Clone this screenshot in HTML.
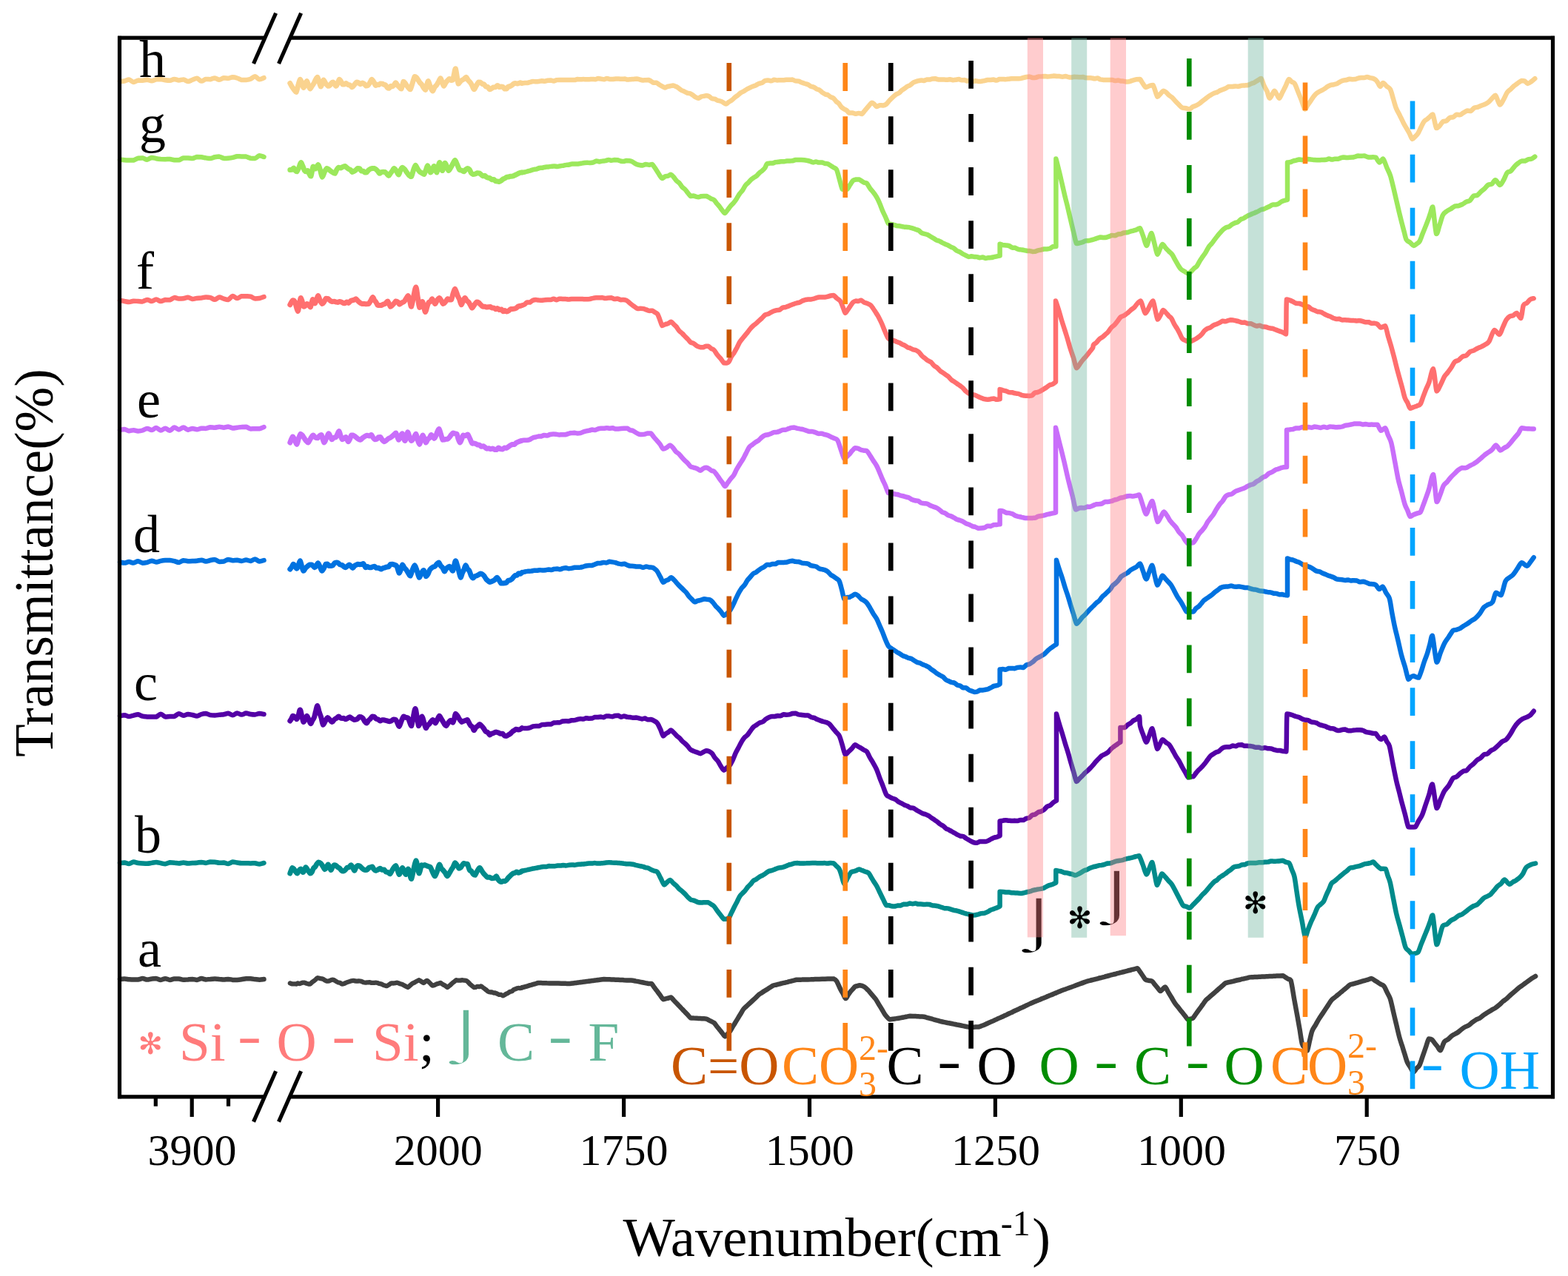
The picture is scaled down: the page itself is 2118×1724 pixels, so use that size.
<!DOCTYPE html>
<html><head><meta charset="utf-8"><title>FTIR spectra</title>
<style>html,body{margin:0;padding:0;background:#fff;overflow:hidden}svg{display:block}</style>
</head><body>
<svg width="2118" height="1724" viewBox="0 0 2118 1724"><rect x="0" y="0" width="2118" height="1724" fill="#fff"/>
<path d="M162.0 110.0C163.0 109.9 166.1 109.9 168.1 109.5C170.2 109.1 172.2 107.6 174.2 107.6C176.3 107.8 178.3 110.9 180.4 111.0C182.4 111.0 184.5 108.9 186.5 108.6C188.5 108.6 190.6 108.7 192.6 108.7C194.7 108.6 196.7 107.8 198.8 107.8C200.8 107.9 202.8 109.3 204.9 109.3C206.9 109.3 209.0 107.8 211.0 107.4C213.0 107.1 215.1 107.1 217.1 107.1C219.2 107.3 221.2 108.1 223.2 108.3C225.3 108.6 227.3 108.8 229.4 108.8C231.4 108.5 233.5 107.0 235.5 106.9C237.5 106.9 239.6 108.4 241.6 108.4C243.7 108.4 245.7 107.4 247.8 107.4C249.8 107.7 251.8 109.9 253.9 110.0C255.9 110.0 258.0 108.5 260.0 107.8C262.0 107.1 264.0 105.8 266.0 105.8C268.0 106.1 270.1 109.4 272.1 109.6C274.1 109.6 276.1 107.3 278.1 106.9C280.1 106.9 282.1 107.2 284.1 107.2C286.1 106.9 288.1 105.4 290.2 105.4C292.2 105.5 294.2 107.8 296.2 107.8C298.2 107.8 300.2 105.6 302.2 105.3C304.2 105.3 306.2 105.8 308.2 105.8C310.3 105.6 312.3 104.3 314.3 104.2C316.3 104.2 318.3 104.8 320.3 105.5C322.3 106.1 324.3 107.7 326.3 108.1C328.4 108.1 330.4 108.1 332.4 108.0C334.4 107.7 336.4 107.5 338.4 106.8C340.4 106.0 342.4 103.3 344.4 103.3C346.4 103.4 348.5 107.0 350.5 107.3C352.5 107.3 355.5 105.5 356.5 105.2" fill="none" stroke="#FAD38F" stroke-width="6.5" stroke-linejoin="round" stroke-linecap="round"/>
<path d="M391.8 112.5C392.3 113.3 393.6 116.0 394.6 117.5C395.5 119.0 396.4 120.1 397.3 121.3C398.3 122.5 399.2 124.6 400.1 124.6C401.0 123.6 401.9 118.0 402.8 115.1C403.6 112.2 404.6 107.7 405.4 107.2C406.2 107.2 406.9 109.9 407.7 111.8C408.5 113.7 409.2 118.2 410.0 118.5C410.8 118.5 411.5 115.3 412.2 113.8C413.0 112.3 413.8 109.5 414.5 109.5C415.2 109.8 416.0 114.0 416.8 115.8C417.5 117.5 418.2 119.9 419.0 120.0C419.8 120.0 420.6 117.5 421.4 116.3C422.3 115.0 423.1 114.2 423.9 112.7C424.7 111.2 425.5 108.9 426.4 107.5C427.2 106.0 428.0 104.2 428.8 104.2C429.6 104.7 430.3 108.5 431.1 110.7C431.8 112.8 432.6 116.6 433.3 117.0C434.0 117.0 434.6 114.5 435.2 113.0C435.8 111.5 436.3 108.0 437.1 108.0C437.9 108.0 439.1 111.6 440.1 113.0C441.2 114.4 442.3 115.9 443.2 116.3C444.1 116.3 444.7 116.0 445.5 115.3C446.2 114.6 447.0 112.8 447.7 112.1C448.5 111.3 449.0 111.0 450.0 111.0C451.0 111.7 452.7 116.0 453.7 116.3C454.7 116.3 455.2 114.2 456.0 112.7C456.8 111.2 457.5 107.7 458.3 107.2C459.1 107.2 459.8 108.7 460.6 109.9C461.3 111.0 462.1 113.3 462.8 114.0C463.6 114.0 464.3 114.0 465.1 114.0C465.8 113.8 466.5 112.5 467.3 112.5C468.1 112.6 469.1 114.0 470.1 114.4C471.0 114.9 471.9 114.7 472.8 115.2C473.8 115.8 474.6 117.8 475.6 117.8C476.6 117.7 477.6 115.8 478.6 114.6C479.7 113.5 480.8 111.5 481.7 111.0C482.6 111.0 483.4 111.3 484.2 111.8C485.1 112.2 485.9 113.6 486.7 113.7C487.6 113.7 488.4 112.2 489.2 112.1C490.1 112.1 490.9 112.5 491.8 113.1C492.6 113.8 493.4 115.6 494.3 116.0C495.1 116.0 495.9 116.0 496.8 115.5C497.7 114.9 498.5 113.6 499.4 112.2C500.3 110.8 501.1 107.5 502.0 107.2C502.9 107.2 503.8 109.1 504.7 110.4C505.6 111.8 506.6 114.9 507.4 115.5C508.2 115.5 508.9 114.4 509.6 114.2C510.4 114.2 511.1 114.5 511.9 114.5C512.6 114.2 513.4 113.1 514.1 112.9C514.9 112.9 515.6 113.0 516.4 113.2C517.2 113.4 517.9 114.0 518.7 114.3C519.4 114.6 520.2 114.4 521.0 115.1C521.7 115.8 522.5 117.6 523.2 118.3C524.0 119.0 524.7 119.3 525.5 119.3C526.3 119.0 527.0 116.7 527.8 116.3C528.5 116.3 529.2 116.8 530.0 116.8C530.8 116.5 531.5 115.5 532.2 114.7C533.0 113.8 533.7 111.7 534.5 111.7C535.3 111.8 536.2 114.2 537.0 115.2C537.9 116.3 538.7 117.1 539.6 117.9C540.4 118.7 541.2 120.0 542.1 120.0C543.0 118.7 544.2 111.4 545.1 110.2C546.0 110.2 546.6 111.5 547.4 112.5C548.1 113.5 548.9 114.9 549.7 116.0C550.4 117.0 551.2 118.0 551.9 118.8C552.7 119.6 553.3 120.8 554.2 120.8C555.1 119.7 556.2 115.0 557.2 112.1C558.2 109.2 559.3 104.6 560.2 103.4C561.1 103.4 561.7 103.8 562.5 104.6C563.3 105.3 564.0 106.8 564.8 108.0C565.6 109.2 566.4 110.7 567.2 111.7C568.1 112.8 568.9 113.2 569.7 114.3C570.5 115.4 571.3 117.2 572.1 118.4C573.0 119.6 573.9 121.5 574.6 121.5C575.3 121.0 575.9 117.3 576.5 115.3C577.1 113.3 577.6 109.5 578.4 109.5C579.2 109.9 580.4 115.2 581.4 117.4C582.4 119.7 583.5 122.9 584.4 123.0C585.3 123.0 586.2 119.2 587.0 117.9C587.9 116.6 588.8 116.3 589.7 115.0C590.6 113.8 591.5 112.1 592.4 110.5C593.2 109.0 594.2 105.7 595.0 105.7C595.8 105.8 596.5 109.4 597.2 111.1C598.0 112.9 598.7 116.2 599.5 116.3C600.3 116.3 601.2 113.2 602.0 111.9C602.8 110.7 603.7 109.7 604.5 108.8C605.3 107.9 606.2 106.5 607.0 106.4C607.8 106.4 608.5 108.1 609.3 108.4C610.1 108.4 610.9 108.4 611.6 108.0C612.3 106.5 612.9 102.2 613.5 99.7C614.1 97.2 614.5 92.8 615.4 92.8C616.3 95.1 618.0 110.3 619.1 113.2C620.2 113.2 620.9 110.9 621.8 110.1C622.6 109.2 623.5 108.7 624.4 108.1C625.3 107.6 626.2 107.2 627.1 106.5C627.9 105.9 628.8 104.2 629.7 104.2C630.6 104.5 631.5 107.2 632.4 108.4C633.2 109.6 634.1 110.0 635.0 111.2C635.9 112.4 636.8 113.8 637.6 115.4C638.5 117.0 639.4 120.7 640.3 120.8C641.2 120.8 642.3 117.5 643.3 115.9C644.3 114.3 645.4 111.8 646.3 111.0C647.2 111.0 648.0 111.0 648.8 111.2C649.7 111.6 650.5 112.8 651.4 113.3C652.2 113.7 653.1 113.4 653.9 114.0C654.7 114.6 655.6 116.5 656.4 117.0C657.2 117.5 658.1 117.0 658.9 117.5C659.7 118.1 660.5 120.5 661.4 120.8C662.3 120.8 663.2 120.0 664.0 119.5C664.9 119.0 665.8 118.2 666.7 117.9C667.6 117.6 668.5 117.9 669.4 117.6C670.2 117.2 671.2 115.5 672.0 115.5C672.8 115.5 673.6 117.3 674.4 117.6C675.2 117.6 676.0 117.1 676.8 117.1C677.6 117.1 678.5 117.1 679.3 117.5C680.1 118.0 680.9 119.7 681.7 120.1C682.5 120.1 683.3 120.1 684.1 120.0C684.9 119.5 685.7 117.8 686.5 117.3C687.3 116.7 688.1 116.9 688.9 116.6C689.7 116.2 690.6 115.8 691.4 115.2C692.2 114.7 693.0 113.6 693.8 113.2C694.6 112.7 695.4 112.5 696.2 112.5C697.0 112.5 697.7 113.0 698.4 113.0C699.1 113.0 699.9 112.7 700.6 112.5C701.3 112.4 702.1 111.9 702.8 111.8C703.5 111.8 704.6 112.4 705.0 112.5" fill="none" stroke="#FAD38F" stroke-width="7.0" stroke-linejoin="round" stroke-linecap="round"/>
<path d="M705.0 112.5C705.6 112.4 707.5 112.0 708.7 111.9C710.0 111.9 711.2 112.0 712.5 112.0C713.7 111.8 715.0 111.2 716.2 110.9C717.5 110.5 718.7 110.1 720.0 110.0C721.2 110.0 722.4 110.3 723.7 110.3C725.0 110.3 726.4 110.2 727.7 110.0C729.1 109.8 730.4 109.3 731.8 109.2C733.1 109.2 734.5 109.8 735.8 109.8C737.1 109.7 738.5 109.0 739.8 108.7C741.2 108.5 742.5 108.4 743.9 108.4C745.2 108.5 746.6 109.5 747.9 109.5C749.2 109.4 750.6 108.5 751.9 108.2C753.3 107.9 754.6 107.9 756.0 107.9C757.3 107.9 758.7 108.0 760.0 108.0C761.3 108.0 762.7 108.0 764.0 108.0C765.3 108.0 766.7 108.1 768.0 108.1C769.3 108.1 770.7 108.0 772.0 108.0C773.3 108.0 774.7 108.1 776.0 108.1C777.3 108.0 778.7 107.2 780.0 107.1C781.3 107.1 782.7 107.3 784.0 107.3C785.3 107.3 786.7 107.1 788.0 107.1C789.3 107.1 790.7 107.2 792.0 107.2C793.3 107.2 794.7 107.2 796.0 107.2C797.3 107.2 798.7 107.0 800.0 107.0C801.3 107.0 802.6 107.2 804.0 107.2C805.3 107.0 806.6 106.2 808.0 106.1C809.3 106.1 810.6 106.4 811.9 106.6C813.2 106.8 814.6 107.2 815.9 107.2C817.2 107.1 818.5 105.9 819.9 105.9C821.2 105.9 822.5 107.0 823.8 107.1C825.2 107.1 826.5 107.1 827.8 107.0C829.1 106.9 830.5 106.7 831.8 106.6C833.1 106.6 834.5 106.6 835.8 106.6C837.2 106.6 838.5 106.8 839.8 106.8C841.2 106.8 842.5 106.6 843.9 106.6C845.2 106.7 846.5 107.4 847.9 107.5C849.2 107.5 850.6 107.3 851.9 107.2C853.2 107.1 854.6 107.0 855.9 106.9C857.2 106.8 858.6 106.6 859.9 106.6C861.3 106.7 862.6 107.0 863.9 107.3C865.3 107.6 866.6 108.4 868.0 108.5C869.3 108.5 870.6 108.3 872.0 108.2C873.3 108.1 874.7 108.0 876.0 108.0C877.3 108.3 878.3 109.1 879.5 109.7C880.7 110.4 881.8 111.5 883.0 111.8C884.2 111.8 885.3 111.7 886.5 111.7C887.7 112.0 888.8 113.2 890.0 114.0C891.2 114.8 892.7 115.7 894.0 116.4C895.3 117.1 896.7 118.3 898.0 118.4C899.3 118.4 900.4 117.2 901.7 116.9C902.9 116.5 904.1 116.5 905.3 116.3C906.6 116.1 907.8 115.5 909.0 115.5C910.2 115.6 911.6 116.2 912.8 116.8C914.1 117.4 915.4 118.2 916.7 119.1C917.9 119.9 919.2 121.2 920.5 122.0C921.8 122.7 923.1 122.9 924.3 123.6C925.6 124.2 926.9 125.2 928.2 125.7C929.4 126.1 930.7 125.7 932.0 126.2C933.3 126.7 934.6 127.7 935.8 128.5C937.1 129.4 938.4 130.6 939.7 131.3C940.9 132.0 942.3 132.7 943.5 132.7C944.7 132.6 945.8 131.2 947.0 130.7C948.2 130.3 949.3 130.1 950.5 129.9C951.7 129.6 952.8 129.3 954.0 129.3C955.2 129.3 956.5 129.5 957.8 130.2C959.0 130.8 960.3 132.5 961.6 133.1C962.8 133.7 964.1 133.2 965.4 133.7C966.6 134.1 967.9 135.1 969.1 135.6C970.4 136.1 971.7 136.1 972.9 136.5C974.2 136.9 975.5 137.6 976.7 138.3C978.0 139.0 979.2 140.6 980.5 140.6C981.8 140.5 983.1 138.6 984.5 137.8C985.8 136.9 987.1 136.4 988.4 135.4C989.8 134.4 991.1 132.9 992.4 131.8C993.7 130.7 995.0 129.9 996.4 128.9C997.7 127.8 999.0 126.4 1000.3 125.5C1001.7 124.6 1002.9 124.3 1004.3 123.5C1005.7 122.7 1007.1 121.5 1008.5 120.7C1009.8 119.9 1011.2 119.4 1012.6 118.7C1014.0 118.1 1015.4 117.3 1016.8 116.8C1018.2 116.2 1019.5 116.0 1020.9 115.3C1022.3 114.7 1023.7 113.5 1025.1 112.9C1026.5 112.3 1027.9 112.6 1029.2 111.9C1030.6 111.3 1032.0 109.6 1033.4 109.0C1034.8 108.5 1036.1 108.5 1037.5 108.5C1038.9 108.5 1040.3 109.3 1041.6 109.3C1043.0 109.2 1044.4 107.9 1045.7 107.8C1047.1 107.8 1048.5 108.3 1049.8 108.4C1051.2 108.4 1052.6 108.3 1054.0 108.3C1055.3 108.3 1056.7 108.3 1058.1 108.3C1059.4 108.3 1060.8 107.8 1062.2 107.7C1063.5 107.7 1064.9 107.8 1066.3 107.8C1067.7 107.8 1069.0 107.6 1070.4 107.6C1071.8 107.9 1073.2 109.1 1074.6 109.4C1076.0 109.6 1077.4 109.4 1078.8 109.6C1080.2 110.0 1081.7 111.0 1083.1 111.6C1084.5 112.2 1085.9 112.6 1087.3 113.0C1088.7 113.5 1090.2 113.6 1091.5 114.2C1092.8 114.8 1094.0 116.2 1095.3 116.8C1096.6 117.3 1097.9 117.1 1099.1 117.7C1100.4 118.3 1101.7 119.6 1103.0 120.2C1104.2 120.9 1105.5 120.8 1106.8 121.6C1108.1 122.3 1109.3 123.8 1110.6 124.8C1111.9 125.7 1113.2 126.6 1114.4 127.2C1115.7 127.8 1117.0 127.7 1118.3 128.3C1119.5 129.0 1120.8 130.5 1122.1 131.2C1123.4 131.9 1124.7 131.7 1125.9 132.7C1127.1 133.7 1128.3 135.8 1129.4 137.0C1130.6 138.1 1131.8 138.5 1133.0 139.8C1134.1 141.0 1135.3 143.4 1136.5 144.6C1137.7 145.8 1138.8 146.4 1140.0 147.2C1141.2 147.9 1142.3 148.2 1143.5 149.0C1144.7 149.9 1145.7 151.9 1147.0 152.5C1148.3 152.5 1149.9 152.5 1151.3 152.5C1152.7 152.7 1154.2 153.7 1155.6 153.7C1157.0 153.7 1158.5 152.9 1159.9 152.9C1161.3 152.9 1162.8 153.9 1164.2 153.9C1165.6 153.3 1166.9 150.9 1168.2 149.4C1169.5 147.8 1170.7 146.4 1172.2 144.6C1173.8 142.8 1176.1 139.5 1177.5 138.8C1178.9 138.8 1179.7 139.7 1180.8 140.6C1181.8 141.5 1182.7 143.7 1184.0 144.0C1185.3 144.0 1187.0 142.4 1188.4 142.2C1189.9 142.2 1191.4 142.5 1192.9 142.5C1194.3 142.3 1195.8 141.8 1197.3 140.6C1198.8 139.4 1200.2 137.0 1201.7 135.5C1203.2 133.9 1204.6 132.6 1206.1 131.2C1207.6 129.9 1209.1 128.3 1210.5 127.4C1211.9 126.5 1213.0 126.6 1214.3 125.7C1215.5 124.9 1216.8 123.2 1218.1 122.1C1219.3 121.1 1220.6 120.4 1221.9 119.5C1223.1 118.6 1224.4 117.6 1225.6 116.8C1226.9 116.1 1228.2 115.9 1229.4 115.1C1230.7 114.3 1232.0 112.7 1233.2 111.9C1234.5 111.0 1235.7 110.7 1237.0 110.2C1238.3 109.7 1239.5 109.4 1240.8 109.1C1242.0 108.9 1243.3 108.6 1244.5 108.6C1245.8 108.6 1247.1 109.0 1248.3 109.0C1249.6 108.8 1250.8 107.6 1252.1 107.4C1253.3 107.4 1254.6 107.6 1255.9 107.6C1257.1 107.4 1258.4 106.6 1259.6 106.4C1260.9 106.3 1262.1 106.3 1263.4 106.3C1264.7 106.5 1266.0 107.2 1267.4 107.4C1268.7 107.5 1270.0 107.5 1271.3 107.5C1272.6 107.6 1274.0 107.6 1275.3 107.6C1276.6 107.6 1277.9 107.7 1279.2 107.7C1280.6 107.7 1281.9 107.3 1283.2 107.3C1284.5 107.4 1285.8 108.1 1287.2 108.2C1288.5 108.2 1289.8 108.0 1291.1 107.8C1292.4 107.6 1293.8 107.1 1295.1 107.1C1296.4 107.2 1297.7 108.2 1299.0 108.3C1300.4 108.3 1301.8 108.1 1303.0 108.1C1304.2 108.3 1305.4 109.3 1306.5 109.4C1307.7 109.4 1308.9 108.6 1310.1 108.6C1311.2 108.8 1312.3 110.1 1313.6 110.2C1314.9 110.2 1316.3 109.4 1317.6 109.3C1319.0 109.3 1320.3 110.0 1321.7 110.1C1323.0 110.1 1324.4 109.9 1325.7 109.8C1327.1 109.6 1328.4 109.4 1329.8 109.1C1331.1 108.8 1332.5 108.2 1333.8 108.0C1335.2 107.9 1336.5 108.0 1337.9 107.9C1339.2 107.9 1340.6 107.6 1341.9 107.6C1343.3 107.7 1344.6 108.6 1346.0 108.6C1347.3 108.5 1348.7 107.2 1350.0 107.0C1351.4 106.9 1352.7 106.9 1354.1 106.9C1355.4 106.9 1356.8 107.2 1358.1 107.2C1359.5 107.2 1360.8 107.0 1362.2 106.8C1363.5 106.7 1364.9 106.4 1366.2 106.3C1367.6 106.2 1368.9 106.2 1370.3 106.2C1371.6 106.2 1373.0 106.3 1374.3 106.3C1375.7 106.2 1377.0 106.3 1378.4 106.1C1379.7 105.8 1381.0 105.3 1382.4 105.0C1383.8 104.7 1385.2 104.3 1386.6 104.0C1388.0 103.8 1389.4 103.6 1390.7 103.6C1392.1 103.8 1393.5 104.8 1394.9 104.9C1396.3 104.9 1397.7 104.9 1399.1 104.7C1400.5 104.4 1401.9 103.6 1403.3 103.4C1404.6 103.2 1406.0 103.2 1407.4 103.2C1408.8 103.1 1410.2 103.1 1411.6 103.1C1413.0 103.2 1414.2 103.5 1415.5 103.5C1416.9 103.5 1418.2 103.3 1419.5 103.1C1420.8 103.0 1422.1 102.7 1423.4 102.6C1424.7 102.6 1426.0 102.9 1427.4 103.0C1428.7 103.0 1430.0 103.0 1431.3 103.1C1432.6 103.3 1433.9 103.7 1435.2 103.7C1436.5 103.7 1437.9 103.0 1439.2 103.0C1440.5 103.1 1441.8 103.9 1443.1 104.1C1444.4 104.4 1445.7 104.6 1447.0 104.6C1448.4 104.6 1449.7 103.8 1451.0 103.7C1452.3 103.7 1453.6 104.0 1454.9 104.1C1456.2 104.2 1457.5 104.3 1458.9 104.3C1460.2 104.3 1461.5 104.1 1462.8 104.1C1464.1 104.2 1465.4 104.9 1466.7 105.1C1468.1 105.2 1469.4 105.1 1470.7 105.2C1472.0 105.3 1473.3 105.3 1474.6 105.4C1475.9 105.6 1477.3 106.2 1478.6 106.2C1479.9 106.2 1481.2 105.4 1482.5 105.4C1483.8 105.6 1485.2 107.1 1486.5 107.5C1487.8 107.9 1489.1 107.8 1490.4 107.9C1491.7 107.9 1493.0 107.9 1494.4 107.9C1495.7 107.9 1497.0 108.0 1498.3 108.0C1499.6 108.0 1500.9 107.9 1502.2 107.9C1503.6 108.1 1504.9 109.0 1506.2 109.1C1507.5 109.1 1508.8 108.5 1510.2 108.5C1511.5 108.5 1512.8 109.3 1514.1 109.5C1515.4 109.7 1516.7 109.5 1518.0 109.7C1519.4 109.8 1520.6 110.6 1522.0 110.6C1523.4 110.6 1525.0 110.2 1526.5 109.8C1527.9 109.4 1529.4 108.8 1530.9 108.4C1532.4 107.9 1533.9 107.4 1535.3 107.2C1536.8 107.0 1538.4 107.0 1539.8 107.0C1541.2 108.0 1542.4 111.2 1543.8 113.0C1545.1 114.8 1546.2 117.4 1547.7 117.9C1549.2 117.9 1551.0 116.5 1552.6 116.0C1554.2 115.5 1555.7 115.0 1557.5 115.0C1559.3 117.4 1561.8 128.7 1563.4 130.7C1565.0 130.7 1566.0 128.2 1567.3 126.9C1568.7 125.5 1570.0 123.1 1571.3 122.8C1572.6 122.8 1573.9 123.9 1575.3 124.9C1576.6 125.9 1577.9 127.7 1579.2 128.8C1580.6 130.0 1581.8 130.4 1583.2 131.7C1584.6 133.0 1586.3 135.2 1587.8 136.8C1589.3 138.4 1590.9 140.0 1592.4 141.4C1593.9 142.9 1595.4 144.7 1597.0 145.5C1598.6 146.2 1600.3 145.9 1601.9 146.2C1603.5 146.5 1605.2 147.5 1606.8 147.5C1608.4 147.2 1609.9 145.0 1611.4 144.2C1612.9 143.4 1614.5 143.2 1616.0 142.4C1617.5 141.7 1619.2 140.6 1620.6 139.6C1622.0 138.6 1623.2 137.3 1624.5 136.3C1625.9 135.3 1627.2 134.3 1628.5 133.3C1629.8 132.3 1631.1 131.1 1632.5 130.2C1633.8 129.3 1635.1 128.5 1636.4 127.8C1637.7 127.1 1639.0 126.3 1640.3 125.8C1641.6 125.2 1643.0 125.1 1644.3 124.5C1645.6 123.9 1646.9 122.8 1648.2 122.2C1649.5 121.6 1650.8 121.3 1652.1 120.8C1653.4 120.3 1654.8 119.8 1656.1 119.1C1657.4 118.5 1658.6 117.2 1660.0 116.9C1661.4 116.9 1662.9 117.1 1664.3 117.1C1665.7 117.1 1667.1 116.4 1668.6 116.4C1670.0 116.4 1671.4 116.8 1672.8 116.8C1674.3 116.7 1675.7 115.9 1677.1 115.6C1678.6 115.4 1680.0 115.5 1681.4 115.4C1682.8 115.3 1684.2 115.4 1685.7 115.0C1687.2 114.6 1688.7 113.6 1690.2 113.0C1691.6 112.4 1693.1 112.1 1694.6 111.3C1696.1 110.6 1697.6 109.5 1699.0 108.6C1700.5 107.7 1702.1 106.0 1703.5 106.0C1704.9 107.2 1706.1 112.8 1707.4 115.7C1708.7 118.5 1710.1 120.3 1711.4 123.2C1712.7 126.0 1713.7 132.7 1715.3 132.7C1716.9 132.6 1719.6 123.6 1721.2 122.8C1722.8 122.8 1723.5 126.0 1724.7 127.6C1725.8 129.3 1726.8 132.7 1728.1 132.7C1729.4 132.2 1731.0 127.3 1732.4 124.5C1733.8 121.7 1735.3 118.9 1736.7 116.0C1738.1 113.1 1739.6 107.9 1741.0 107.0C1742.4 107.0 1743.6 109.6 1744.9 110.6C1746.2 111.6 1747.4 110.8 1748.8 113.0C1750.2 115.2 1751.9 120.3 1753.4 124.1C1754.9 127.9 1756.5 131.8 1758.0 135.7C1759.5 139.6 1761.2 146.4 1762.6 147.5C1764.0 147.5 1765.1 143.9 1766.3 142.2C1767.6 140.4 1768.8 138.8 1770.0 137.0C1771.3 135.1 1772.5 132.9 1773.8 131.2C1775.0 129.5 1776.2 128.0 1777.5 126.8C1778.8 125.6 1780.1 124.9 1781.5 124.1C1782.8 123.3 1784.1 122.8 1785.4 122.1C1786.7 121.4 1788.0 120.7 1789.3 119.8C1790.7 118.9 1791.9 117.7 1793.3 116.9C1794.7 116.1 1796.1 115.4 1797.6 114.9C1799.0 114.5 1800.4 114.5 1801.8 114.2C1803.3 113.8 1804.7 113.5 1806.1 112.9C1807.5 112.3 1808.9 111.1 1810.4 110.3C1811.8 109.6 1813.2 109.0 1814.6 108.6C1816.1 108.2 1817.5 108.3 1818.9 108.0C1820.3 107.7 1821.5 107.0 1822.8 106.8C1824.2 106.8 1825.5 107.2 1826.8 107.2C1828.1 107.2 1829.4 107.2 1830.7 107.1C1832.0 106.8 1833.4 105.9 1834.7 105.6C1836.0 105.2 1837.3 105.0 1838.6 104.9C1839.9 104.9 1841.2 104.9 1842.6 104.9C1843.9 104.8 1845.2 104.1 1846.5 104.1C1847.8 104.1 1849.1 104.8 1850.4 105.1C1851.7 105.4 1853.1 105.4 1854.4 105.9C1855.7 106.4 1857.1 107.0 1858.3 108.0C1859.5 109.0 1860.3 110.5 1861.3 112.0C1862.3 113.5 1863.1 116.9 1864.3 116.9C1865.5 116.9 1866.7 112.0 1868.2 112.0C1869.7 112.0 1871.5 115.1 1873.1 116.6C1874.7 118.1 1876.5 118.1 1878.0 120.9C1879.5 123.7 1880.7 129.4 1882.0 133.6C1883.3 137.9 1884.5 142.8 1886.0 146.5C1887.5 150.2 1889.3 152.8 1890.9 156.1C1892.5 159.4 1894.3 163.3 1895.8 166.2C1897.3 169.1 1898.4 170.9 1899.8 173.2C1901.1 175.5 1902.4 177.6 1903.7 180.0C1905.1 182.5 1906.4 187.2 1907.7 187.9C1909.0 187.9 1910.3 185.7 1911.6 184.4C1912.9 183.1 1914.2 182.1 1915.5 180.0C1916.8 177.9 1918.1 174.5 1919.5 171.9C1920.8 169.3 1922.1 166.1 1923.4 164.3C1924.7 162.5 1926.0 162.4 1927.4 161.3C1928.7 160.3 1930.0 159.0 1931.3 157.8C1932.7 156.7 1933.8 154.4 1935.3 154.4C1936.8 156.9 1938.7 170.5 1940.2 173.1C1941.8 173.1 1943.1 171.4 1944.6 170.0C1946.1 168.5 1947.5 165.4 1949.0 164.3C1950.5 163.3 1952.1 164.1 1953.6 163.3C1955.2 162.4 1956.7 160.0 1958.2 159.2C1959.8 158.3 1961.3 158.9 1962.8 158.2C1964.4 157.5 1965.9 155.3 1967.5 154.8C1969.0 154.8 1970.5 155.2 1972.1 155.2C1973.6 154.8 1975.1 153.3 1976.7 152.4C1978.3 151.5 1980.0 150.0 1981.6 149.6C1983.3 149.6 1984.9 150.0 1986.6 150.0C1988.2 149.3 1989.9 146.5 1991.5 145.6C1993.1 144.7 1994.8 145.1 1996.4 144.6C1998.1 144.0 1999.7 143.2 2001.4 142.5C2003.0 141.9 2004.7 141.4 2006.3 140.6C2007.9 139.8 2009.3 139.0 2010.9 137.7C2012.4 136.5 2013.9 134.5 2015.4 133.0C2017.0 131.6 2018.2 128.8 2020.0 128.8C2021.8 130.2 2024.2 140.7 2026.0 141.6C2027.8 141.6 2029.3 137.2 2031.0 134.4C2032.6 131.6 2034.3 127.2 2035.9 124.8C2037.5 122.4 2039.2 121.8 2040.8 120.3C2042.5 118.7 2044.1 117.0 2045.8 115.6C2047.4 114.2 2049.0 113.0 2050.7 111.9C2052.3 110.8 2054.1 109.4 2055.6 109.0C2057.1 109.0 2058.2 109.0 2059.6 109.5C2060.9 110.2 2062.0 112.9 2063.5 113.0C2065.0 113.0 2066.8 111.4 2068.4 110.2C2070.0 109.1 2072.5 106.8 2073.3 106.1" fill="none" stroke="#FAD38F" stroke-width="6.5" stroke-linejoin="round" stroke-linecap="round"/>
<path d="M162.0 215.7C163.0 215.8 166.1 216.2 168.1 216.3C170.2 216.5 172.2 216.5 174.2 216.5C176.3 216.5 178.3 216.5 180.4 216.5C182.4 216.0 184.5 214.3 186.5 213.8C188.5 213.4 190.6 213.4 192.6 213.4C194.7 213.7 196.7 215.7 198.8 215.7C200.8 215.6 202.8 213.2 204.9 213.0C206.9 213.0 209.0 213.8 211.0 214.2C213.0 214.6 215.1 214.9 217.1 215.1C219.2 215.2 221.2 215.2 223.2 215.2C225.3 215.2 227.3 215.0 229.4 215.0C231.4 215.2 233.5 216.0 235.5 216.2C237.5 216.2 239.6 216.2 241.6 216.2C243.7 215.8 245.7 213.9 247.8 213.5C249.8 213.4 251.8 213.4 253.9 213.4C255.9 213.5 258.0 214.0 260.0 214.0C262.0 213.8 264.0 212.3 266.0 212.0C268.0 212.0 270.1 212.0 272.1 212.2C274.1 212.5 276.1 213.1 278.1 213.4C280.1 213.7 282.1 214.1 284.1 214.1C286.1 213.9 288.1 212.7 290.2 212.3C292.2 211.9 294.2 211.6 296.2 211.6C298.2 211.9 300.2 213.5 302.2 213.9C304.2 213.9 306.2 213.9 308.2 213.7C310.3 213.5 312.3 213.3 314.3 212.9C316.3 212.5 318.3 211.6 320.3 211.3C322.3 211.3 324.3 211.4 326.3 211.4C328.4 211.5 330.4 211.4 332.4 211.6C334.4 212.0 336.4 213.4 338.4 213.8C340.4 214.0 342.4 214.0 344.4 214.0C346.4 213.4 348.5 210.6 350.5 210.3C352.5 210.3 355.5 211.7 356.5 212.0" fill="none" stroke="#9CE85C" stroke-width="6.5" stroke-linejoin="round" stroke-linecap="round"/>
<path d="M391.8 229.4C392.2 229.4 393.4 229.4 394.2 229.3C395.1 228.9 395.9 226.9 396.7 226.9C397.5 227.1 398.1 229.6 398.9 230.4C399.6 231.2 400.2 231.8 401.0 231.8C401.8 231.1 402.8 228.5 403.8 226.5C404.7 224.4 405.6 219.9 406.5 219.6C407.4 219.6 408.1 222.6 408.9 224.4C409.8 226.2 410.6 229.4 411.4 230.6C412.2 231.8 412.8 231.8 413.5 231.8C414.3 231.8 415.0 230.6 415.7 230.6C416.4 231.1 417.1 233.9 417.9 235.1C418.6 236.3 419.1 238.0 420.0 238.0C420.9 236.3 422.0 226.8 423.0 225.1C424.0 225.1 425.0 228.1 426.1 228.1C427.2 227.7 428.7 222.6 429.8 222.6C430.9 222.9 431.6 227.2 432.6 230.0C433.5 232.7 434.3 238.8 435.3 239.2C436.3 239.2 437.4 234.1 438.4 232.1C439.4 230.2 440.5 228.0 441.5 227.5C442.5 227.5 443.5 228.6 444.6 229.3C445.6 230.0 446.7 231.1 447.6 231.8C448.5 232.5 449.2 232.8 450.1 233.3C450.9 233.7 451.7 234.3 452.5 234.3C453.3 233.6 454.1 230.4 454.9 229.1C455.8 227.7 456.5 226.7 457.4 226.3C458.3 226.3 459.3 226.9 460.3 226.9C461.2 226.8 462.2 225.9 463.1 225.5C464.1 225.2 465.1 224.5 466.0 224.5C466.9 224.7 467.6 225.9 468.4 226.5C469.3 227.2 470.1 227.9 470.9 228.4C471.7 228.9 472.5 228.7 473.4 229.4C474.2 230.1 475.0 232.1 475.8 232.4C476.6 232.4 477.4 231.9 478.3 231.4C479.1 231.0 479.9 230.4 480.7 229.8C481.6 229.1 482.4 227.9 483.2 227.5C484.0 227.5 484.8 227.5 485.6 227.6C486.5 228.2 487.3 230.4 488.1 231.0C488.9 231.2 489.7 231.0 490.6 231.2C491.4 231.6 492.2 232.7 493.0 233.0C493.8 233.0 494.6 233.0 495.4 232.8C496.3 232.2 497.1 230.6 497.9 229.8C498.7 229.1 499.5 228.5 500.4 228.1C501.2 227.7 502.0 227.6 502.8 227.5C503.6 227.4 504.5 227.4 505.3 227.4C506.1 227.6 507.0 228.2 507.8 228.8C508.6 229.4 509.4 230.2 510.2 231.1C511.1 232.0 511.9 234.1 512.7 234.3C513.5 234.3 514.3 232.9 515.1 232.6C515.9 232.2 516.8 232.2 517.6 232.2C518.4 232.2 519.2 232.2 520.0 232.4C520.8 232.8 521.7 234.0 522.5 234.8C523.3 235.7 524.2 237.4 525.0 237.4C525.8 237.3 526.6 235.3 527.4 234.2C528.2 233.2 529.1 232.1 529.9 230.9C530.7 229.8 531.4 227.5 532.3 227.5C533.2 227.5 534.3 229.4 535.3 230.8C536.4 232.3 537.5 236.1 538.4 236.1C539.3 236.0 540.1 231.6 540.9 230.0C541.7 228.3 542.5 226.5 543.4 226.3C544.3 226.3 545.4 227.6 546.5 228.7C547.5 229.8 548.5 231.6 549.5 233.0C550.5 234.4 551.5 235.9 552.5 236.8C553.6 237.8 554.6 238.6 555.6 238.6C556.6 237.5 557.5 232.5 558.4 230.0C559.3 227.4 560.3 223.5 561.2 223.2C562.1 223.2 563.0 226.5 564.0 228.0C564.9 229.4 565.7 230.8 566.7 231.8C567.7 232.8 568.7 233.2 569.8 233.8C570.8 234.4 571.9 235.5 572.8 235.5C573.7 234.9 574.4 231.9 575.2 229.9C576.1 228.0 576.7 223.8 577.7 223.8C578.7 224.3 580.4 232.0 581.4 233.0C582.4 233.0 583.0 231.3 583.8 229.9C584.7 228.5 585.3 224.5 586.3 224.5C587.3 225.0 588.8 233.0 590.0 233.0C591.2 232.2 592.5 220.0 593.7 219.6C594.9 219.6 596.2 230.5 597.4 230.6C598.6 230.6 600.0 221.2 601.0 220.2C602.0 220.2 602.7 223.0 603.5 224.8C604.3 226.5 605.1 230.3 606.0 230.6C606.9 230.6 607.9 228.0 608.9 226.4C609.8 224.9 610.8 222.9 611.7 221.2C612.7 219.6 613.6 216.5 614.6 216.5C615.6 216.7 616.6 220.5 617.7 222.6C618.7 224.8 619.7 228.1 620.7 229.4C621.7 230.3 622.7 229.9 623.8 230.3C624.8 230.7 625.9 231.8 626.8 231.8C627.7 231.6 628.4 229.6 629.2 228.9C630.1 228.2 630.9 227.5 631.7 227.5C632.5 227.5 633.3 228.1 634.2 229.1C635.0 230.2 635.8 232.9 636.6 233.9C637.5 235.0 638.2 235.3 639.1 235.5C640.0 235.5 641.1 235.3 642.0 235.0C643.0 234.7 644.1 233.9 645.0 233.7C645.9 233.7 646.7 233.7 647.5 234.0C648.3 234.4 649.2 235.4 650.0 236.0C650.8 236.6 651.6 237.6 652.4 237.8C653.2 237.8 654.0 237.2 654.8 237.2C655.6 237.5 656.4 238.9 657.2 239.4C658.0 239.9 658.8 240.0 659.6 240.2C660.4 240.5 661.2 240.6 662.0 241.0C662.8 241.4 663.7 242.4 664.5 242.7C665.4 242.7 666.2 242.5 667.0 242.5C667.9 242.9 668.7 244.4 669.6 244.8C670.4 245.1 671.2 245.0 672.1 245.1C672.9 245.2 673.8 245.4 674.6 245.4C675.4 245.2 676.3 244.6 677.1 244.0C677.9 243.4 678.7 242.4 679.6 241.9C680.4 241.3 681.2 241.4 682.0 240.9C682.9 240.5 683.7 239.6 684.5 239.3C685.3 239.0 686.2 239.2 687.0 239.0C687.8 238.8 688.7 238.4 689.6 238.2C690.4 238.1 691.3 238.2 692.1 238.1C693.0 237.9 693.9 237.4 694.7 237.1C695.6 236.7 696.4 236.4 697.3 235.9C698.1 235.5 699.0 235.0 699.9 234.5C700.7 234.1 701.6 233.5 702.4 233.3C703.3 233.0 704.6 233.0 705.0 233.0" fill="none" stroke="#9CE85C" stroke-width="7.0" stroke-linejoin="round" stroke-linecap="round"/>
<path d="M705.0 233.0C705.7 232.9 707.6 232.8 708.9 232.5C710.2 232.3 711.6 231.7 712.9 231.3C714.2 230.9 715.5 230.7 716.8 230.3C718.1 229.9 719.4 229.4 720.7 229.1C722.0 228.8 723.4 228.9 724.7 228.5C726.0 228.2 727.3 227.3 728.6 227.0C729.9 226.7 731.3 226.9 732.6 226.7C734.0 226.5 735.3 225.9 736.7 225.7C738.0 225.5 739.3 225.6 740.7 225.4C742.0 225.3 743.4 225.1 744.7 224.9C746.1 224.7 747.4 224.4 748.7 224.4C750.1 224.4 751.4 225.1 752.8 225.1C754.1 225.0 755.5 224.5 756.8 224.3C758.1 224.0 759.5 223.9 760.8 223.7C762.2 223.4 763.5 223.1 764.9 222.9C766.2 222.7 767.5 222.8 768.9 222.5C770.2 222.3 771.6 221.6 772.9 221.4C774.3 221.4 775.6 221.6 776.9 221.6C778.3 221.6 779.6 221.5 781.0 221.4C782.3 221.3 783.6 221.0 785.0 220.8C786.4 220.6 787.7 220.2 789.1 220.0C790.5 219.8 791.9 219.7 793.2 219.7C794.6 219.8 796.0 220.1 797.3 220.1C798.7 220.0 800.1 219.9 801.4 219.4C802.8 219.0 804.2 217.5 805.6 217.4C806.9 217.4 808.3 218.4 809.7 218.4C811.0 218.4 812.4 217.8 813.8 217.6C815.1 217.4 816.5 217.4 817.9 217.1C819.3 216.8 820.6 216.0 822.0 216.0C823.4 216.0 824.7 216.8 826.0 216.8C827.3 216.8 828.7 216.2 830.0 216.1C831.3 216.1 832.7 216.1 834.0 216.2C835.3 216.5 836.7 217.1 838.0 217.5C839.3 217.8 840.7 218.1 842.0 218.1C843.3 218.0 844.7 217.2 846.0 217.1C847.3 217.1 848.7 217.1 850.0 217.2C851.3 217.4 852.5 217.7 854.0 218.4C855.5 219.1 857.2 220.7 858.9 221.5C860.5 222.3 862.2 222.7 863.7 223.0C865.2 223.3 866.6 223.5 868.0 223.5C869.4 223.3 870.9 222.2 872.3 222.1C873.7 222.1 875.2 222.8 876.6 222.8C878.0 222.8 879.6 222.0 880.9 222.0C882.2 222.6 883.3 225.0 884.5 226.6C885.6 228.3 886.9 230.3 888.0 232.0C889.1 233.7 890.2 235.6 891.2 237.1C892.3 238.6 893.3 240.8 894.5 241.0C895.7 241.0 897.1 238.9 898.5 238.4C899.8 237.8 901.1 238.2 902.4 237.7C903.8 237.3 905.1 235.8 906.4 235.8C907.7 236.1 908.9 238.0 910.2 239.5C911.4 240.9 912.7 243.1 914.0 244.4C915.2 245.7 916.5 246.1 917.8 247.5C919.0 248.9 920.3 251.3 921.5 252.8C922.8 254.2 924.1 254.6 925.3 255.9C926.6 257.3 927.9 259.2 929.1 260.7C930.4 262.2 931.7 264.4 932.9 265.0C934.1 265.0 935.3 264.6 936.4 264.6C937.6 264.7 938.8 265.3 940.0 265.6C941.1 265.9 942.3 266.2 943.5 266.2C944.7 266.1 945.8 265.4 947.0 265.2C948.2 265.1 949.3 265.1 950.5 265.1C951.7 265.1 952.8 265.0 954.0 265.0C955.2 265.3 956.4 266.1 957.5 266.7C958.7 267.3 959.9 268.2 961.1 268.8C962.2 269.3 963.4 269.2 964.6 270.2C965.8 271.2 967.0 273.4 968.2 274.9C969.5 276.4 970.7 277.6 971.9 279.1C973.1 280.7 974.3 282.7 975.6 284.2C976.8 285.7 977.9 288.0 979.2 288.0C980.5 287.8 981.8 284.8 983.1 283.2C984.4 281.5 985.8 279.6 987.1 278.0C988.4 276.5 989.7 275.6 991.0 274.0C992.3 272.4 993.7 270.4 995.0 268.4C996.3 266.4 997.7 263.8 999.0 261.9C1000.3 260.1 1001.7 259.0 1003.0 257.1C1004.3 255.2 1005.7 252.1 1007.0 250.4C1008.3 248.7 1009.5 248.1 1010.8 246.8C1012.0 245.5 1013.3 243.9 1014.5 242.7C1015.8 241.6 1017.1 240.8 1018.3 239.9C1019.6 239.1 1020.8 238.7 1022.1 237.6C1023.3 236.5 1024.6 234.5 1025.9 233.4C1027.1 232.2 1028.4 231.7 1029.6 230.6C1030.9 229.5 1032.3 228.1 1033.4 226.6C1034.5 225.1 1034.9 222.3 1036.0 221.3C1037.1 220.6 1038.6 220.7 1039.8 220.6C1041.1 220.5 1042.4 220.6 1043.7 220.5C1045.0 220.3 1046.3 219.4 1047.5 219.1C1048.8 218.8 1050.1 219.0 1051.4 218.8C1052.7 218.7 1053.9 218.3 1055.2 218.2C1056.5 218.2 1057.8 218.2 1059.1 218.2C1060.4 218.1 1061.6 217.7 1062.9 217.6C1064.2 217.5 1065.5 217.6 1066.8 217.5C1068.0 217.5 1069.3 217.5 1070.6 217.2C1071.9 217.0 1073.2 216.2 1074.5 216.0C1075.7 216.0 1077.0 216.0 1078.3 216.0C1079.6 216.0 1080.9 216.1 1082.3 216.1C1083.6 216.1 1084.9 216.1 1086.2 216.2C1087.6 216.3 1088.9 216.6 1090.2 216.9C1091.5 217.2 1092.9 217.5 1094.2 217.9C1095.5 218.3 1096.8 219.2 1098.2 219.4C1099.5 219.4 1100.8 218.6 1102.1 218.6C1103.4 218.6 1104.8 219.4 1106.1 219.5C1107.4 219.5 1108.7 219.4 1110.1 219.4C1111.4 219.6 1112.7 220.6 1114.0 220.9C1115.4 221.3 1116.7 220.9 1118.0 221.3C1119.3 221.8 1120.7 223.0 1122.0 223.8C1123.3 224.6 1124.7 225.4 1126.0 226.3C1127.3 227.2 1128.7 226.5 1130.0 229.2C1131.3 231.9 1132.6 237.8 1133.9 242.3C1135.2 246.7 1136.6 253.5 1137.8 255.7C1139.0 255.7 1140.0 255.3 1141.1 255.3C1142.2 255.3 1143.2 255.7 1144.4 255.7C1145.6 254.7 1147.0 251.6 1148.3 249.6C1149.7 247.6 1151.0 245.0 1152.3 243.8C1153.6 242.6 1155.0 242.8 1156.3 242.5C1157.6 242.4 1159.0 242.4 1160.3 242.4C1161.6 242.7 1162.7 243.8 1163.8 244.5C1165.0 245.3 1166.2 246.2 1167.4 246.7C1168.5 247.2 1169.6 246.7 1170.9 247.7C1172.2 249.0 1173.8 252.6 1175.3 254.6C1176.7 256.6 1178.2 257.9 1179.6 259.8C1181.1 261.7 1182.6 263.8 1184.0 266.2C1185.4 268.6 1186.7 271.2 1188.0 274.3C1189.3 277.3 1190.7 281.5 1192.0 284.6C1193.3 287.7 1194.7 290.1 1196.0 293.0C1197.3 295.9 1198.7 300.3 1200.0 302.0C1201.3 302.9 1202.5 302.6 1203.7 302.9C1204.9 303.2 1206.1 303.5 1207.4 303.9C1208.6 304.2 1209.8 304.7 1211.0 305.0C1212.3 305.2 1213.5 305.1 1214.7 305.2C1215.9 305.4 1217.2 305.8 1218.4 306.0C1219.6 306.2 1220.9 306.5 1222.1 306.7C1223.4 306.8 1224.6 306.8 1225.8 306.9C1227.1 307.1 1228.3 307.3 1229.6 307.6C1230.8 307.9 1232.0 308.2 1233.3 308.6C1234.5 309.0 1235.7 309.5 1237.0 310.0C1238.3 310.5 1239.6 310.6 1241.0 311.3C1242.3 312.1 1243.6 314.0 1244.9 314.7C1246.2 315.5 1247.6 315.6 1248.9 316.0C1250.2 316.4 1251.5 316.4 1252.8 317.0C1254.2 317.6 1255.5 318.8 1256.8 319.5C1258.1 320.3 1259.4 320.9 1260.8 321.7C1262.1 322.5 1263.4 323.7 1264.7 324.4C1266.0 325.0 1267.4 325.0 1268.7 325.6C1270.0 326.2 1271.3 327.1 1272.6 327.8C1274.0 328.5 1275.3 329.1 1276.6 329.7C1277.9 330.3 1279.2 330.8 1280.6 331.4C1281.9 332.1 1283.2 333.0 1284.5 333.7C1285.8 334.3 1287.2 334.5 1288.5 335.4C1289.8 336.2 1291.1 338.0 1292.4 338.8C1293.8 339.6 1295.1 339.7 1296.4 340.4C1297.7 341.1 1299.1 342.3 1300.4 343.0C1301.7 343.8 1303.0 344.2 1304.3 344.9C1305.7 345.5 1307.0 346.7 1308.3 346.9C1309.6 346.9 1310.8 346.4 1312.1 346.3C1313.3 346.3 1314.6 346.7 1315.9 346.9C1317.1 347.0 1318.4 346.9 1319.7 347.1C1320.9 347.3 1322.2 348.1 1323.4 348.2C1324.7 348.2 1326.0 347.6 1327.2 347.6C1328.5 347.7 1329.8 348.7 1331.0 348.9C1332.3 348.9 1333.5 348.3 1334.8 348.2C1336.1 348.1 1337.4 348.2 1338.8 348.1C1340.1 347.9 1341.4 347.5 1342.7 347.2C1344.0 346.9 1345.3 346.6 1346.6 346.3C1348.0 346.0 1349.9 345.7 1350.6 345.6L1350.6 329.7C1351.3 329.9 1353.3 330.8 1354.7 331.1C1356.1 331.4 1357.5 331.3 1358.8 331.5C1360.2 331.6 1361.6 331.6 1363.0 332.1C1364.3 332.6 1365.7 334.0 1367.1 334.5C1368.5 334.8 1369.8 334.5 1371.2 334.8C1372.6 335.2 1374.0 336.3 1375.3 336.7C1376.7 337.2 1378.1 337.1 1379.5 337.4C1380.8 337.6 1382.2 337.8 1383.6 338.1C1385.0 338.4 1386.4 338.8 1387.7 339.0C1389.0 339.1 1390.0 339.0 1391.1 339.1C1392.3 339.3 1393.4 339.8 1394.6 339.9C1395.7 339.9 1396.8 339.9 1398.0 339.8C1399.2 339.5 1400.7 338.7 1402.1 338.4C1403.4 338.0 1404.8 337.9 1406.1 337.6C1407.5 337.3 1408.8 336.7 1410.2 336.5C1411.5 336.4 1412.9 336.5 1414.2 336.4C1415.6 336.3 1416.9 336.2 1418.3 335.7C1419.6 335.1 1421.0 333.6 1422.3 333.2C1423.7 332.9 1425.7 332.9 1426.4 332.9L1426.4 214.6C1427.1 217.2 1429.0 224.7 1430.3 230.1C1431.7 235.5 1433.0 241.4 1434.3 247.0C1435.6 252.7 1436.9 258.5 1438.2 264.0C1439.5 269.4 1440.9 274.4 1442.2 279.9C1443.5 285.3 1444.8 291.2 1446.1 296.8C1447.4 302.4 1448.7 308.1 1450.1 313.5C1451.4 318.9 1452.7 326.5 1454.0 329.0C1455.3 329.0 1456.7 328.6 1458.1 328.3C1459.5 328.0 1460.8 327.8 1462.2 327.3C1463.6 326.8 1464.9 325.7 1466.3 325.4C1467.7 325.2 1469.0 325.3 1470.4 325.2C1471.8 325.0 1473.1 324.6 1474.5 324.2C1475.9 323.9 1477.3 323.4 1478.6 323.0C1479.9 322.6 1481.2 322.1 1482.5 321.7C1483.8 321.3 1485.2 320.7 1486.5 320.6C1487.8 320.6 1489.1 321.0 1490.4 321.0C1491.7 321.0 1493.0 321.0 1494.3 320.8C1495.6 320.6 1497.0 319.9 1498.3 319.4C1499.6 318.9 1500.9 318.0 1502.2 317.9C1503.5 317.9 1504.8 318.3 1506.1 318.3C1507.4 318.1 1508.8 316.9 1510.1 316.5C1511.4 316.2 1512.6 316.4 1514.0 316.1C1515.4 315.8 1516.9 314.8 1518.3 314.5C1519.7 314.2 1521.2 314.3 1522.6 314.0C1524.0 313.7 1525.5 313.1 1526.9 312.7C1528.3 312.3 1529.8 312.0 1531.2 311.6C1532.6 311.2 1534.1 310.8 1535.5 310.2C1536.9 309.6 1538.3 308.2 1539.8 308.2C1541.2 309.7 1542.7 315.2 1544.2 319.2C1545.7 323.1 1547.3 331.3 1548.6 331.9C1549.9 331.9 1550.9 325.8 1552.0 323.0C1553.2 320.2 1554.3 315.1 1555.5 315.1C1556.7 316.2 1558.1 324.8 1559.5 329.5C1560.8 334.3 1562.2 342.6 1563.4 343.7C1564.6 343.7 1565.7 338.7 1566.8 336.4C1568.0 334.1 1569.0 330.2 1570.3 330.0C1571.6 330.0 1573.2 333.6 1574.6 335.2C1576.0 336.8 1577.5 338.1 1578.9 339.6C1580.3 341.0 1581.8 341.8 1583.2 343.7C1584.6 345.6 1585.8 348.4 1587.1 350.8C1588.4 353.1 1589.8 355.6 1591.1 357.7C1592.4 359.8 1593.5 362.0 1595.0 363.5C1596.5 365.0 1598.3 365.8 1600.0 366.8C1601.6 367.8 1603.4 369.4 1604.9 369.4C1606.4 369.4 1607.5 368.0 1608.8 366.9C1610.1 365.8 1611.5 364.0 1612.8 362.7C1614.1 361.5 1615.4 361.2 1616.7 359.5C1618.0 357.8 1619.3 354.6 1620.7 352.4C1622.0 350.3 1623.3 348.6 1624.6 346.7C1625.9 344.8 1627.2 343.2 1628.5 341.1C1629.9 339.0 1631.2 335.9 1632.5 333.9C1633.8 331.9 1635.1 331.0 1636.4 329.4C1637.8 327.7 1639.1 325.8 1640.4 324.1C1641.7 322.4 1643.0 320.6 1644.3 319.0C1645.6 317.3 1646.9 315.7 1648.3 314.3C1649.6 312.8 1650.9 311.4 1652.2 310.2C1653.5 309.0 1654.8 308.0 1656.1 307.3C1657.5 306.6 1658.8 306.8 1660.1 306.2C1661.4 305.5 1662.7 304.1 1664.0 303.3C1665.3 302.4 1666.6 301.8 1668.0 301.2C1669.3 300.7 1670.6 300.8 1671.9 300.0C1673.2 299.2 1674.5 297.5 1675.8 296.6C1677.1 295.8 1678.5 295.7 1679.8 295.0C1681.1 294.3 1682.4 293.2 1683.7 292.5C1685.0 291.8 1686.3 291.1 1687.7 290.5C1689.0 289.9 1690.3 289.4 1691.6 288.8C1692.9 288.3 1694.2 287.8 1695.5 287.2C1696.9 286.6 1698.2 286.2 1699.5 285.5C1700.8 284.8 1702.1 283.7 1703.5 283.2C1704.8 282.7 1706.1 282.8 1707.4 282.4C1708.7 282.0 1710.0 281.1 1711.3 280.5C1712.7 279.9 1714.0 279.4 1715.3 278.7C1716.6 278.0 1717.9 276.9 1719.2 276.5C1720.6 276.5 1721.9 276.6 1723.2 276.6C1724.5 276.4 1725.8 275.8 1727.2 275.1C1728.5 274.4 1729.8 273.0 1731.1 272.4C1732.4 271.7 1733.7 271.4 1735.0 271.0C1736.4 270.6 1738.3 270.0 1739.0 269.8L1739.0 219.5C1739.7 219.4 1741.6 219.3 1742.9 219.0C1744.2 218.7 1745.5 217.9 1746.8 217.5C1748.2 217.1 1749.5 217.0 1750.8 216.6C1752.1 216.3 1753.4 215.6 1754.7 215.5C1756.0 215.5 1757.4 215.9 1758.7 216.0C1760.1 216.0 1761.4 216.0 1762.8 216.0C1764.1 215.8 1765.5 215.2 1766.8 215.1C1768.2 215.1 1769.5 215.3 1770.9 215.5C1772.2 215.6 1773.6 215.9 1774.9 216.1C1776.3 216.2 1777.6 216.2 1779.0 216.2C1780.3 216.2 1781.7 216.2 1783.0 216.2C1784.4 216.1 1785.7 216.1 1787.1 216.0C1788.4 216.0 1789.8 216.0 1791.1 215.8C1792.5 215.6 1793.8 214.7 1795.2 214.6C1796.5 214.6 1797.9 215.5 1799.2 215.5C1800.5 215.5 1801.8 214.8 1803.1 214.7C1804.5 214.7 1805.8 214.8 1807.1 214.8C1808.4 214.6 1809.7 213.8 1811.0 213.4C1812.3 213.0 1813.7 212.6 1815.0 212.5C1816.3 212.5 1817.6 212.9 1818.9 212.9C1820.2 212.9 1821.6 212.8 1822.9 212.7C1824.2 212.7 1825.5 212.7 1826.8 212.6C1828.1 212.4 1829.4 211.9 1830.8 211.6C1832.1 211.2 1833.4 210.7 1834.7 210.6C1836.0 210.6 1837.3 210.8 1838.6 210.8C1839.9 210.8 1841.3 210.4 1842.6 210.4C1843.9 210.6 1845.2 211.6 1846.5 211.9C1847.8 212.3 1849.1 212.6 1850.4 212.6C1851.7 212.6 1853.1 212.3 1854.4 212.3C1855.7 212.3 1856.8 212.3 1858.3 212.6C1859.8 213.8 1861.6 219.2 1863.3 219.5C1865.0 219.5 1866.6 214.6 1868.2 214.6C1869.8 215.7 1871.5 222.2 1873.1 226.0C1874.7 229.8 1876.5 232.7 1878.0 237.2C1879.5 241.7 1880.6 247.4 1882.0 252.7C1883.3 258.1 1884.6 263.9 1885.9 269.4C1887.2 275.0 1888.5 280.7 1889.8 286.2C1891.2 291.7 1892.6 297.7 1893.8 302.3C1895.0 306.9 1895.8 310.1 1896.8 313.7C1897.8 317.3 1898.5 321.7 1899.8 324.0C1901.1 326.3 1903.1 326.3 1904.7 327.6C1906.3 329.0 1908.1 331.6 1909.6 331.9C1911.1 331.9 1912.2 330.5 1913.5 329.5C1914.9 328.6 1916.2 328.2 1917.5 326.0C1918.8 323.8 1920.1 319.6 1921.4 316.3C1922.7 313.0 1924.1 309.7 1925.4 306.4C1926.7 303.1 1928.1 299.6 1929.3 296.4C1930.5 293.2 1931.3 290.3 1932.3 287.5C1933.3 284.7 1934.0 279.6 1935.3 279.6C1936.6 284.4 1938.7 312.0 1940.2 316.1C1941.8 316.1 1943.1 308.3 1944.6 304.0C1946.1 299.7 1947.4 293.6 1949.0 290.5C1950.6 287.4 1952.5 286.6 1954.3 285.3C1956.1 283.9 1957.8 283.4 1959.6 282.3C1961.4 281.3 1963.1 279.4 1964.9 278.7C1966.7 278.1 1968.4 278.5 1970.1 278.1C1971.9 277.6 1973.6 276.9 1975.4 276.0C1977.1 275.1 1978.9 273.6 1980.6 272.7C1982.3 271.8 1983.9 272.2 1985.5 270.9C1987.2 269.5 1988.8 265.9 1990.5 264.7C1992.2 263.8 1993.8 264.7 1995.5 263.8C1997.1 262.8 1998.8 260.4 2000.4 258.9C2002.0 257.4 2003.7 256.4 2005.3 254.9C2006.9 253.4 2008.6 250.9 2010.2 249.8C2011.8 248.8 2013.5 249.7 2015.1 248.6C2016.7 247.4 2018.2 243.2 2020.0 243.2C2021.8 243.4 2024.2 250.0 2026.0 250.0C2027.8 250.0 2029.3 246.1 2031.0 243.3C2032.6 240.5 2034.3 235.3 2035.9 233.3C2037.5 231.3 2039.2 232.5 2040.8 231.1C2042.5 229.7 2044.1 226.7 2045.8 224.9C2047.4 223.1 2049.0 221.7 2050.7 220.5C2052.3 219.2 2054.0 218.0 2055.6 217.5C2057.2 217.5 2058.6 217.6 2060.0 217.6C2061.5 217.2 2063.0 215.8 2064.4 215.3C2065.9 214.8 2067.4 215.2 2068.9 214.6C2070.3 214.0 2072.6 212.1 2073.3 211.6" fill="none" stroke="#9CE85C" stroke-width="6.5" stroke-linejoin="round" stroke-linecap="round"/>
<path d="M162.0 406.0C163.0 406.2 166.1 406.6 168.1 407.0C170.2 407.3 172.2 408.1 174.2 408.1C176.3 408.0 178.3 406.9 180.4 406.7C182.4 406.7 184.5 406.9 186.5 407.0C188.5 407.1 190.6 407.4 192.6 407.4C194.7 407.1 196.7 405.0 198.8 404.9C200.8 404.9 202.8 407.1 204.9 407.1C206.9 407.1 209.0 404.6 211.0 404.6C213.0 404.6 215.1 407.0 217.1 407.1C219.2 407.1 221.2 405.3 223.2 405.0C225.3 405.0 227.3 405.3 229.4 405.3C231.4 404.8 233.5 402.4 235.5 402.1C237.5 402.1 239.6 403.4 241.6 403.6C243.7 403.6 245.7 403.5 247.8 403.2C249.8 402.9 251.8 401.8 253.9 401.8C255.9 401.9 258.0 403.8 260.0 404.0C262.0 404.0 264.0 403.2 266.0 402.9C268.0 402.7 270.1 402.7 272.1 402.5C274.1 402.2 276.1 401.6 278.1 401.6C280.1 401.6 282.1 401.6 284.1 402.1C286.1 402.6 288.1 404.8 290.2 404.8C292.2 404.7 294.2 401.7 296.2 401.5C298.2 401.5 300.2 403.1 302.2 403.6C304.2 404.2 306.2 404.9 308.2 404.9C310.3 404.2 312.3 400.2 314.3 400.0C316.3 400.0 318.3 403.1 320.3 403.1C322.3 403.1 324.3 400.7 326.3 400.2C328.4 400.2 330.4 400.2 332.4 400.2C334.4 400.3 336.4 400.2 338.4 400.6C340.4 401.2 342.4 403.0 344.4 403.4C346.4 403.4 348.5 403.4 350.5 403.0C352.5 402.6 355.5 401.3 356.5 401.0" fill="none" stroke="#FF6F6F" stroke-width="6.5" stroke-linejoin="round" stroke-linecap="round"/>
<path d="M391.8 411.8C392.4 410.8 394.3 406.3 395.4 405.7C396.5 405.7 397.4 405.7 398.5 408.1C399.6 410.6 401.2 420.0 402.2 420.4C403.2 420.4 403.6 413.4 404.4 410.4C405.1 407.5 405.5 402.6 406.5 402.6C407.5 403.2 409.2 412.5 410.2 414.3C411.2 414.3 411.6 413.8 412.4 413.2C413.1 412.6 413.7 410.9 414.5 410.6C415.3 410.6 416.1 411.0 416.9 411.7C417.8 412.4 418.5 414.9 419.4 414.9C420.3 413.7 421.4 405.3 422.4 404.5C423.4 404.5 424.6 410.0 425.5 410.0C426.4 410.0 426.9 406.2 427.6 404.4C428.4 402.7 429.0 399.6 429.8 399.6C430.6 399.9 431.6 404.6 432.6 406.4C433.5 408.2 434.4 410.4 435.3 410.6C436.2 410.6 436.9 409.1 437.8 407.9C438.6 406.7 439.3 403.9 440.2 403.2C441.1 403.2 442.1 403.2 443.1 403.6C444.0 404.1 445.0 405.6 445.9 406.2C446.9 406.9 447.9 407.3 448.8 407.5C449.7 407.5 450.4 407.3 451.3 407.3C452.1 407.4 452.9 407.8 453.8 408.0C454.6 408.1 455.4 408.4 456.2 408.4C457.1 408.4 457.9 407.6 458.7 407.5C459.5 407.5 460.3 407.7 461.1 408.0C462.0 408.3 462.8 409.1 463.6 409.4C464.4 409.7 465.2 409.7 466.0 409.7C466.8 409.5 467.6 408.2 468.5 408.1C469.3 408.1 470.1 409.4 470.9 409.4C471.7 409.2 472.6 407.4 473.4 406.8C474.2 406.3 475.0 406.1 475.9 405.8C476.7 405.5 477.5 405.6 478.3 405.2C479.1 404.9 479.9 403.8 480.8 403.8C481.7 404.1 482.8 406.2 483.9 407.1C484.9 408.0 485.9 408.8 486.9 409.4C487.9 410.0 488.7 410.4 489.6 410.6C490.6 410.6 491.5 410.6 492.4 410.6C493.3 410.6 494.2 410.7 495.1 410.7C496.1 410.7 497.0 410.7 497.9 410.6C498.8 409.9 499.8 407.8 500.7 406.3C501.6 404.7 502.7 401.5 503.5 401.4C504.3 401.4 505.0 404.3 505.7 405.5C506.5 406.6 507.2 407.3 508.0 408.5C508.7 409.6 509.4 411.7 510.2 412.4C511.0 412.4 511.8 412.4 512.7 412.4C513.5 412.4 514.3 412.5 515.1 412.5C516.0 412.3 516.7 411.6 517.6 411.2C518.5 410.8 519.6 410.7 520.7 410.0C521.7 409.3 522.6 406.9 523.7 406.9C524.8 407.6 526.4 413.4 527.4 414.3C528.4 414.3 529.0 413.1 529.9 412.4C530.7 411.7 531.5 410.7 532.3 409.8C533.2 408.9 534.0 407.2 534.8 406.9C535.6 406.9 536.4 407.2 537.2 407.9C538.1 408.7 538.8 411.0 539.7 411.2C540.6 411.2 541.7 409.5 542.8 408.9C543.8 408.3 544.8 408.4 545.8 407.5C546.8 406.6 547.6 404.8 548.5 403.4C549.5 402.1 550.5 399.6 551.3 399.6C552.1 400.1 552.7 404.0 553.5 406.4C554.2 408.9 554.7 414.3 555.6 414.3C556.5 413.3 557.7 404.7 558.7 400.3C559.7 395.9 560.9 387.9 561.8 387.9C562.7 388.1 563.4 396.8 564.2 401.4C565.1 406.0 565.7 414.5 566.7 415.5C567.7 415.5 569.4 407.5 570.4 407.5C571.4 407.5 571.8 413.1 572.5 415.4C573.3 417.8 574.0 421.6 574.7 421.6C575.4 421.5 576.1 416.7 576.9 414.6C577.6 412.5 578.2 410.0 579.0 408.8C579.8 407.6 580.6 408.3 581.5 407.4C582.3 406.6 582.9 403.8 583.9 403.8C584.9 404.3 586.5 410.3 587.6 410.6C588.7 410.6 589.6 406.6 590.7 405.3C591.7 404.0 592.8 402.6 593.7 402.6C594.6 402.8 595.3 405.1 596.2 406.4C597.0 407.7 597.7 410.4 598.6 410.6C599.5 410.6 600.6 408.9 601.7 407.8C602.7 406.6 603.8 404.2 604.7 403.8C605.6 403.8 606.3 404.9 607.2 405.1C608.0 405.1 608.8 405.1 609.6 405.1C610.4 403.7 611.3 398.9 612.1 396.4C612.9 394.0 613.6 390.3 614.6 390.3C615.6 390.8 617.2 397.2 618.2 399.6C619.2 402.0 619.9 402.7 620.7 404.7C621.5 406.7 622.4 411.6 623.2 411.8C624.0 411.8 624.8 407.6 625.7 406.1C626.5 404.6 627.3 402.6 628.1 402.6C628.9 402.6 629.7 405.2 630.5 406.1C631.4 407.1 632.2 407.2 633.0 408.3C633.8 409.3 634.6 411.2 635.5 412.5C636.3 413.8 637.0 416.1 637.9 416.1C638.8 415.9 639.9 412.9 641.0 411.5C642.0 410.2 643.0 408.5 644.0 408.1C645.0 408.1 645.8 408.4 646.7 409.0C647.6 409.6 648.4 410.9 649.3 411.7C650.2 412.5 651.1 413.6 652.0 414.0C652.9 414.2 653.7 414.1 654.6 414.2C655.4 414.4 656.3 414.9 657.1 415.0C658.0 415.0 658.8 414.9 659.7 414.8C660.5 414.7 661.4 414.5 662.2 414.5C663.1 414.7 664.0 415.7 664.8 416.0C665.6 416.2 666.4 416.0 667.3 416.2C668.1 416.5 668.9 417.7 669.7 417.8C670.5 417.8 671.4 416.6 672.2 416.6C673.0 416.7 673.8 418.3 674.6 418.6C675.5 418.6 676.3 417.9 677.1 417.9C677.9 418.2 678.8 420.4 679.6 420.7C680.4 420.7 681.2 419.6 682.0 419.6C682.9 419.6 683.7 420.9 684.5 421.0C685.3 421.0 686.2 420.5 687.1 419.9C687.9 419.4 688.8 418.0 689.7 417.6C690.5 417.6 691.4 417.6 692.2 417.6C693.1 417.5 694.0 417.3 694.8 417.1C695.7 416.9 696.6 416.8 697.4 416.2C698.3 415.7 698.9 414.5 700.0 414.0C701.1 413.5 703.3 413.2 704.0 413.0" fill="none" stroke="#FF6F6F" stroke-width="7.0" stroke-linejoin="round" stroke-linecap="round"/>
<path d="M704.0 413.0C704.6 412.8 706.6 412.4 707.9 411.7C709.2 411.0 710.5 409.1 711.9 408.6C713.2 408.6 714.5 408.6 715.8 408.6C717.1 408.1 718.4 406.3 719.8 405.7C721.1 405.1 722.4 405.0 723.7 405.0C725.0 405.0 726.4 405.5 727.7 405.6C729.1 405.7 730.4 405.8 731.7 405.8C733.1 405.7 734.4 405.3 735.8 405.2C737.1 405.0 738.4 404.9 739.8 404.9C741.1 404.9 742.5 405.1 743.8 405.1C745.1 404.9 746.5 403.8 747.8 403.8C749.2 403.8 750.5 405.2 751.9 405.2C753.2 405.1 754.5 403.9 755.9 403.7C757.2 403.7 758.6 403.9 759.9 403.9C761.2 403.9 762.6 403.9 763.9 403.9C765.3 404.0 766.6 404.5 767.9 404.6C769.3 404.6 770.6 404.1 772.0 404.0C773.3 403.9 774.6 403.9 776.0 403.9C777.3 403.9 778.6 404.0 780.0 404.0C781.4 404.0 782.8 403.9 784.2 403.9C785.6 403.9 787.0 404.1 788.4 404.2C789.8 404.2 791.2 404.2 792.6 404.2C794.0 404.1 795.4 404.2 796.8 404.0C798.2 403.8 799.6 403.1 801.0 402.9C802.4 402.6 803.8 402.4 805.2 402.3C806.6 402.2 808.0 402.3 809.4 402.2C810.8 402.2 812.2 402.1 813.6 402.1C815.0 402.3 816.4 403.0 817.8 403.1C819.2 403.1 820.6 402.6 822.0 402.5C823.4 402.4 824.7 402.3 826.1 402.3C827.4 402.6 828.8 404.0 830.2 404.1C831.5 404.1 832.9 403.4 834.2 403.4C835.6 403.5 837.0 404.9 838.3 405.2C839.7 405.2 841.1 405.0 842.4 405.0C843.8 405.1 845.2 405.3 846.5 406.0C847.8 406.7 848.9 408.0 850.1 409.0C851.3 410.0 852.5 411.0 853.8 412.0C855.0 412.9 856.2 413.7 857.4 414.5C858.6 415.4 859.7 416.6 861.0 417.0C862.3 417.0 863.7 416.8 865.0 416.8C866.3 416.8 867.7 416.9 869.0 417.2C870.3 417.5 871.7 418.0 873.0 418.4C874.3 418.9 875.7 419.7 877.0 419.9C878.3 419.9 879.8 419.7 881.0 419.7C882.2 420.0 883.3 421.1 884.5 421.9C885.7 422.6 886.9 422.6 888.0 424.2C889.1 425.8 890.2 429.0 891.2 431.7C892.3 434.3 893.3 438.9 894.5 440.0C895.7 440.0 897.1 438.7 898.5 438.2C899.8 437.7 901.1 437.7 902.4 437.1C903.8 436.5 905.1 434.8 906.4 434.8C907.7 435.0 908.9 437.0 910.2 438.2C911.4 439.4 912.7 440.5 914.0 442.0C915.2 443.6 916.5 446.0 917.8 447.4C919.0 448.8 920.3 449.3 921.5 450.5C922.8 451.7 924.1 453.2 925.3 454.5C926.6 455.8 927.9 456.9 929.1 458.2C930.4 459.5 931.5 461.5 932.9 462.5C934.3 463.5 935.8 463.4 937.3 464.3C938.8 465.1 940.2 466.8 941.7 467.6C943.2 468.4 944.8 468.9 946.1 469.2C947.4 469.3 948.5 469.3 949.6 469.3C950.8 469.0 952.0 468.1 953.2 467.8C954.3 467.8 955.5 467.8 956.7 467.8C957.9 468.3 959.3 470.0 960.7 470.9C962.0 471.7 963.2 471.6 964.6 473.1C966.0 474.6 967.5 477.7 969.0 479.6C970.5 481.5 971.9 482.6 973.4 484.4C974.9 486.2 976.5 489.3 977.8 490.3C979.1 490.5 980.0 490.5 981.1 490.5C982.2 490.3 983.2 490.5 984.4 489.0C985.6 487.5 986.8 483.7 988.0 481.6C989.3 479.5 990.5 478.3 991.7 476.4C992.9 474.4 994.1 472.1 995.4 469.8C996.6 467.4 997.8 464.5 999.0 462.5C1000.2 460.5 1001.5 459.1 1002.7 457.6C1003.9 456.0 1005.2 454.6 1006.4 453.1C1007.6 451.6 1008.9 450.1 1010.1 448.6C1011.3 447.0 1012.6 445.3 1013.8 443.8C1015.0 442.4 1016.2 441.2 1017.5 440.0C1018.8 438.8 1020.1 438.1 1021.5 436.9C1022.8 435.8 1024.1 434.3 1025.5 433.1C1026.8 431.9 1028.1 430.9 1029.4 429.6C1030.8 428.4 1032.1 426.4 1033.4 425.5C1034.7 424.6 1036.0 424.8 1037.4 424.3C1038.7 423.7 1040.0 422.8 1041.3 422.1C1042.6 421.4 1043.9 420.8 1045.2 420.3C1046.6 419.8 1047.9 419.4 1049.2 419.1C1050.5 418.8 1051.8 419.1 1053.2 418.6C1054.5 418.0 1055.8 416.3 1057.1 415.7C1058.4 415.1 1059.7 415.5 1061.0 415.1C1062.4 414.8 1063.7 414.1 1065.0 413.6C1066.3 413.1 1067.5 412.5 1068.8 412.0C1070.0 411.5 1071.3 411.0 1072.6 410.6C1073.8 410.2 1075.1 409.7 1076.4 409.4C1077.6 409.0 1078.9 409.0 1080.1 408.5C1081.4 408.0 1082.7 407.0 1083.9 406.4C1085.2 405.9 1086.5 405.4 1087.7 405.1C1089.0 404.8 1090.2 404.5 1091.5 404.4C1092.8 404.4 1094.0 404.4 1095.3 404.4C1096.6 404.3 1097.9 404.0 1099.1 403.7C1100.4 403.3 1101.7 402.7 1103.0 402.3C1104.2 402.0 1105.5 401.7 1106.8 401.5C1108.1 401.5 1109.3 401.5 1110.6 401.6C1111.9 401.6 1113.2 401.6 1114.4 401.6C1115.7 401.4 1117.0 401.1 1118.3 400.7C1119.5 400.4 1120.8 399.8 1122.1 399.5C1123.4 399.2 1124.5 399.0 1125.9 399.0C1127.3 399.6 1129.0 401.9 1130.6 403.2C1132.1 404.6 1133.9 405.1 1135.2 407.0C1136.5 408.9 1137.4 412.0 1138.5 414.7C1139.6 417.3 1140.7 422.3 1141.8 422.9C1142.9 422.9 1144.1 420.0 1145.3 418.4C1146.5 416.8 1147.6 414.9 1148.8 413.2C1150.0 411.5 1151.1 409.4 1152.3 408.3C1153.5 407.2 1154.7 406.8 1155.9 406.6C1157.1 406.6 1158.2 406.9 1159.4 406.9C1160.6 406.7 1161.7 405.7 1163.0 405.7C1164.3 406.0 1165.9 407.8 1167.4 408.6C1168.8 409.3 1170.3 409.5 1171.7 410.1C1173.2 410.7 1174.8 411.1 1176.1 412.3C1177.4 413.5 1178.5 415.3 1179.6 417.0C1180.8 418.7 1182.0 420.7 1183.2 422.5C1184.3 424.4 1185.4 425.7 1186.7 428.2C1188.0 430.7 1189.7 434.0 1191.1 437.3C1192.6 440.7 1194.1 444.9 1195.6 448.2C1197.0 451.5 1198.6 455.5 1200.0 457.3C1201.4 459.1 1202.5 458.8 1203.7 459.3C1204.9 459.8 1206.1 459.7 1207.4 460.1C1208.6 460.5 1209.8 461.2 1211.0 461.7C1212.3 462.2 1213.5 462.4 1214.7 462.9C1215.9 463.5 1217.2 464.6 1218.4 465.2C1219.6 465.8 1220.9 466.0 1222.1 466.7C1223.4 467.3 1224.6 468.6 1225.8 469.2C1227.1 469.8 1228.3 469.9 1229.6 470.4C1230.8 470.9 1232.0 471.9 1233.3 472.3C1234.5 472.8 1235.7 472.5 1237.0 473.1C1238.3 473.7 1239.8 474.5 1241.1 475.7C1242.5 477.0 1243.9 479.3 1245.3 480.7C1246.7 482.1 1248.0 482.9 1249.4 484.0C1250.8 485.1 1252.2 486.4 1253.6 487.3C1255.0 488.2 1256.3 488.3 1257.7 489.4C1259.1 490.6 1260.5 492.9 1261.9 494.2C1263.2 495.4 1264.7 495.8 1266.0 496.9C1267.3 498.0 1268.6 499.8 1269.8 500.9C1271.1 502.0 1272.4 502.7 1273.7 503.6C1275.0 504.5 1276.3 505.4 1277.5 506.3C1278.8 507.2 1280.1 508.0 1281.4 509.1C1282.7 510.3 1283.9 512.1 1285.2 513.2C1286.5 514.3 1287.8 515.0 1289.1 515.8C1290.4 516.7 1291.6 517.6 1292.9 518.5C1294.2 519.4 1295.5 520.2 1296.8 521.2C1298.0 522.1 1299.3 522.9 1300.6 524.2C1301.9 525.4 1303.2 527.3 1304.5 528.5C1305.7 529.7 1307.0 530.6 1308.3 531.3C1309.6 532.0 1311.1 532.1 1312.5 532.5C1314.0 532.9 1315.4 533.3 1316.8 533.8C1318.2 534.3 1319.6 535.1 1321.0 535.7C1322.4 536.3 1323.8 537.0 1325.3 537.6C1326.7 538.1 1328.1 538.8 1329.5 539.2C1330.9 539.6 1332.3 539.8 1333.7 539.8C1335.1 539.8 1336.5 539.4 1337.9 539.2C1339.3 538.9 1340.8 538.5 1342.2 538.5C1343.6 538.6 1345.0 539.7 1346.4 539.8C1347.8 539.8 1349.9 539.3 1350.6 539.2L1350.6 526.0C1351.3 526.2 1353.4 527.1 1354.8 527.4C1356.2 527.8 1357.6 527.9 1359.0 528.3C1360.4 528.8 1361.8 529.8 1363.2 530.1C1364.6 530.3 1366.0 530.1 1367.4 530.3C1368.8 530.6 1370.2 531.2 1371.6 531.4C1373.0 531.7 1374.4 531.6 1375.8 532.0C1377.2 532.4 1378.7 533.5 1380.0 533.9C1381.3 534.3 1382.3 534.4 1383.5 534.6C1384.6 534.7 1385.8 534.7 1386.9 534.8C1388.1 534.8 1389.2 534.9 1390.4 534.9C1391.6 534.8 1392.8 534.8 1394.1 534.2C1395.3 533.5 1396.5 531.6 1397.7 530.9C1398.9 530.2 1400.1 530.5 1401.3 530.1C1402.6 529.7 1403.7 529.4 1405.0 528.7C1406.3 528.0 1407.8 526.9 1409.2 526.1C1410.6 525.2 1412.0 524.5 1413.4 523.5C1414.8 522.5 1416.2 521.0 1417.6 520.3C1419.0 519.6 1420.4 519.9 1421.8 519.2C1423.2 518.5 1425.3 516.6 1426.0 516.1L1426.0 406.5C1426.7 408.5 1428.7 414.3 1430.0 418.6C1431.4 423.0 1432.7 428.3 1434.0 432.7C1435.4 437.1 1436.7 440.8 1438.0 445.1C1439.4 449.3 1440.7 453.8 1442.1 458.3C1443.4 462.7 1444.7 467.7 1446.1 472.0C1447.4 476.2 1448.7 479.6 1450.1 483.8C1451.4 488.0 1452.7 495.9 1454.1 497.3C1455.5 497.3 1457.0 493.8 1458.5 491.9C1459.9 490.0 1461.4 487.8 1462.9 486.0C1464.3 484.3 1465.8 483.0 1467.2 481.2C1468.7 479.5 1470.2 477.5 1471.6 475.7C1473.1 473.9 1475.1 471.8 1476.0 470.2C1476.9 468.6 1476.2 467.2 1477.0 466.0C1477.8 464.8 1479.7 464.1 1481.0 462.8C1482.3 461.5 1483.6 459.4 1485.0 458.2C1486.3 457.0 1487.6 456.6 1488.9 455.6C1490.3 454.6 1491.6 453.4 1492.9 452.1C1494.2 450.9 1495.5 449.9 1496.9 448.3C1498.3 446.7 1499.7 444.1 1501.1 442.6C1502.5 441.1 1503.9 440.7 1505.2 439.2C1506.6 437.8 1508.0 435.9 1509.4 434.1C1510.8 432.3 1512.3 429.7 1513.6 428.5C1514.9 427.3 1515.9 427.5 1517.1 426.9C1518.2 426.3 1519.4 425.6 1520.5 424.8C1521.7 424.0 1522.7 423.3 1524.0 422.2C1525.3 421.1 1526.8 419.5 1528.2 418.3C1529.6 417.1 1531.0 416.5 1532.4 415.1C1533.8 413.7 1535.2 411.2 1536.6 409.8C1538.0 408.4 1539.6 406.5 1540.8 406.5C1542.0 407.4 1542.9 412.5 1543.9 415.3C1544.9 418.1 1545.9 422.7 1547.0 423.2C1548.1 423.2 1549.3 420.5 1550.5 418.5C1551.7 416.5 1552.8 413.3 1554.0 411.3C1555.2 409.3 1556.4 406.5 1557.5 406.5C1558.6 407.8 1559.6 415.1 1560.6 419.3C1561.6 423.5 1562.6 430.5 1563.7 431.6C1564.8 431.6 1566.1 428.3 1567.3 426.2C1568.6 424.1 1569.8 419.8 1571.0 419.1C1572.2 419.1 1573.6 421.0 1574.8 422.3C1576.1 423.5 1577.4 425.4 1578.7 426.8C1579.9 428.2 1581.3 428.6 1582.5 430.5C1583.7 432.4 1584.9 435.8 1586.2 438.0C1587.4 440.2 1588.6 441.6 1589.8 443.7C1591.0 445.7 1592.2 448.0 1593.4 450.4C1594.7 452.7 1595.7 456.1 1597.1 457.7C1598.5 459.3 1600.2 459.5 1601.8 460.2C1603.4 460.9 1605.0 461.9 1606.5 461.9C1608.0 461.9 1609.5 460.7 1611.0 460.0C1612.5 459.3 1614.0 458.7 1615.5 457.8C1617.0 456.9 1618.7 455.7 1620.0 454.6C1621.3 453.5 1622.3 452.7 1623.5 451.4C1624.7 450.1 1625.8 448.0 1627.0 446.8C1628.2 445.6 1629.2 444.8 1630.5 444.1C1631.8 443.4 1633.3 443.4 1634.7 442.6C1636.1 441.8 1637.5 440.3 1638.9 439.6C1640.3 438.8 1641.6 438.5 1643.0 438.0C1644.4 437.4 1645.8 436.9 1647.2 436.2C1648.6 435.5 1650.1 434.0 1651.4 433.7C1652.7 433.7 1653.8 434.3 1655.1 434.3C1656.3 434.2 1657.5 433.6 1658.7 433.2C1659.9 432.9 1661.1 432.3 1662.3 432.2C1663.6 432.2 1664.7 432.4 1666.0 432.6C1667.3 432.8 1668.6 433.2 1669.9 433.5C1671.2 433.8 1672.5 434.1 1673.8 434.5C1675.1 434.9 1676.4 435.6 1677.7 435.8C1679.0 435.8 1680.2 435.6 1681.5 435.6C1682.8 435.9 1684.1 436.9 1685.4 437.2C1686.7 437.2 1688.0 437.2 1689.3 437.2C1690.6 437.5 1691.9 438.3 1693.2 438.9C1694.5 439.5 1696.0 440.5 1697.4 440.6C1698.7 440.6 1700.1 439.7 1701.5 439.7C1702.9 439.9 1704.3 441.2 1705.7 441.5C1707.1 441.7 1708.5 441.5 1709.8 441.7C1711.2 441.9 1712.6 442.8 1714.0 443.1C1715.4 443.4 1716.8 443.4 1718.2 443.7C1719.6 444.1 1721.1 444.7 1722.4 445.2C1723.7 445.7 1724.8 446.1 1726.1 446.6C1727.3 447.0 1728.5 447.4 1729.7 447.9C1730.9 448.3 1732.1 448.8 1733.3 449.4C1734.6 450.0 1736.2 451.4 1737.0 451.4C1737.8 443.9 1737.1 412.0 1738.0 404.4C1738.9 404.4 1740.8 405.1 1742.2 405.6C1743.6 406.1 1745.0 406.8 1746.4 407.5C1747.8 408.2 1749.2 409.4 1750.6 409.8C1752.0 410.0 1753.4 409.8 1754.8 410.0C1756.2 410.3 1757.6 410.9 1759.0 411.5C1760.4 412.1 1761.8 413.1 1763.2 413.6C1764.6 414.1 1766.0 413.8 1767.4 414.5C1768.8 415.2 1770.2 417.0 1771.6 417.8C1773.0 418.6 1774.3 418.8 1775.7 419.3C1777.1 419.9 1778.5 420.8 1779.9 421.2C1781.3 421.5 1782.7 421.2 1784.1 421.7C1785.5 422.1 1786.9 423.2 1788.3 423.9C1789.7 424.7 1791.1 425.5 1792.5 426.1C1793.9 426.7 1795.2 427.0 1796.6 427.6C1798.0 428.2 1799.4 429.1 1800.8 429.7C1802.2 430.2 1803.6 430.8 1805.0 431.0C1806.4 431.0 1807.6 430.8 1809.0 430.8C1810.3 431.0 1811.6 432.2 1812.9 432.4C1814.3 432.4 1815.6 432.2 1816.9 432.2C1818.2 432.2 1819.6 432.5 1820.9 432.6C1822.2 432.7 1823.5 432.8 1824.9 432.9C1826.2 432.9 1827.5 432.9 1828.8 433.0C1830.2 433.0 1831.5 433.4 1832.8 433.4C1834.1 433.4 1835.4 433.2 1836.8 433.2C1838.1 433.3 1839.4 433.7 1840.7 434.1C1842.1 434.5 1843.4 435.1 1844.7 435.3C1846.0 435.3 1847.4 435.3 1848.7 435.3C1850.0 435.5 1851.3 436.6 1852.7 436.9C1854.0 436.9 1855.3 436.8 1856.6 436.8C1858.0 437.0 1859.2 437.0 1860.6 438.0C1862.0 439.0 1863.6 442.2 1865.3 442.6C1867.0 442.6 1869.4 440.3 1871.0 440.3C1872.6 442.3 1873.7 449.9 1875.1 454.5C1876.5 459.2 1877.9 463.4 1879.2 468.1C1880.5 472.8 1881.8 477.7 1883.1 482.6C1884.4 487.6 1885.6 492.9 1886.9 497.8C1888.2 502.7 1889.6 507.7 1890.8 512.2C1892.0 516.7 1893.1 520.3 1894.2 524.5C1895.4 528.8 1896.5 534.4 1897.7 537.7C1898.9 541.0 1900.0 541.7 1901.2 544.0C1902.4 546.4 1903.3 550.7 1904.7 551.7C1906.1 551.7 1907.8 550.6 1909.3 550.1C1910.9 549.5 1912.4 549.1 1914.0 548.4C1915.5 547.7 1917.2 548.0 1918.6 545.9C1920.0 543.8 1921.2 539.1 1922.5 535.7C1923.8 532.4 1925.0 528.9 1926.3 525.7C1927.6 522.6 1928.6 521.5 1930.2 516.9C1931.8 512.3 1934.3 498.3 1936.0 498.3C1937.7 500.2 1939.0 524.9 1940.6 528.5C1942.2 528.5 1944.1 523.2 1945.8 519.9C1947.6 516.6 1949.5 511.5 1951.1 508.7C1952.7 505.9 1954.2 505.1 1955.7 503.0C1957.3 501.0 1958.8 498.9 1960.4 496.5C1961.9 494.2 1963.4 490.7 1965.0 489.0C1966.6 487.3 1968.5 487.8 1970.2 486.6C1972.0 485.4 1973.7 482.8 1975.5 481.8C1977.2 480.7 1978.9 481.3 1980.7 480.2C1982.4 479.1 1984.2 476.2 1985.9 475.1C1987.6 474.0 1989.3 474.2 1991.0 473.4C1992.7 472.7 1994.4 471.3 1996.1 470.5C1997.8 469.6 1999.5 469.2 2001.2 468.3C2002.9 467.5 2004.6 466.6 2006.3 465.4C2008.0 464.3 2009.4 464.4 2011.4 461.2C2013.4 458.0 2016.1 447.7 2018.4 446.1C2020.7 446.1 2023.4 451.9 2025.3 451.9C2027.2 451.3 2028.4 445.6 2029.9 442.3C2031.5 439.0 2033.1 434.7 2034.6 432.2C2036.1 429.7 2037.7 428.5 2039.2 427.5C2040.8 426.5 2042.3 427.1 2043.9 426.3C2045.4 425.6 2046.8 422.9 2048.5 422.9C2050.2 423.5 2052.8 429.9 2054.3 429.9C2055.9 428.2 2056.4 415.9 2057.8 412.5C2059.2 409.4 2060.9 410.7 2062.4 409.4C2064.0 408.1 2065.5 405.6 2067.1 404.6C2068.6 403.5 2070.9 403.4 2071.7 403.2" fill="none" stroke="#FF6F6F" stroke-width="6.5" stroke-linejoin="round" stroke-linecap="round"/>
<path d="M162.0 581.0C163.0 580.8 166.1 580.1 168.1 580.1C170.2 580.3 172.2 582.0 174.2 582.2C176.3 582.2 178.3 581.2 180.4 581.2C182.4 581.2 184.5 582.3 186.5 582.4C188.5 582.4 190.6 582.1 192.6 581.5C194.7 580.9 196.7 578.9 198.8 578.9C200.8 578.9 202.8 581.1 204.9 581.1C206.9 580.9 209.0 578.0 211.0 578.0C213.0 578.1 215.1 581.4 217.1 581.5C219.2 581.5 221.2 578.8 223.2 578.8C225.3 578.9 227.3 581.7 229.4 581.7C231.4 581.5 233.5 577.7 235.5 577.5C237.5 577.5 239.6 580.4 241.6 580.4C243.7 580.4 245.7 577.5 247.8 577.5C249.8 577.5 251.8 580.5 253.9 580.7C255.9 580.7 258.0 579.1 260.0 579.0C262.0 579.0 264.0 580.3 266.0 580.3C268.0 580.2 270.1 579.0 272.1 578.8C274.1 578.8 276.1 578.9 278.1 578.9C280.1 578.6 282.1 577.5 284.1 577.3C286.1 577.3 288.1 577.8 290.2 577.8C292.2 577.7 294.2 576.7 296.2 576.7C298.2 576.7 300.2 577.7 302.2 577.7C304.2 577.6 306.2 576.4 308.2 576.4C310.3 576.5 312.3 578.2 314.3 578.5C316.3 578.5 318.3 578.0 320.3 577.7C322.3 577.5 324.3 577.1 326.3 577.0C328.4 576.8 330.4 576.8 332.4 576.8C334.4 577.2 336.4 579.0 338.4 579.4C340.4 579.4 342.4 579.2 344.4 579.2C346.4 579.2 348.5 579.2 350.5 579.2C352.5 578.9 355.5 577.4 356.5 577.0" fill="none" stroke="#C96EFA" stroke-width="6.5" stroke-linejoin="round" stroke-linecap="round"/>
<path d="M391.8 598.0C392.4 596.7 394.3 590.5 395.4 590.0C396.5 590.0 397.3 593.1 398.2 594.8C399.1 596.6 400.1 600.4 401.0 600.4C401.9 600.0 402.6 594.6 403.4 592.3C404.3 589.9 405.1 587.0 405.9 586.3C406.7 586.3 407.5 587.3 408.4 588.2C409.2 589.1 409.9 590.5 410.8 591.8C411.7 593.1 412.6 594.8 413.6 595.8C414.5 596.9 415.5 598.0 416.3 598.0C417.1 597.7 417.8 595.6 418.5 594.3C419.3 593.1 420.0 591.5 420.8 590.5C421.5 589.4 422.1 588.1 423.0 588.1C423.9 588.2 425.1 590.5 426.1 591.1C427.1 591.8 428.3 591.8 429.2 591.8C430.1 591.4 430.8 589.6 431.6 588.9C432.5 588.2 433.1 587.5 434.1 587.5C435.1 589.0 436.7 597.2 437.8 598.0C438.9 598.0 439.8 594.1 440.9 592.0C441.9 590.0 443.0 586.1 443.9 585.7C444.8 585.7 445.3 588.1 446.0 589.5C446.8 590.8 447.4 593.4 448.2 593.7C449.0 593.7 450.0 591.7 450.9 591.2C451.9 590.7 452.9 591.2 453.7 590.6C454.5 589.8 455.1 587.6 455.9 586.3C456.6 584.9 457.3 582.6 458.0 582.6C458.7 583.0 459.4 587.0 460.1 588.9C460.9 590.7 461.5 593.1 462.3 593.7C463.1 593.7 463.9 592.8 464.8 592.3C465.6 591.7 466.3 590.6 467.2 590.6C468.1 591.3 469.4 596.2 470.3 596.7C471.2 596.7 471.7 594.8 472.5 593.3C473.2 591.9 473.8 589.0 474.6 588.1C475.4 588.1 476.2 588.1 477.1 588.1C477.9 588.3 478.7 589.0 479.5 589.6C480.3 590.2 481.2 591.0 482.0 591.6C482.8 592.3 483.6 593.0 484.4 593.4C485.3 593.9 486.0 594.3 486.9 594.3C487.8 594.0 488.9 592.4 489.9 591.6C491.0 590.8 492.0 590.0 493.0 589.4C494.0 588.8 494.9 588.3 495.9 588.2C496.8 588.2 497.8 589.0 498.7 589.0C499.7 588.8 500.7 587.5 501.6 587.5C502.5 587.9 503.2 590.5 504.1 591.5C504.9 592.6 505.7 593.4 506.5 593.7C507.3 593.7 508.1 593.6 509.0 593.1C509.8 592.6 510.6 591.1 511.4 590.7C512.3 590.6 513.1 590.6 513.9 590.6C514.7 591.2 515.5 593.3 516.3 594.3C517.2 595.3 517.9 596.6 518.8 596.7C519.7 596.7 520.9 595.5 521.9 594.8C522.9 594.1 524.1 593.0 525.0 592.4C525.9 591.8 526.6 591.7 527.5 591.2C528.3 590.7 529.1 590.0 529.9 589.4C530.7 588.7 531.5 587.8 532.3 587.1C533.2 586.4 533.8 585.1 534.8 585.1C535.8 586.3 537.4 593.5 538.4 594.3C539.4 594.3 540.1 591.1 540.9 589.7C541.7 588.3 542.4 585.7 543.4 585.7C544.4 586.7 545.8 595.5 547.0 595.5C548.2 595.2 549.7 584.6 550.7 583.8C551.7 583.8 552.3 588.6 553.2 590.5C554.0 592.5 554.7 595.3 555.6 595.5C556.5 595.5 557.7 593.5 558.7 592.0C559.7 590.5 560.9 586.3 561.8 586.3C562.7 586.7 563.4 592.2 564.2 594.5C565.1 596.9 565.9 600.4 566.7 600.4C567.5 600.3 568.1 595.8 568.9 593.7C569.6 591.7 570.3 588.3 571.0 588.1C571.7 588.1 572.4 590.6 573.1 592.3C573.9 593.9 574.5 597.8 575.3 598.0C576.1 598.0 576.9 594.8 577.7 593.7C578.5 592.6 579.4 592.5 580.2 591.5C581.0 590.4 581.6 587.5 582.6 587.5C583.6 587.7 585.3 592.1 586.3 592.4C587.3 592.4 587.8 590.9 588.6 589.3C589.3 587.8 590.1 584.8 590.8 583.2C591.6 581.6 592.3 579.6 593.1 579.6C593.9 580.2 594.7 584.4 595.5 586.8C596.4 589.3 597.2 593.1 598.0 594.3C598.8 594.3 599.5 594.2 600.2 594.0C601.0 593.8 601.7 593.4 602.5 593.3C603.2 593.1 603.9 593.3 604.7 593.1C605.5 592.6 606.3 591.5 607.2 590.6C608.0 589.6 608.8 588.3 609.6 587.4C610.5 586.5 611.3 585.4 612.1 585.1C612.9 585.1 613.7 585.7 614.5 585.9C615.4 586.1 616.2 585.9 617.0 586.3C617.8 587.5 618.4 591.4 619.1 593.4C619.9 595.3 620.6 597.9 621.3 598.0C622.0 598.0 622.7 595.4 623.5 593.7C624.2 592.1 624.7 588.9 625.6 588.1C626.5 588.1 627.6 588.7 628.7 588.7C629.7 588.5 630.7 586.9 631.7 586.9C632.7 587.6 633.8 590.8 634.8 592.8C635.8 594.9 637.0 598.2 637.9 599.2C638.8 599.2 639.5 598.9 640.3 598.9C641.1 599.0 641.8 599.3 642.6 599.6C643.4 600.0 644.2 600.8 645.0 601.0C645.8 601.1 646.7 601.0 647.5 601.1C648.4 601.5 649.2 603.1 650.1 603.3C650.9 603.3 651.8 602.7 652.6 602.7C653.5 602.9 654.3 603.8 655.2 604.4C656.0 605.0 656.9 606.0 657.7 606.2C658.6 606.2 659.4 605.7 660.3 605.7C661.1 605.8 661.9 606.7 662.8 606.7C663.7 606.7 664.6 605.9 665.4 605.9C666.3 606.0 667.2 607.1 668.1 607.4C669.0 607.5 669.9 607.5 670.8 607.5C671.6 607.0 672.5 605.0 673.4 604.9C674.3 604.9 675.2 606.4 676.0 606.7C676.9 607.0 677.8 607.0 678.7 607.0C679.6 606.7 680.5 605.3 681.4 605.0C682.2 605.0 683.1 605.4 684.0 605.4C684.9 605.2 685.8 604.2 686.7 603.6C687.6 603.0 688.4 602.3 689.3 601.8C690.2 601.3 691.1 600.7 692.0 600.5C692.9 600.5 693.8 600.5 694.7 600.5C695.6 600.1 696.4 598.8 697.3 598.2C698.2 597.7 698.9 597.4 700.0 597.0C701.1 596.6 703.2 595.9 703.9 595.7" fill="none" stroke="#C96EFA" stroke-width="7.0" stroke-linejoin="round" stroke-linecap="round"/>
<path d="M703.9 595.7C704.5 595.5 706.5 594.9 707.8 594.8C709.1 594.7 710.4 594.8 711.7 594.7C713.0 594.6 714.3 594.4 715.6 593.9C716.9 593.4 718.1 592.2 719.4 591.7C720.7 591.1 722.0 590.9 723.3 590.6C724.6 590.2 725.9 589.8 727.2 589.6C728.5 589.5 729.8 589.6 731.1 589.5C732.4 589.2 733.7 588.2 735.0 588.0C736.3 588.0 737.7 588.5 739.1 588.5C740.5 588.3 741.8 587.3 743.2 587.0C744.5 586.7 745.9 586.6 747.3 586.6C748.6 586.6 750.0 586.6 751.4 586.8C752.7 586.9 754.1 587.3 755.5 587.4C756.8 587.4 758.2 587.2 759.5 587.2C760.9 587.2 762.3 587.2 763.6 587.2C765.0 586.9 766.4 586.3 767.7 586.0C769.1 585.6 770.5 585.2 771.8 585.1C773.2 584.9 774.5 584.8 775.9 584.8C777.3 584.9 778.7 585.4 780.0 585.4C781.3 585.4 782.7 585.4 784.0 585.1C785.3 584.8 786.7 584.0 788.0 583.5C789.3 583.0 790.7 582.6 792.0 582.3C793.3 582.0 794.7 582.0 796.0 581.7C797.3 581.4 798.7 580.6 800.0 580.5C801.3 580.5 802.7 581.1 804.0 581.1C805.3 580.9 806.7 579.8 808.0 579.4C809.3 579.0 810.7 578.8 812.0 578.7C813.3 578.7 814.6 578.7 815.9 578.7C817.2 578.6 818.5 578.2 819.8 578.2C821.1 578.2 822.4 578.7 823.7 578.7C825.0 578.7 826.3 578.3 827.6 578.3C828.9 578.4 830.1 579.3 831.4 579.5C832.7 579.5 834.0 579.4 835.3 579.4C836.6 579.3 837.9 579.2 839.2 579.1C840.5 579.0 841.8 578.9 843.1 578.8C844.4 578.8 845.7 578.7 847.0 578.7C848.3 579.1 849.7 580.6 851.0 581.1C852.3 581.7 853.7 581.4 855.0 582.0C856.3 582.5 857.7 583.7 859.0 584.5C860.3 585.2 861.7 586.3 863.0 586.7C864.3 587.1 865.7 587.1 867.0 587.1C868.3 587.0 869.7 586.9 871.0 586.6C872.3 586.3 873.7 585.6 875.0 585.4C876.3 585.4 877.6 585.4 879.0 585.4C880.4 586.2 881.8 588.8 883.2 590.5C884.6 592.2 886.0 593.7 887.5 595.4C888.9 597.0 890.3 598.5 891.7 600.4C893.1 602.3 894.4 605.9 895.9 606.6C897.4 606.6 899.0 605.7 900.5 604.8C902.0 603.9 903.7 601.4 905.1 601.4C906.5 601.4 907.7 603.5 909.1 605.0C910.4 606.4 911.7 608.8 913.0 610.2C914.4 611.6 915.7 612.0 917.0 613.2C918.3 614.5 919.7 616.4 921.0 617.9C922.3 619.4 923.6 620.9 925.0 622.2C926.3 623.5 927.6 624.3 928.9 625.7C930.3 627.1 931.5 629.4 932.9 630.4C934.3 631.4 935.8 631.3 937.3 631.8C938.8 632.3 940.2 632.6 941.7 633.3C943.2 633.9 944.7 635.7 946.1 635.7C947.5 635.6 948.7 633.5 950.0 632.9C951.4 632.2 952.8 631.8 954.0 631.8C955.2 631.9 956.4 632.6 957.5 633.3C958.7 634.0 959.9 635.3 961.1 635.9C962.2 636.5 963.4 636.1 964.6 637.0C965.8 637.9 967.0 639.8 968.2 641.5C969.5 643.1 970.7 645.1 971.9 646.8C973.1 648.5 974.3 650.1 975.6 651.7C976.8 653.4 977.9 656.8 979.2 656.9C980.5 656.9 981.8 653.8 983.1 652.1C984.4 650.4 985.8 648.3 987.1 646.7C988.4 645.0 989.6 644.4 991.0 642.3C992.4 640.2 993.8 636.4 995.2 633.8C996.7 631.2 998.1 628.9 999.5 626.7C1000.9 624.4 1002.3 622.7 1003.7 620.2C1005.1 617.7 1006.5 614.5 1008.0 611.8C1009.4 609.1 1010.8 605.8 1012.2 604.0C1013.6 602.2 1015.0 601.9 1016.4 600.7C1017.9 599.6 1019.3 598.3 1020.7 597.3C1022.1 596.3 1023.5 596.0 1024.9 594.9C1026.3 593.7 1027.7 591.8 1029.2 590.6C1030.6 589.5 1032.0 588.7 1033.4 588.1C1034.8 587.5 1036.0 587.6 1037.4 587.3C1038.7 586.9 1040.0 586.5 1041.3 586.0C1042.6 585.5 1044.0 584.5 1045.3 584.2C1046.6 583.9 1047.9 584.2 1049.2 583.9C1050.6 583.6 1051.9 583.1 1053.2 582.6C1054.5 582.1 1055.8 581.2 1057.2 580.9C1058.5 580.7 1059.8 580.9 1061.1 580.7C1062.4 580.4 1063.8 579.6 1065.1 579.2C1066.4 578.7 1067.7 578.2 1069.0 577.9C1070.4 577.7 1071.7 577.6 1073.0 577.6C1074.3 577.8 1075.7 578.6 1077.1 578.9C1078.5 579.2 1079.8 579.4 1081.2 579.6C1082.5 579.8 1083.9 579.9 1085.3 580.3C1086.6 580.6 1088.0 581.3 1089.4 581.8C1090.7 582.3 1092.1 582.8 1093.5 583.1C1094.8 583.1 1096.2 583.1 1097.5 583.1C1098.9 583.3 1100.3 583.9 1101.6 584.3C1103.0 584.8 1104.4 585.7 1105.7 585.9C1107.1 585.9 1108.5 585.8 1109.8 585.8C1111.2 586.0 1112.5 586.7 1113.9 587.1C1115.3 587.4 1116.6 587.6 1118.0 588.1C1119.4 588.6 1120.9 589.6 1122.4 590.3C1123.9 591.0 1125.3 591.5 1126.8 592.2C1128.3 593.0 1129.7 592.2 1131.2 594.7C1132.7 597.2 1134.3 603.2 1135.8 607.4C1137.3 611.6 1139.0 618.3 1140.4 619.9C1141.8 619.9 1142.8 617.9 1144.1 616.8C1145.3 615.7 1146.5 614.6 1147.7 613.3C1148.9 611.9 1150.1 610.1 1151.3 608.8C1152.6 607.5 1153.7 605.8 1155.0 605.3C1156.3 605.3 1157.6 605.5 1159.0 605.9C1160.3 606.3 1161.6 607.3 1163.0 607.8C1164.3 608.2 1165.6 608.4 1166.9 608.7C1168.3 608.9 1169.5 608.7 1170.9 609.3C1172.3 610.4 1173.8 613.3 1175.3 615.5C1176.7 617.7 1178.2 620.1 1179.6 622.4C1181.1 624.7 1182.6 626.5 1184.0 629.1C1185.4 631.7 1186.7 634.8 1188.0 637.9C1189.3 641.0 1190.7 644.6 1192.0 647.6C1193.3 650.7 1194.7 653.2 1196.0 656.3C1197.3 659.4 1198.7 664.5 1200.0 666.1C1201.3 666.2 1202.6 666.1 1204.0 666.2C1205.3 666.4 1206.6 667.1 1207.9 667.4C1209.2 667.7 1210.5 667.7 1211.8 668.0C1213.2 668.3 1214.5 668.9 1215.8 669.3C1217.1 669.6 1218.4 669.9 1219.8 670.2C1221.1 670.6 1222.4 671.0 1223.7 671.4C1225.0 671.8 1226.4 671.9 1227.8 672.5C1229.2 673.1 1230.6 674.5 1231.9 675.1C1233.3 675.7 1234.7 676.0 1236.1 676.3C1237.4 676.6 1238.8 676.3 1240.2 676.8C1241.6 677.4 1242.9 678.9 1244.3 679.5C1245.7 680.0 1247.1 679.9 1248.4 680.2C1249.8 680.4 1251.2 680.3 1252.6 680.8C1253.9 681.3 1255.3 682.4 1256.7 683.1C1258.1 683.7 1259.5 684.1 1260.8 684.6C1262.1 685.1 1263.4 685.4 1264.8 686.0C1266.1 686.7 1267.4 687.5 1268.7 688.5C1270.0 689.5 1271.4 691.1 1272.7 691.9C1274.0 692.7 1275.3 692.5 1276.7 693.3C1278.0 694.0 1279.3 695.5 1280.6 696.2C1281.9 696.9 1283.3 696.9 1284.6 697.4C1285.9 697.9 1287.2 698.6 1288.5 699.4C1289.9 700.1 1291.1 701.2 1292.5 701.8C1293.9 702.4 1295.3 702.5 1296.7 703.0C1298.0 703.5 1299.4 704.0 1300.8 704.7C1302.2 705.5 1303.6 706.7 1305.0 707.4C1306.4 708.1 1307.7 708.2 1309.1 708.8C1310.5 709.4 1311.9 710.4 1313.3 710.9C1314.7 711.5 1316.1 711.5 1317.4 712.0C1318.8 712.4 1320.2 713.4 1321.6 713.7C1323.0 713.7 1324.4 713.7 1325.7 713.6C1327.1 713.5 1328.5 713.4 1329.9 712.9C1331.3 712.4 1332.6 711.0 1334.0 710.7C1335.4 710.7 1336.8 711.0 1338.2 711.0C1339.6 710.7 1340.9 709.5 1342.3 709.1C1343.7 708.9 1345.1 709.0 1346.5 708.9C1347.8 708.8 1349.9 708.5 1350.6 708.4L1350.6 690.0C1351.3 690.1 1353.4 690.1 1354.8 690.6C1356.2 691.0 1357.6 692.3 1359.0 692.8C1360.4 693.1 1361.8 692.8 1363.2 693.1C1364.6 693.4 1366.0 693.7 1367.4 694.3C1368.8 694.9 1370.2 696.1 1371.6 696.7C1373.0 697.3 1374.4 697.5 1375.8 697.9C1377.2 698.2 1378.7 698.5 1380.0 698.8C1381.3 699.1 1382.4 699.5 1383.7 699.7C1384.9 699.9 1386.1 700.0 1387.3 700.1C1388.5 700.1 1389.7 700.0 1390.9 700.0C1392.2 700.0 1393.3 700.0 1394.6 699.9C1395.9 699.8 1397.2 699.9 1398.5 699.6C1399.8 699.2 1401.1 698.1 1402.4 697.7C1403.8 697.2 1405.1 697.3 1406.4 697.0C1407.7 696.8 1409.0 696.6 1410.3 696.3C1411.6 696.0 1412.9 695.4 1414.2 695.1C1415.5 694.8 1416.8 694.6 1418.2 694.3C1419.5 694.0 1420.8 693.7 1422.1 693.4C1423.4 693.1 1425.3 692.6 1426.0 692.5L1426.0 577.7C1426.6 580.3 1428.6 588.4 1429.9 593.5C1431.1 598.7 1432.4 603.3 1433.7 608.5C1435.0 613.7 1436.3 619.0 1437.6 624.5C1438.9 630.0 1440.1 636.0 1441.4 641.4C1442.7 646.9 1444.0 652.3 1445.3 657.4C1446.6 662.5 1447.9 666.9 1449.1 672.1C1450.4 677.2 1451.7 685.9 1453.0 688.4C1454.3 688.4 1455.6 687.2 1456.9 686.8C1458.2 686.4 1459.5 686.2 1460.8 686.1C1462.2 686.1 1463.5 686.3 1464.8 686.3C1466.1 686.1 1467.4 684.9 1468.7 684.6C1470.0 684.6 1471.3 684.7 1472.6 684.7C1473.9 684.4 1475.2 683.5 1476.6 682.9C1477.9 682.4 1479.2 681.6 1480.5 681.3C1481.8 681.1 1483.1 681.3 1484.4 681.1C1485.7 680.9 1487.2 680.9 1488.6 680.4C1490.0 679.9 1491.4 678.4 1492.7 678.0C1494.1 677.9 1495.5 678.0 1496.9 677.9C1498.3 677.7 1499.7 677.6 1501.1 677.2C1502.5 676.8 1503.9 676.0 1505.3 675.5C1506.6 675.1 1508.0 674.9 1509.4 674.5C1510.8 674.0 1512.2 673.1 1513.6 672.7C1515.0 672.3 1516.4 672.2 1517.8 671.9C1519.2 671.5 1520.6 670.8 1522.0 670.5C1523.4 670.2 1524.8 670.1 1526.2 670.1C1527.5 670.1 1528.9 670.5 1530.3 670.5C1531.7 670.5 1533.1 670.1 1534.5 669.7C1535.9 669.4 1537.2 668.5 1538.7 668.5C1540.2 670.5 1541.8 677.3 1543.3 681.7C1544.9 686.0 1546.5 694.0 1548.0 694.6C1549.5 694.6 1550.8 688.2 1552.2 685.2C1553.6 682.3 1555.1 676.9 1556.4 676.9C1557.7 677.9 1558.8 686.3 1560.1 691.0C1561.3 695.7 1562.4 703.8 1563.7 705.1C1565.0 705.1 1566.5 701.1 1567.8 698.9C1569.2 696.6 1570.6 691.9 1572.0 691.5C1573.4 691.5 1574.8 694.4 1576.2 696.4C1577.6 698.3 1579.0 701.4 1580.4 703.4C1581.8 705.3 1583.2 706.6 1584.6 708.2C1586.0 709.8 1587.3 710.9 1588.7 712.8C1590.0 714.6 1591.4 717.5 1592.8 719.2C1594.1 721.0 1595.5 721.5 1596.8 723.3C1598.2 725.1 1599.6 728.2 1600.9 730.1C1602.3 732.0 1603.7 734.2 1605.0 734.8C1606.3 734.8 1607.3 733.9 1608.5 733.6C1609.7 733.3 1610.8 733.6 1612.0 733.0C1613.2 732.0 1614.6 729.6 1615.9 727.6C1617.2 725.6 1618.4 723.0 1619.7 721.2C1621.0 719.4 1622.3 718.3 1623.6 716.8C1624.9 715.3 1626.2 713.8 1627.5 711.9C1628.8 710.0 1630.0 707.1 1631.3 705.1C1632.6 703.2 1633.9 701.7 1635.2 700.0C1636.5 698.3 1637.9 696.8 1639.3 694.7C1640.6 692.7 1642.0 689.8 1643.4 687.6C1644.7 685.4 1646.1 683.3 1647.4 681.5C1648.8 679.7 1650.2 678.6 1651.5 676.8C1652.9 675.0 1654.2 672.0 1655.6 670.6C1657.0 669.2 1658.4 668.9 1659.8 668.3C1661.2 667.8 1662.6 668.0 1664.0 667.3C1665.3 666.6 1666.7 665.0 1668.1 664.3C1669.5 663.5 1670.9 663.1 1672.3 662.5C1673.7 662.0 1675.1 661.5 1676.5 661.0C1677.9 660.5 1679.3 660.1 1680.7 659.5C1682.1 658.9 1683.5 657.9 1684.8 657.1C1686.2 656.4 1687.6 655.6 1689.0 655.1C1690.4 654.5 1691.8 654.7 1693.2 653.9C1694.6 653.1 1696.0 651.5 1697.4 650.5C1698.8 649.6 1700.2 649.2 1701.5 648.3C1702.9 647.4 1704.3 645.9 1705.7 645.1C1707.1 644.2 1708.5 644.1 1709.9 643.2C1711.3 642.3 1712.7 640.5 1714.1 639.6C1715.4 638.7 1716.8 638.6 1718.2 637.8C1719.6 637.1 1721.1 635.8 1722.4 635.1C1723.7 634.4 1725.0 634.2 1726.3 633.7C1727.6 633.3 1728.9 632.7 1730.2 632.2C1731.5 631.8 1732.8 631.4 1734.1 631.2C1735.4 631.0 1737.3 631.0 1738.0 631.0L1738.0 580.9C1738.7 580.8 1740.8 580.6 1742.2 580.4C1743.6 580.3 1745.0 580.4 1746.4 580.0C1747.8 579.7 1749.2 578.7 1750.6 578.5C1752.0 578.5 1753.4 578.6 1754.8 578.6C1756.2 578.3 1757.6 577.3 1759.0 577.1C1760.4 577.1 1761.8 577.2 1763.2 577.2C1764.6 577.2 1766.0 577.1 1767.4 577.1C1768.8 577.2 1770.2 577.8 1771.6 577.8C1773.0 577.7 1774.3 576.7 1775.7 576.6C1777.1 576.6 1778.5 576.9 1779.9 577.1C1781.3 577.4 1782.7 577.9 1784.1 577.9C1785.5 577.9 1786.9 576.8 1788.3 576.8C1789.7 576.8 1791.1 577.7 1792.5 577.7C1793.9 577.7 1795.2 576.6 1796.6 576.4C1798.0 576.4 1799.4 576.7 1800.8 576.8C1802.2 576.9 1803.6 577.2 1805.0 577.2C1806.4 577.2 1807.6 577.1 1809.0 577.0C1810.3 576.9 1811.6 576.9 1812.9 576.5C1814.3 576.1 1815.6 575.2 1816.9 574.8C1818.2 574.4 1819.6 574.6 1820.9 574.4C1822.2 574.1 1823.5 573.8 1824.9 573.5C1826.2 573.3 1827.5 572.8 1828.8 572.6C1830.2 572.5 1831.5 572.5 1832.8 572.5C1834.1 572.5 1835.4 572.4 1836.8 572.4C1838.1 572.5 1839.4 573.3 1840.7 573.5C1842.1 573.5 1843.4 573.1 1844.7 573.1C1846.0 573.2 1847.4 573.7 1848.7 573.8C1850.0 573.8 1851.3 573.5 1852.7 573.5C1854.0 573.5 1855.3 573.8 1856.6 573.8C1858.0 573.8 1859.2 573.7 1860.6 573.7C1862.0 575.0 1863.6 581.0 1865.3 581.8C1867.0 581.8 1869.4 578.3 1871.0 578.3C1872.6 579.4 1873.7 585.0 1875.1 588.2C1876.5 591.5 1877.7 592.4 1879.2 598.0C1880.7 603.6 1882.3 613.7 1883.8 621.9C1885.4 630.0 1887.0 639.7 1888.5 646.8C1890.0 653.9 1891.6 658.4 1893.1 664.2C1894.6 670.0 1896.3 677.4 1897.7 681.6C1899.1 685.8 1900.0 686.7 1901.2 689.4C1902.4 692.1 1903.3 696.8 1904.7 697.8C1906.1 697.8 1907.8 696.1 1909.3 695.4C1910.9 694.7 1912.4 694.2 1914.0 693.6C1915.5 693.0 1917.2 693.6 1918.6 692.0C1920.0 690.1 1921.2 685.7 1922.5 682.3C1923.8 679.0 1925.0 675.6 1926.3 672.0C1927.6 668.4 1928.6 665.9 1930.2 660.7C1931.8 655.5 1934.3 641.0 1936.0 641.0C1937.7 643.9 1939.1 673.5 1940.6 678.1C1942.1 678.1 1943.7 672.4 1945.2 668.7C1946.8 665.1 1948.3 659.0 1949.9 656.0C1951.5 653.0 1953.2 652.8 1954.8 651.0C1956.5 649.1 1958.1 646.6 1959.8 644.8C1961.4 643.0 1963.0 641.5 1964.7 639.9C1966.3 638.3 1967.9 636.5 1969.6 635.2C1971.3 633.9 1973.0 632.6 1974.7 632.1C1976.4 632.1 1978.1 632.2 1979.8 632.2C1981.5 631.8 1983.3 630.4 1985.0 629.5C1986.7 628.7 1988.4 627.9 1990.1 627.0C1991.8 626.0 1993.5 624.9 1995.2 623.6C1996.9 622.3 1998.6 620.7 2000.3 619.3C2002.0 617.8 2003.7 616.1 2005.4 614.7C2007.1 613.4 2008.8 612.4 2010.5 611.2C2012.2 610.0 2013.9 608.9 2015.6 607.3C2017.3 605.7 2018.9 601.5 2020.7 601.5C2022.5 601.7 2024.7 607.8 2026.5 608.5C2028.3 608.5 2029.9 606.4 2031.5 605.4C2033.2 604.4 2034.9 603.8 2036.6 602.4C2038.2 601.0 2040.0 598.8 2041.6 596.9C2043.2 595.0 2044.7 592.9 2046.2 591.1C2047.8 589.2 2049.3 587.8 2050.9 585.7C2052.4 583.6 2053.8 579.4 2055.5 578.3C2057.2 578.3 2059.1 578.9 2060.9 579.1C2062.7 579.2 2064.5 579.2 2066.3 579.3C2068.1 579.3 2070.8 579.5 2071.7 579.5" fill="none" stroke="#C96EFA" stroke-width="6.5" stroke-linejoin="round" stroke-linecap="round"/>
<path d="M162.0 759.5C163.0 759.7 166.1 760.6 168.1 760.6C170.2 760.5 172.2 759.1 174.2 759.1C176.3 759.1 178.3 760.5 180.4 760.5C182.4 760.3 184.5 758.3 186.5 758.3C188.5 758.3 190.6 760.5 192.6 760.7C194.7 760.7 196.7 760.3 198.8 759.8C200.8 759.3 202.8 757.8 204.9 757.7C206.9 757.7 209.0 759.4 211.0 759.4C213.0 759.4 215.1 758.3 217.1 757.9C219.2 757.5 221.2 757.2 223.2 757.1C225.3 757.1 227.3 757.1 229.4 757.1C231.4 757.3 233.5 757.7 235.5 758.1C237.5 758.6 239.6 759.9 241.6 759.9C243.7 759.7 245.7 757.5 247.8 757.2C249.8 757.2 251.8 758.1 253.9 758.2C255.9 758.2 258.0 758.1 260.0 758.0C262.0 757.9 264.0 757.9 266.0 757.7C268.0 757.5 270.1 756.7 272.1 756.7C274.1 756.8 276.1 758.5 278.1 758.5C280.1 758.5 282.1 757.5 284.1 757.0C286.1 756.6 288.1 756.1 290.2 756.1C292.2 756.4 294.2 758.5 296.2 758.9C298.2 758.9 300.2 758.9 302.2 758.5C304.2 758.0 306.2 756.1 308.2 755.9C310.3 755.9 312.3 757.1 314.3 757.3C316.3 757.3 318.3 756.7 320.3 756.7C322.3 756.8 324.3 757.9 326.3 757.9C328.4 757.9 330.4 756.6 332.4 756.6C334.4 756.6 336.4 757.9 338.4 757.9C340.4 757.7 342.4 755.5 344.4 755.5C346.4 755.6 348.5 758.3 350.5 758.5C352.5 758.5 355.5 757.3 356.5 757.0" fill="none" stroke="#0072E0" stroke-width="6.5" stroke-linejoin="round" stroke-linecap="round"/>
<path d="M391.8 769.0C392.2 768.5 393.3 767.1 394.1 766.0C394.8 764.8 395.5 762.4 396.3 762.2C397.1 762.2 397.8 763.9 398.6 764.9C399.4 765.9 400.1 768.2 400.9 768.2C401.7 768.0 402.4 765.5 403.1 763.8C403.9 762.0 404.6 757.7 405.4 757.7C406.1 757.9 406.9 762.9 407.6 765.1C408.4 767.4 409.1 770.9 409.9 771.3C410.7 771.3 411.7 768.8 412.5 767.8C413.4 766.7 414.2 766.0 415.2 765.2C416.1 764.4 417.2 763.4 418.2 763.0C419.3 763.0 420.2 763.0 421.3 763.0C422.4 763.6 424.0 766.5 425.0 766.7C426.0 766.7 426.5 765.1 427.3 764.1C428.1 763.1 428.8 760.7 429.6 760.7C430.4 761.0 431.4 764.0 432.2 765.8C433.1 767.6 434.0 771.0 434.9 771.3C435.8 771.3 436.6 769.2 437.5 767.7C438.4 766.2 439.3 763.1 440.1 762.2C440.9 762.1 441.6 762.1 442.4 762.1C443.2 762.5 443.9 764.2 444.7 764.6C445.5 764.6 446.2 764.6 447.0 764.5C447.8 764.4 448.7 764.5 449.5 763.9C450.3 763.2 451.2 761.3 452.0 760.7C452.8 760.0 453.7 759.9 454.5 759.9C455.3 759.9 456.1 760.1 456.9 760.6C457.7 761.1 458.5 762.5 459.3 762.9C460.1 763.4 461.0 763.0 461.8 763.4C462.6 763.8 463.4 764.8 464.2 765.3C465.0 765.9 465.8 766.7 466.6 766.7C467.4 766.6 468.4 765.6 469.2 764.9C470.1 764.3 471.1 763.0 471.9 763.0C472.7 763.0 473.4 764.2 474.1 765.0C474.9 765.7 475.6 767.5 476.4 767.5C477.2 767.5 477.9 765.4 478.7 764.8C479.4 764.1 480.2 763.8 480.9 763.4C481.7 763.0 482.4 762.3 483.2 762.2C484.0 762.2 484.9 762.7 485.7 762.7C486.6 762.7 487.4 762.7 488.3 762.4C489.1 762.2 489.9 761.4 490.8 761.4C491.7 762.1 492.9 766.0 493.8 766.7C494.7 766.7 495.4 765.4 496.2 765.4C497.0 765.4 497.8 766.4 498.6 766.6C499.4 766.8 500.3 766.8 501.1 766.8C501.9 766.7 502.7 766.1 503.5 765.8C504.3 765.5 505.1 765.2 505.9 765.2C506.7 765.5 507.4 767.0 508.1 767.3C508.9 767.3 509.6 767.3 510.4 767.3C511.1 767.4 511.9 767.7 512.6 768.0C513.4 768.2 514.1 769.0 514.9 769.0C515.7 768.9 516.6 768.0 517.4 767.6C518.3 767.3 519.1 767.2 519.9 767.0C520.8 766.7 521.6 766.2 522.5 766.0C523.3 765.8 524.1 766.0 525.0 765.7C525.8 765.1 526.6 763.0 527.5 762.4C528.3 762.2 529.1 762.2 530.0 762.2C530.9 762.3 532.0 762.7 533.0 763.2C534.1 763.7 535.1 763.4 536.1 765.2C537.1 767.0 538.2 773.6 539.1 774.3C540.0 774.3 540.6 771.6 541.4 769.7C542.1 767.8 542.8 763.4 543.6 763.0C544.4 763.0 545.4 766.1 546.2 767.3C547.1 768.4 548.0 768.8 548.9 770.1C549.8 771.3 550.7 773.1 551.6 774.5C552.4 775.8 553.3 778.1 554.2 778.1C555.1 777.3 556.2 772.2 557.2 769.8C558.2 767.4 559.2 763.7 560.2 763.7C561.2 763.9 562.2 768.3 563.2 771.1C564.3 773.9 565.3 779.8 566.3 780.3C567.3 780.3 568.3 775.8 569.3 774.2C570.3 772.6 571.3 770.5 572.3 770.5C573.3 771.3 574.5 777.9 575.4 778.8C576.3 778.8 577.1 777.3 577.9 775.9C578.7 774.5 579.6 771.7 580.4 770.3C581.2 768.9 582.1 768.2 582.9 767.5C583.7 766.8 584.4 766.4 585.1 766.0C585.9 765.6 586.6 765.9 587.4 765.2C588.2 764.5 589.2 763.0 590.0 762.1C590.9 761.2 591.8 759.9 592.7 759.9C593.6 760.3 594.4 763.3 595.2 764.4C596.1 765.6 596.9 765.6 597.8 766.9C598.6 768.1 599.5 771.7 600.3 772.0C601.1 772.0 601.8 769.4 602.6 768.5C603.3 767.6 604.1 767.2 604.8 766.6C605.6 766.1 606.3 765.2 607.1 765.2C607.9 765.5 608.6 767.4 609.4 768.4C610.1 769.4 610.9 771.3 611.6 771.3C612.3 770.6 612.9 766.4 613.5 764.1C614.1 761.9 614.7 757.7 615.4 757.7C616.1 757.7 616.9 761.7 617.7 764.1C618.4 766.5 619.2 769.5 619.9 772.2C620.7 774.9 621.4 780.0 622.2 780.3C623.0 780.3 623.7 775.9 624.5 774.2C625.2 772.4 626.0 771.6 626.7 769.8C627.5 768.1 628.2 763.9 629.0 763.7C629.8 763.7 630.6 767.4 631.5 768.6C632.3 769.8 633.1 769.6 633.9 771.2C634.7 772.7 635.5 776.0 636.3 777.6C637.2 779.3 637.9 780.9 638.8 781.1C639.6 781.1 640.6 779.1 641.4 778.6C642.3 778.0 643.2 778.2 644.1 777.8C645.0 777.4 645.9 776.8 646.8 776.3C647.6 775.9 648.6 775.0 649.4 775.0C650.2 775.0 651.0 775.5 651.8 776.1C652.6 776.6 653.4 777.5 654.2 778.5C655.0 779.6 655.9 781.5 656.7 782.5C657.5 783.5 658.3 784.0 659.1 784.6C659.9 785.3 660.7 786.2 661.5 786.4C662.3 786.4 663.1 785.9 664.0 785.6C664.8 785.3 665.6 785.0 666.4 784.6C667.2 784.1 668.0 783.5 668.8 782.8C669.7 782.1 670.4 780.3 671.3 780.3C672.1 780.4 673.1 782.3 674.0 783.6C674.8 784.8 675.7 787.2 676.6 787.9C677.5 788.0 678.3 788.0 679.1 788.0C679.9 788.0 680.8 787.9 681.6 787.8C682.4 787.6 683.3 787.7 684.1 787.1C684.9 786.5 685.7 785.0 686.5 784.4C687.3 783.9 688.1 784.2 688.9 783.9C689.7 783.5 690.6 783.0 691.4 782.3C692.2 781.6 693.0 780.3 693.8 779.5C694.6 778.7 695.4 777.7 696.2 777.3C697.0 777.1 697.7 777.3 698.4 777.1C699.1 776.7 699.9 775.1 700.6 774.8C701.3 774.8 702.1 775.3 702.8 775.3C703.5 775.1 704.6 773.8 705.0 773.5" fill="none" stroke="#0072E0" stroke-width="7.0" stroke-linejoin="round" stroke-linecap="round"/>
<path d="M705.0 773.5C705.7 773.3 707.8 772.8 709.1 772.5C710.5 772.2 711.9 772.0 713.2 771.8C714.6 771.6 716.0 771.8 717.4 771.6C718.8 771.4 720.2 770.9 721.5 770.8C722.8 770.7 724.1 770.8 725.4 770.7C726.7 770.6 728.0 770.2 729.3 770.2C730.6 770.2 731.9 770.6 733.2 770.6C734.5 770.6 735.8 770.4 737.1 770.2C738.4 770.0 739.7 769.6 741.0 769.5C742.3 769.5 743.6 769.9 744.9 769.9C746.2 769.8 747.5 769.0 748.8 768.8C750.1 768.5 751.4 768.5 752.7 768.5C754.0 768.6 755.3 769.3 756.6 769.3C757.9 769.2 759.2 768.1 760.5 767.8C761.8 767.5 763.1 767.2 764.4 767.2C765.7 767.3 767.0 768.2 768.3 768.2C769.6 768.2 770.9 767.9 772.2 767.7C773.5 767.4 774.8 766.9 776.1 766.7C777.4 766.7 778.7 766.8 780.0 766.8C781.3 766.8 782.6 766.8 783.9 766.6C785.2 766.4 786.5 766.0 787.8 765.7C789.1 765.3 790.4 764.8 791.7 764.5C793.0 764.2 794.3 764.0 795.6 763.9C796.9 763.9 798.2 764.0 799.5 764.0C800.8 763.7 802.2 763.0 803.5 762.5C804.8 762.0 806.1 761.3 807.4 761.0C808.7 760.9 810.0 761.0 811.3 760.9C812.6 760.7 813.9 760.0 815.2 759.9C816.5 759.9 817.8 760.4 819.1 760.4C820.4 760.2 821.7 759.0 823.0 758.8C824.3 758.8 825.7 759.2 827.1 759.4C828.5 759.6 829.9 759.8 831.2 760.1C832.6 760.5 834.0 761.2 835.3 761.5C836.7 761.9 838.1 762.2 839.4 762.3C840.8 762.3 842.2 761.8 843.6 761.8C844.9 762.0 846.3 763.1 847.7 763.6C849.0 764.1 850.4 764.6 851.8 764.8C853.1 764.9 854.5 764.8 855.9 764.9C857.3 765.0 858.6 765.4 860.0 765.5C861.4 765.5 862.9 765.4 864.3 765.4C865.8 765.6 867.2 766.8 868.6 766.8C870.1 766.8 871.5 765.5 873.0 765.5C874.4 765.5 875.8 766.3 877.3 766.5C878.7 766.7 880.3 766.5 881.6 766.8C882.9 767.2 883.7 768.1 884.8 769.0C885.9 769.9 886.8 770.5 888.0 772.3C889.2 774.1 890.6 777.2 892.0 779.6C893.3 782.1 894.7 786.0 895.9 786.8C897.1 786.8 898.2 785.0 899.4 784.4C900.6 783.8 901.7 783.8 902.9 783.1C904.1 782.4 905.1 780.2 906.4 780.2C907.7 780.3 909.4 782.4 910.8 783.9C912.3 785.3 913.8 787.4 915.3 789.0C916.7 790.6 918.3 792.2 919.7 793.5C921.1 794.8 922.2 795.9 923.4 797.1C924.6 798.3 925.9 799.2 927.1 800.7C928.3 802.2 929.6 804.5 930.8 806.0C932.0 807.5 933.3 808.4 934.5 809.6C935.7 810.8 936.9 813.0 938.2 813.3C939.6 813.3 941.1 812.1 942.6 811.7C944.1 811.3 945.5 811.1 947.0 810.7C948.5 810.3 950.0 809.4 951.4 809.3C952.8 809.3 954.0 809.6 955.3 809.9C956.7 810.1 958.0 809.9 959.3 810.6C960.6 811.3 961.8 812.7 963.0 814.0C964.2 815.4 965.5 817.4 966.7 818.8C967.9 820.2 969.2 821.1 970.4 822.5C971.6 823.8 972.9 825.3 974.1 826.8C975.3 828.4 976.5 831.4 977.8 831.8C979.1 831.8 980.5 830.2 981.8 829.1C983.1 828.0 984.5 827.0 985.8 825.2C987.1 823.4 988.4 820.7 989.8 818.1C991.1 815.5 992.4 812.4 993.7 809.6C995.0 806.9 996.3 804.0 997.6 801.5C999.0 799.1 1000.3 796.6 1001.6 794.8C1002.9 793.0 1004.2 792.3 1005.6 790.5C1006.9 788.8 1008.2 786.0 1009.5 784.1C1010.9 782.3 1012.2 781.0 1013.5 779.5C1014.9 778.0 1016.2 776.0 1017.5 775.0C1018.8 774.0 1020.0 774.0 1021.2 773.2C1022.4 772.4 1023.7 771.3 1024.9 770.3C1026.1 769.4 1027.4 768.4 1028.6 767.7C1029.8 767.0 1031.1 766.7 1032.3 765.9C1033.5 765.1 1034.7 763.5 1036.0 763.0C1037.3 763.0 1038.5 763.2 1039.8 763.2C1041.1 763.0 1042.4 762.2 1043.6 762.0C1044.9 762.0 1046.2 762.0 1047.5 762.0C1048.7 761.7 1050.0 760.2 1051.3 759.9C1052.6 759.9 1053.8 760.1 1055.1 760.1C1056.4 760.1 1057.7 760.0 1058.9 759.9C1060.2 759.8 1061.5 759.8 1062.8 759.6C1064.0 759.3 1065.3 758.6 1066.6 758.3C1067.9 758.0 1069.1 757.8 1070.4 757.8C1071.7 757.9 1073.2 758.6 1074.6 758.8C1076.0 759.0 1077.4 758.8 1078.8 759.0C1080.2 759.3 1081.7 760.2 1083.1 760.6C1084.5 760.9 1085.9 760.9 1087.3 761.1C1088.7 761.3 1090.2 761.2 1091.5 761.7C1092.8 762.2 1094.0 763.6 1095.3 764.1C1096.5 764.6 1097.8 764.5 1099.1 764.8C1100.3 765.0 1101.6 765.1 1102.9 765.7C1104.1 766.3 1105.4 767.7 1106.6 768.3C1107.9 768.9 1109.2 768.9 1110.4 769.2C1111.7 769.5 1113.0 769.6 1114.2 770.1C1115.5 770.6 1116.7 771.2 1118.0 772.3C1119.3 773.4 1120.6 775.3 1122.0 776.4C1123.3 777.5 1124.6 778.0 1125.9 778.9C1127.2 779.8 1128.5 780.5 1129.8 781.6C1131.2 782.7 1132.6 783.0 1133.8 785.5C1135.0 788.0 1136.0 792.9 1137.1 796.9C1138.2 800.8 1139.2 807.6 1140.4 809.3C1141.6 809.3 1142.8 807.6 1144.1 807.2C1145.3 806.8 1146.5 807.2 1147.7 806.8C1148.9 806.4 1150.1 805.6 1151.3 804.9C1152.6 804.2 1153.7 802.7 1155.0 802.7C1156.3 802.7 1157.6 803.8 1159.0 804.8C1160.3 805.9 1161.6 807.9 1163.0 809.0C1164.3 810.1 1165.6 810.4 1166.9 811.3C1168.3 812.2 1169.5 812.9 1170.9 814.6C1172.3 816.3 1173.8 819.1 1175.3 821.6C1176.7 824.0 1178.2 826.8 1179.6 829.2C1181.1 831.5 1182.6 833.2 1184.0 835.8C1185.4 838.4 1186.7 841.7 1188.0 844.7C1189.3 847.7 1190.7 850.7 1192.0 853.9C1193.3 857.2 1194.7 861.2 1196.0 864.3C1197.3 867.5 1198.7 870.9 1200.0 872.8C1201.3 874.7 1202.6 875.0 1204.0 876.0C1205.3 877.0 1206.6 877.8 1207.9 878.7C1209.2 879.6 1210.5 880.4 1211.8 881.2C1213.2 882.0 1214.5 882.6 1215.8 883.4C1217.1 884.2 1218.3 885.3 1219.6 886.0C1220.9 886.6 1222.2 886.8 1223.4 887.4C1224.7 887.9 1226.0 888.7 1227.3 889.1C1228.5 889.6 1229.8 889.5 1231.1 890.0C1232.4 890.6 1233.6 891.8 1234.9 892.5C1236.2 893.3 1237.5 894.2 1238.7 894.7C1240.0 895.3 1241.3 895.3 1242.6 895.8C1243.8 896.3 1245.1 897.3 1246.4 897.8C1247.7 898.4 1248.9 898.6 1250.2 899.2C1251.5 899.8 1252.8 900.4 1254.2 901.3C1255.5 902.1 1256.8 903.4 1258.1 904.4C1259.4 905.4 1260.8 906.2 1262.1 907.2C1263.4 908.2 1264.7 909.3 1266.1 910.2C1267.4 911.1 1268.7 911.7 1270.0 912.5C1271.3 913.2 1272.7 913.6 1274.0 914.6C1275.3 915.6 1276.6 917.7 1277.9 918.6C1279.3 919.6 1280.6 919.8 1281.9 920.4C1283.2 921.0 1284.4 921.6 1285.7 922.0C1287.0 922.4 1288.3 922.3 1289.5 922.9C1290.8 923.6 1292.1 925.2 1293.4 925.8C1294.6 926.5 1295.9 926.0 1297.2 926.6C1298.5 927.2 1299.7 928.8 1301.0 929.3C1302.3 929.3 1303.6 929.2 1304.8 929.2C1306.1 929.7 1307.4 931.4 1308.7 932.1C1309.9 932.9 1311.2 933.2 1312.5 933.6C1313.8 934.1 1315.0 934.8 1316.3 934.9C1317.6 934.9 1318.8 934.9 1320.0 934.5C1321.2 934.1 1322.5 932.8 1323.7 932.5C1324.9 932.5 1326.2 932.6 1327.4 932.6C1328.6 932.4 1329.9 932.0 1331.1 931.8C1332.3 931.5 1333.5 931.5 1334.8 931.0C1336.1 930.5 1337.4 929.6 1338.8 929.0C1340.1 928.3 1341.4 927.4 1342.7 926.9C1344.0 926.4 1345.3 926.6 1346.6 926.2C1348.0 925.7 1349.9 924.6 1350.6 924.3L1350.6 904.5C1351.3 904.4 1353.2 903.9 1354.6 903.9C1355.9 904.0 1357.2 904.7 1358.5 904.7C1359.9 904.6 1361.2 903.3 1362.5 903.0C1363.9 903.0 1365.2 903.0 1366.5 903.0C1367.8 903.0 1369.1 903.2 1370.5 903.2C1371.8 903.0 1373.1 902.2 1374.5 901.9C1375.8 901.6 1377.1 901.6 1378.4 901.6C1379.8 901.6 1381.0 901.9 1382.4 901.9C1383.8 901.4 1385.2 899.2 1386.6 898.4C1388.0 897.6 1389.5 897.8 1390.9 897.1C1392.3 896.4 1393.7 895.4 1395.1 894.3C1396.5 893.1 1397.9 891.4 1399.3 890.3C1400.7 889.3 1402.2 888.7 1403.6 887.9C1405.0 887.1 1406.5 886.4 1407.8 885.6C1409.1 884.8 1410.4 884.0 1411.6 882.9C1412.9 881.7 1414.2 880.0 1415.5 878.8C1416.8 877.6 1418.0 876.7 1419.3 875.7C1420.6 874.8 1421.9 873.8 1423.2 873.0C1424.4 872.1 1426.4 870.9 1427.0 870.5L1427.0 756.8C1427.6 758.9 1429.6 765.6 1430.9 769.6C1432.2 773.6 1433.5 776.8 1434.8 780.9C1436.1 785.0 1437.4 790.0 1438.7 794.1C1440.0 798.1 1441.2 801.2 1442.5 805.3C1443.8 809.3 1445.1 814.2 1446.4 818.4C1447.7 822.6 1449.0 826.7 1450.3 830.7C1451.6 834.8 1452.9 841.3 1454.2 842.7C1455.5 842.7 1456.8 840.3 1458.1 838.9C1459.4 837.4 1460.6 835.4 1461.9 834.0C1463.2 832.6 1464.5 831.8 1465.8 830.4C1467.1 829.1 1468.4 827.4 1469.7 826.0C1471.0 824.6 1472.2 823.3 1473.5 822.0C1474.8 820.8 1476.1 819.6 1477.4 818.3C1478.7 817.0 1479.9 815.4 1481.1 814.3C1482.4 813.2 1483.6 812.9 1484.8 811.6C1486.1 810.4 1487.3 808.0 1488.6 806.6C1489.8 805.2 1491.0 804.5 1492.3 803.3C1493.5 802.2 1494.8 801.0 1496.0 799.8C1497.2 798.6 1498.5 797.6 1499.7 796.1C1501.0 794.6 1502.2 792.1 1503.4 790.7C1504.7 789.3 1505.9 788.9 1507.2 787.8C1508.4 786.6 1509.6 785.3 1510.9 783.8C1512.1 782.3 1513.3 780.2 1514.6 778.9C1515.9 777.6 1517.4 777.1 1518.8 776.2C1520.2 775.4 1521.7 774.9 1523.1 773.9C1524.5 772.8 1525.9 771.1 1527.3 770.1C1528.7 769.1 1530.1 768.6 1531.5 767.8C1532.9 767.0 1534.4 766.3 1535.8 765.3C1537.2 764.2 1538.6 761.5 1540.0 761.5C1541.4 762.6 1542.7 768.5 1544.1 771.9C1545.5 775.4 1546.8 782.2 1548.2 782.4C1549.6 782.4 1550.9 776.1 1552.2 773.0C1553.6 769.9 1555.0 763.8 1556.3 763.8C1557.6 764.6 1558.6 773.5 1559.8 778.0C1561.0 782.4 1562.1 789.4 1563.3 790.5C1564.5 790.5 1565.6 786.6 1566.8 784.5C1568.0 782.3 1569.1 778.1 1570.3 777.7C1571.5 777.7 1572.9 780.6 1574.2 782.0C1575.5 783.4 1576.7 784.6 1578.0 786.0C1579.3 787.5 1580.6 788.5 1581.9 790.5C1583.2 792.5 1584.7 795.5 1586.1 798.1C1587.4 800.6 1588.8 803.4 1590.2 805.8C1591.6 808.1 1593.0 809.9 1594.4 812.1C1595.8 814.4 1597.2 816.8 1598.5 819.2C1599.9 821.6 1601.2 825.3 1602.7 826.5C1604.2 826.5 1605.8 826.5 1607.3 826.5C1608.9 826.5 1610.6 826.5 1612.0 826.5C1613.4 825.7 1614.3 823.1 1615.5 821.9C1616.7 820.7 1617.8 820.6 1619.0 819.5C1620.2 818.5 1621.3 816.9 1622.5 815.6C1623.7 814.2 1624.8 812.5 1626.0 811.4C1627.2 810.3 1628.6 809.6 1629.8 808.7C1631.1 807.8 1632.4 806.9 1633.7 806.0C1635.0 805.0 1636.3 804.3 1637.5 803.3C1638.8 802.2 1640.1 800.7 1641.4 799.7C1642.7 798.6 1644.0 798.0 1645.2 797.0C1646.5 796.1 1647.7 794.7 1649.1 794.0C1650.5 793.3 1652.2 793.0 1653.7 792.7C1655.3 792.5 1656.8 792.7 1658.4 792.5C1659.9 792.3 1661.6 791.6 1663.0 791.6C1664.4 791.6 1665.5 792.2 1666.7 792.4C1668.0 792.5 1669.2 792.6 1670.4 792.7C1671.7 792.7 1672.9 792.5 1674.2 792.5C1675.4 792.6 1676.6 792.9 1677.9 793.1C1679.1 793.4 1680.3 793.9 1681.6 794.0C1682.9 794.0 1684.2 793.9 1685.5 793.9C1686.8 794.2 1688.0 795.0 1689.3 795.4C1690.6 795.8 1691.9 796.2 1693.2 796.4C1694.5 796.7 1695.8 796.5 1697.1 796.8C1698.4 797.1 1699.6 797.8 1700.9 798.1C1702.2 798.4 1703.5 798.4 1704.8 798.6C1706.1 798.8 1707.4 798.9 1708.7 799.2C1710.0 799.4 1711.2 799.9 1712.5 800.1C1713.8 800.3 1715.1 800.1 1716.4 800.4C1717.7 800.6 1719.0 801.5 1720.3 801.7C1721.6 801.9 1722.8 801.7 1724.1 801.9C1725.4 802.2 1726.7 803.0 1728.0 803.2C1729.3 803.2 1730.4 803.1 1731.7 803.1C1732.9 803.2 1734.1 803.7 1735.3 803.9C1736.6 804.1 1738.4 804.3 1739.0 804.4L1739.0 754.4C1739.7 754.6 1741.7 755.4 1743.0 755.8C1744.3 756.2 1745.7 756.2 1747.0 756.7C1748.3 757.2 1749.6 758.0 1751.0 758.5C1752.3 759.1 1753.6 759.2 1754.9 759.8C1756.3 760.5 1757.6 761.5 1758.9 762.3C1760.2 763.0 1761.6 763.8 1762.9 764.3C1764.2 764.8 1765.5 764.8 1766.9 765.3C1768.2 765.7 1769.5 766.2 1770.8 766.9C1772.2 767.6 1773.5 768.6 1774.8 769.4C1776.1 770.2 1777.3 771.2 1778.6 771.7C1779.8 772.1 1781.1 771.9 1782.3 772.3C1783.6 772.8 1784.9 773.7 1786.1 774.3C1787.4 774.9 1788.6 775.3 1789.9 775.8C1791.2 776.3 1792.4 776.9 1793.7 777.4C1794.9 777.9 1796.2 778.2 1797.5 778.7C1798.7 779.1 1800.0 779.4 1801.2 780.0C1802.5 780.6 1803.7 781.7 1805.0 782.2C1806.3 782.7 1807.6 782.7 1809.0 782.9C1810.3 783.0 1811.6 783.0 1812.9 783.2C1814.3 783.4 1815.6 783.9 1816.9 784.0C1818.2 784.0 1819.6 783.5 1820.9 783.5C1822.2 783.6 1823.5 784.4 1824.9 784.5C1826.2 784.5 1827.5 784.2 1828.8 784.2C1830.2 784.2 1831.4 784.2 1832.8 784.5C1834.2 784.9 1835.6 786.1 1837.0 786.3C1838.5 786.3 1839.9 785.8 1841.3 785.8C1842.7 785.9 1844.1 786.5 1845.5 787.0C1847.0 787.5 1848.4 788.5 1849.8 788.9C1851.2 789.2 1852.6 789.0 1854.0 789.2C1855.5 789.4 1856.8 789.2 1858.3 790.3C1859.8 791.5 1861.5 795.7 1863.0 796.1C1864.5 796.1 1866.1 792.6 1867.6 792.6C1869.1 793.4 1870.7 798.1 1872.2 800.9C1873.8 803.6 1875.6 804.4 1876.9 808.9C1878.2 813.4 1879.2 822.0 1880.3 828.1C1881.5 834.3 1882.5 839.8 1883.8 846.0C1885.1 852.2 1886.9 858.6 1888.4 865.2C1890.0 871.8 1891.5 879.5 1893.1 885.4C1894.6 891.3 1896.2 895.5 1897.8 900.9C1899.3 906.3 1901.1 915.6 1902.4 917.9C1903.8 917.9 1904.7 915.5 1905.8 914.7C1907.0 914.0 1908.1 913.3 1909.3 913.3C1910.5 913.3 1911.6 914.3 1912.8 914.7C1914.0 915.0 1915.1 915.6 1916.3 915.6C1917.5 914.1 1918.9 909.3 1920.2 905.6C1921.5 901.9 1922.7 897.2 1924.0 893.5C1925.3 889.7 1926.7 886.9 1927.9 883.1C1929.1 879.3 1930.2 875.0 1931.3 870.9C1932.5 866.8 1933.3 858.7 1934.8 858.7C1936.3 862.7 1938.8 890.9 1940.6 894.7C1942.4 894.7 1944.1 886.0 1945.8 881.7C1947.6 877.5 1949.3 872.7 1951.1 869.2C1952.9 865.7 1955.0 863.4 1956.9 860.5C1958.8 857.6 1961.0 853.4 1962.7 851.8C1964.4 850.9 1965.8 851.3 1967.3 850.9C1968.9 850.5 1970.4 850.0 1972.0 849.2C1973.5 848.4 1974.9 847.1 1976.6 846.0C1978.3 844.9 1980.2 844.0 1982.0 842.8C1983.8 841.6 1985.6 840.1 1987.4 838.9C1989.2 837.7 1990.9 837.1 1992.8 835.5C1994.7 833.9 1996.7 831.8 1998.6 829.3C2000.5 826.8 2002.5 822.6 2004.4 820.5C2006.3 818.4 2008.3 818.0 2010.2 816.8C2012.1 815.7 2014.2 816.2 2016.0 813.5C2017.8 810.8 2018.8 802.2 2020.7 800.7C2022.6 800.7 2025.5 804.2 2027.6 804.2C2029.7 801.7 2031.6 789.7 2033.4 785.7C2035.2 781.7 2036.9 782.0 2038.7 780.4C2040.4 778.9 2042.1 778.4 2043.9 776.4C2045.7 774.4 2047.8 770.9 2049.7 768.2C2051.6 765.5 2053.4 760.8 2055.5 760.2C2057.6 760.2 2060.5 764.8 2062.4 764.8C2064.3 764.7 2065.5 761.4 2067.1 759.5C2068.6 757.6 2070.9 754.3 2071.7 753.2" fill="none" stroke="#0072E0" stroke-width="6.5" stroke-linejoin="round" stroke-linecap="round"/>
<path d="M162.0 967.3C163.0 967.1 166.1 966.2 168.1 966.2C170.2 966.3 172.2 968.1 174.2 968.1C176.3 968.1 178.3 967.0 180.4 966.6C182.4 966.1 184.5 965.2 186.5 965.2C188.5 965.4 190.6 967.2 192.6 967.7C194.7 968.2 196.7 968.2 198.8 968.4C200.8 968.4 202.8 968.4 204.9 968.4C206.9 968.4 209.0 968.6 211.0 968.6C213.0 968.0 215.1 964.8 217.1 964.8C219.2 964.8 221.2 967.8 223.2 968.4C225.3 968.4 227.3 968.1 229.4 968.0C231.4 967.9 233.5 968.0 235.5 967.9C237.5 967.3 239.6 964.4 241.6 964.3C243.7 964.3 245.7 966.7 247.8 966.8C249.8 966.8 251.8 965.0 253.9 964.9C255.9 964.9 258.0 965.6 260.0 966.0C262.0 966.4 264.0 967.5 266.0 967.5C268.0 967.4 270.1 965.6 272.1 965.0C274.1 964.4 276.1 964.0 278.1 964.0C280.1 964.2 282.1 965.7 284.1 966.1C286.1 966.5 288.1 966.5 290.2 966.5C292.2 966.4 294.2 966.0 296.2 965.8C298.2 965.5 300.2 965.5 302.2 965.2C304.2 964.9 306.2 963.8 308.2 963.8C310.3 964.0 312.3 966.3 314.3 966.3C316.3 966.3 318.3 963.5 320.3 963.4C322.3 963.4 324.3 965.6 326.3 965.6C328.4 965.6 330.4 963.7 332.4 963.6C334.4 963.6 336.4 964.7 338.4 965.0C340.4 965.3 342.4 965.5 344.4 965.5C346.4 965.3 348.5 964.1 350.5 964.0C352.5 964.0 355.5 964.8 356.5 965.0" fill="none" stroke="#5400A6" stroke-width="6.5" stroke-linejoin="round" stroke-linecap="round"/>
<path d="M391.8 974.0C392.1 973.5 393.1 972.4 393.7 971.3C394.3 970.1 394.8 967.6 395.6 967.2C396.4 967.2 397.4 968.1 398.2 968.8C399.1 969.6 400.1 971.7 400.9 971.7C401.7 971.3 402.4 968.4 403.1 966.3C403.9 964.1 404.6 958.9 405.4 958.9C406.1 959.0 406.9 964.2 407.6 966.9C408.4 969.7 409.1 974.7 409.9 975.5C410.7 975.5 411.4 973.2 412.2 971.8C413.0 970.5 413.7 967.2 414.5 967.2C415.3 967.3 416.2 970.6 417.1 972.4C418.0 974.1 418.9 977.7 419.7 977.8C420.5 977.8 421.2 974.6 422.0 973.2C422.8 971.8 423.5 971.6 424.3 969.5C425.1 967.4 425.8 963.1 426.6 960.5C427.3 957.8 428.0 953.6 428.8 953.6C429.6 953.9 430.5 959.8 431.3 962.5C432.2 965.1 433.0 966.8 433.9 969.6C434.7 972.4 435.5 978.5 436.4 979.3C437.3 979.3 438.4 976.0 439.4 974.3C440.4 972.7 441.4 969.8 442.4 969.5C443.4 969.5 444.4 971.3 445.4 972.3C446.5 973.3 447.6 975.4 448.5 975.5C449.4 975.5 450.0 973.8 450.8 973.1C451.5 972.4 452.2 971.6 453.0 971.1C453.8 970.6 454.5 970.4 455.2 969.8C456.0 969.3 456.7 968.0 457.5 968.0C458.3 968.0 459.0 969.5 459.8 969.9C460.5 970.4 461.3 970.6 462.1 970.6C462.8 970.6 463.6 970.3 464.3 970.3C465.1 970.5 465.7 971.7 466.6 971.7C467.5 971.7 468.6 970.9 469.6 970.4C470.6 969.9 471.6 968.7 472.6 968.7C473.6 968.8 474.6 970.3 475.6 970.9C476.7 971.6 477.8 972.3 478.7 972.5C479.6 972.5 480.2 972.4 480.9 972.1C481.7 971.9 482.4 971.5 483.2 970.9C483.9 970.3 484.7 968.9 485.4 968.5C486.2 968.5 486.9 968.5 487.7 968.7C488.5 969.0 489.4 969.5 490.2 970.5C491.1 971.6 491.9 973.9 492.8 975.0C493.6 976.1 494.5 977.0 495.3 977.0C496.1 976.7 497.0 974.4 497.8 973.4C498.6 972.4 499.5 972.1 500.3 971.2C501.1 970.3 501.9 968.5 502.8 968.0C503.7 968.0 504.6 968.0 505.4 968.3C506.3 968.9 507.2 970.6 508.1 971.2C509.0 971.8 509.9 971.5 510.8 971.9C511.6 972.4 512.5 973.9 513.4 974.0C514.3 974.0 515.1 973.0 515.9 972.8C516.8 972.7 517.6 972.7 518.4 972.7C519.3 972.8 520.1 973.1 521.0 973.3C521.8 973.5 522.6 973.8 523.5 974.0C524.3 974.3 525.1 974.7 526.0 974.7C526.8 974.6 527.6 974.4 528.5 974.0C529.4 973.6 530.5 972.3 531.5 972.0C532.6 972.0 533.7 972.0 534.6 972.5C535.5 973.3 536.1 975.5 536.9 977.0C537.6 978.5 538.2 981.5 539.1 981.5C540.0 981.1 541.1 976.6 542.1 974.3C543.1 972.1 544.1 968.8 545.1 968.0C546.1 968.0 547.1 969.0 548.2 969.4C549.2 969.7 550.3 969.4 551.2 970.2C552.1 971.3 552.7 974.3 553.5 976.0C554.2 977.8 554.9 980.8 555.7 980.8C556.5 979.5 557.5 971.9 558.4 968.0C559.2 964.1 560.2 957.4 561.0 957.4C561.8 957.5 562.5 964.5 563.2 968.4C564.0 972.3 564.7 979.6 565.5 980.8C566.3 980.8 567.0 977.5 567.8 975.4C568.6 973.2 569.3 968.0 570.1 968.0C570.9 968.2 571.9 973.7 572.8 976.3C573.6 979.0 574.6 983.2 575.4 983.8C576.2 983.8 576.9 981.0 577.6 980.1C578.4 979.2 579.1 979.1 579.9 978.2C580.6 977.4 581.4 975.9 582.1 975.0C582.9 974.0 583.7 972.7 584.4 972.5C585.1 972.5 585.7 973.1 586.3 973.9C586.9 974.6 587.4 977.0 588.2 977.0C589.0 976.7 590.0 973.5 590.9 971.9C591.7 970.2 592.7 967.4 593.5 967.2C594.3 967.2 595.0 969.5 595.8 970.7C596.5 971.9 597.3 973.1 598.0 974.4C598.8 975.7 599.6 977.3 600.3 978.4C601.1 979.5 601.7 980.8 602.6 980.8C603.5 980.5 604.6 977.7 605.6 976.4C606.6 975.1 607.6 973.2 608.6 973.2C609.6 973.2 610.8 976.3 611.6 976.3C612.4 976.0 612.9 973.5 613.5 971.5C614.1 969.5 614.6 964.8 615.4 964.2C616.2 964.2 617.2 966.3 618.2 967.6C619.1 968.9 620.0 970.8 620.9 972.1C621.9 973.4 622.8 975.1 623.7 975.5C624.6 975.5 625.4 974.6 626.2 974.2C627.1 973.9 627.9 973.7 628.8 973.4C629.6 973.1 630.5 972.5 631.3 972.5C632.1 973.0 632.8 975.3 633.5 976.6C634.3 977.9 635.0 979.4 635.8 980.3C636.5 981.2 637.3 981.0 638.0 982.1C638.8 983.2 639.5 986.7 640.3 986.8C641.1 986.8 642.0 983.8 642.8 982.8C643.7 981.8 644.5 981.6 645.4 980.9C646.2 980.2 647.0 978.5 647.9 978.5C648.8 978.5 649.7 980.0 650.6 980.9C651.5 981.8 652.4 982.9 653.3 984.1C654.2 985.4 655.2 987.4 656.1 988.3C657.0 989.2 657.9 988.7 658.8 989.5C659.7 990.3 660.7 992.6 661.5 992.9C662.3 992.9 663.0 991.6 663.8 991.2C664.5 990.9 665.2 991.1 666.0 990.8C666.8 990.5 667.5 989.9 668.2 989.6C669.0 989.3 669.7 989.1 670.5 989.1C671.3 989.2 672.3 989.6 673.2 989.9C674.1 990.3 675.0 991.1 675.9 991.3C676.8 991.3 677.8 991.3 678.7 991.3C679.6 991.7 680.5 993.5 681.4 994.0C682.3 994.4 683.2 994.4 684.1 994.4C685.0 994.2 685.9 993.4 686.8 992.8C687.6 992.3 688.5 992.0 689.4 991.3C690.3 990.5 691.2 989.3 692.1 988.5C692.9 987.8 693.8 987.4 694.7 986.8C695.6 986.2 696.4 985.4 697.3 985.2C698.1 985.2 699.0 985.9 699.9 985.9C700.7 985.9 701.6 985.9 702.4 985.5C703.3 985.2 704.6 984.1 705.0 983.8" fill="none" stroke="#5400A6" stroke-width="7.0" stroke-linejoin="round" stroke-linecap="round"/>
<path d="M705.0 983.8C705.5 983.8 706.8 984.0 708.0 984.0C709.2 984.0 710.7 984.0 712.0 984.0C713.3 983.9 714.7 983.5 716.0 983.1C717.3 982.6 718.7 981.7 720.0 981.3C721.3 981.0 722.7 981.0 724.0 981.0C725.3 981.0 726.7 981.0 728.0 981.0C729.3 980.7 730.7 979.5 732.0 979.2C733.3 978.9 734.7 979.1 736.0 978.9C737.3 978.8 738.7 978.5 740.0 978.5C741.3 978.5 742.7 978.5 744.0 978.5C745.3 978.2 746.7 976.9 748.0 976.5C749.3 976.3 750.7 976.3 752.0 976.3C753.3 976.2 754.7 976.3 756.0 976.2C757.3 975.9 758.7 974.8 760.0 974.4C761.3 974.3 762.7 974.3 764.0 974.3C765.3 974.3 766.7 974.4 768.0 974.4C769.3 974.2 770.7 973.5 772.0 973.3C773.3 973.1 774.7 973.3 776.0 973.1C777.3 972.9 778.7 972.3 780.0 972.0C781.3 971.7 782.6 971.2 783.9 971.2C785.2 971.2 786.5 971.6 787.8 971.6C789.2 971.5 790.5 970.4 791.8 970.2C793.1 970.2 794.4 970.6 795.7 970.7C797.0 970.7 798.3 970.7 799.6 970.6C800.9 970.3 802.2 969.2 803.5 968.9C804.8 968.9 806.2 968.9 807.5 968.9C808.8 968.9 810.1 968.6 811.4 968.6C812.7 968.7 814.0 969.2 815.3 969.2C816.6 969.0 817.9 967.6 819.2 967.4C820.5 967.4 821.8 967.5 823.2 967.6C824.5 967.8 825.8 968.3 827.1 968.3C828.4 968.2 829.7 967.3 831.0 967.0C832.3 966.7 833.7 966.7 835.0 966.7C836.3 967.0 837.7 968.5 839.0 968.7C840.3 968.7 841.7 967.5 843.0 967.5C844.3 967.5 845.7 968.5 847.0 968.7C848.3 969.0 849.7 968.8 851.0 969.0C852.3 969.2 853.7 969.7 855.0 969.8C856.3 969.8 857.7 969.5 859.0 969.5C860.3 969.6 861.7 970.0 863.0 970.3C864.3 970.6 865.7 971.4 867.0 971.4C868.3 971.4 869.7 970.6 871.0 970.6C872.3 970.7 873.7 972.1 875.0 972.3C876.3 972.3 877.6 972.0 879.0 972.0C880.4 972.3 882.0 973.0 883.5 973.9C885.0 974.7 886.6 975.3 888.0 977.2C889.4 979.1 890.6 982.3 892.0 985.2C893.3 988.1 894.7 993.4 895.9 994.4C897.1 994.4 898.2 992.1 899.4 991.3C900.6 990.4 901.7 990.0 902.9 989.2C904.1 988.4 905.2 986.5 906.4 986.5C907.6 986.6 908.9 988.7 910.2 989.9C911.4 991.2 912.7 992.8 914.0 994.0C915.2 995.2 916.5 995.8 917.8 997.0C919.0 998.2 920.3 1000.0 921.5 1001.2C922.8 1002.5 924.1 1003.3 925.3 1004.5C926.6 1005.7 927.9 1007.0 929.1 1008.4C930.4 1009.9 931.5 1011.8 932.9 1012.9C934.3 1014.0 935.8 1014.3 937.3 1015.0C938.8 1015.6 940.2 1016.0 941.7 1016.5C943.2 1017.1 944.7 1018.2 946.1 1018.2C947.5 1018.1 948.7 1016.8 950.0 1016.1C951.4 1015.5 952.7 1014.3 954.0 1014.2C955.3 1014.2 956.7 1014.7 958.0 1015.3C959.3 1016.0 960.7 1016.7 962.0 1018.2C963.3 1019.7 964.6 1022.5 966.0 1024.3C967.3 1026.0 968.6 1026.9 969.9 1028.7C971.2 1030.6 972.5 1033.4 973.8 1035.4C975.2 1037.4 976.5 1040.4 977.8 1040.7C979.1 1040.7 980.5 1038.3 981.8 1037.2C983.1 1036.1 984.5 1035.7 985.8 1034.0C987.1 1032.3 988.4 1029.5 989.8 1026.7C991.1 1024.0 992.4 1020.2 993.7 1017.4C995.0 1014.6 996.3 1012.5 997.6 1010.0C999.0 1007.4 1000.3 1004.5 1001.6 1002.3C1002.9 1000.1 1004.2 998.0 1005.6 996.5C1006.9 995.0 1008.2 994.7 1009.5 993.2C1010.9 991.7 1012.2 989.4 1013.5 987.7C1014.9 985.9 1016.1 983.8 1017.5 982.5C1018.9 981.2 1020.3 980.6 1021.7 979.6C1023.1 978.6 1024.5 977.3 1025.9 976.6C1027.3 975.9 1028.8 976.1 1030.2 975.3C1031.6 974.5 1033.0 972.7 1034.4 971.7C1035.8 970.7 1037.2 969.9 1038.6 969.3C1040.0 968.7 1041.2 968.2 1042.6 968.0C1043.9 967.9 1045.2 968.0 1046.5 967.9C1047.9 967.8 1049.2 967.2 1050.5 967.1C1051.9 967.1 1053.2 967.2 1054.5 967.2C1055.8 966.9 1057.1 965.4 1058.5 965.2C1059.8 965.2 1061.1 965.8 1062.5 965.8C1063.8 965.8 1065.1 965.7 1066.4 965.4C1067.8 965.1 1069.0 964.3 1070.4 964.0C1071.8 963.7 1073.2 963.7 1074.6 963.7C1076.0 964.0 1077.4 965.0 1078.8 965.4C1080.2 965.7 1081.7 965.8 1083.1 966.0C1084.5 966.2 1085.9 966.4 1087.3 966.5C1088.7 966.6 1090.1 966.5 1091.5 966.6C1092.9 967.0 1094.3 968.4 1095.7 969.0C1097.0 969.5 1098.4 969.4 1099.8 969.9C1101.2 970.4 1102.6 971.4 1104.0 972.0C1105.4 972.6 1106.7 973.1 1108.1 973.6C1109.5 974.1 1110.9 974.6 1112.3 975.0C1113.7 975.4 1115.1 975.6 1116.4 976.1C1117.8 976.7 1119.2 977.2 1120.6 978.5C1122.0 979.8 1123.5 982.1 1125.0 983.9C1126.5 985.7 1127.9 987.4 1129.4 989.1C1130.9 990.9 1132.4 991.5 1133.8 994.4C1135.2 997.3 1136.5 1002.5 1137.8 1006.7C1139.1 1010.9 1140.4 1018.0 1141.8 1019.5C1143.2 1019.5 1144.7 1016.9 1146.2 1015.5C1147.7 1014.2 1149.1 1012.9 1150.6 1011.4C1152.1 1009.9 1153.6 1006.8 1155.0 1006.3C1156.4 1006.3 1157.6 1007.9 1159.0 1008.6C1160.3 1009.4 1161.6 1010.0 1163.0 1010.7C1164.3 1011.5 1165.6 1012.5 1166.9 1013.3C1168.3 1014.1 1169.5 1013.8 1170.9 1015.6C1172.3 1017.4 1173.8 1021.4 1175.3 1024.0C1176.7 1026.5 1178.2 1028.5 1179.6 1031.1C1181.1 1033.7 1182.5 1036.0 1184.0 1039.4C1185.5 1042.8 1187.0 1047.6 1188.4 1051.4C1189.9 1055.3 1191.4 1058.8 1192.9 1062.6C1194.3 1066.3 1195.9 1071.4 1197.3 1073.7C1198.7 1076.0 1200.0 1075.6 1201.3 1076.4C1202.6 1077.2 1203.9 1077.9 1205.2 1078.5C1206.6 1079.1 1207.9 1079.1 1209.2 1079.9C1210.5 1080.6 1211.9 1082.1 1213.2 1083.0C1214.5 1083.9 1215.9 1084.4 1217.3 1085.2C1218.7 1085.9 1220.1 1086.8 1221.4 1087.5C1222.8 1088.1 1224.2 1088.4 1225.5 1089.0C1226.9 1089.7 1228.3 1090.8 1229.6 1091.3C1231.0 1091.7 1232.4 1091.4 1233.8 1091.9C1235.1 1092.4 1236.5 1093.6 1237.9 1094.4C1239.2 1095.2 1240.6 1096.0 1242.0 1096.8C1243.3 1097.6 1244.7 1098.5 1246.1 1099.1C1247.5 1099.7 1248.9 1099.7 1250.2 1100.2C1251.5 1100.7 1252.8 1101.3 1254.2 1102.1C1255.5 1102.9 1256.8 1104.0 1258.1 1104.9C1259.4 1105.9 1260.8 1106.7 1262.1 1107.6C1263.4 1108.5 1264.7 1109.3 1266.1 1110.3C1267.4 1111.3 1268.7 1112.7 1270.0 1113.7C1271.3 1114.6 1272.7 1114.9 1274.0 1115.9C1275.3 1116.8 1276.6 1118.5 1277.9 1119.4C1279.3 1120.3 1280.6 1120.6 1281.9 1121.3C1283.2 1122.0 1284.4 1122.8 1285.7 1123.5C1287.0 1124.2 1288.3 1124.8 1289.5 1125.5C1290.8 1126.2 1292.1 1127.1 1293.4 1127.8C1294.6 1128.5 1295.9 1129.2 1297.2 1129.6C1298.5 1130.0 1299.7 1129.6 1301.0 1130.0C1302.3 1130.5 1303.6 1131.8 1304.8 1132.6C1306.1 1133.5 1307.4 1134.2 1308.7 1134.9C1309.9 1135.7 1311.2 1136.4 1312.5 1137.0C1313.8 1137.6 1315.0 1138.2 1316.3 1138.5C1317.6 1138.7 1318.8 1138.7 1320.0 1138.7C1321.2 1138.4 1322.5 1137.2 1323.7 1136.9C1324.9 1136.9 1326.2 1136.9 1327.4 1136.9C1328.6 1137.0 1329.9 1137.1 1331.1 1137.1C1332.3 1137.0 1333.5 1136.5 1334.8 1135.9C1336.1 1135.3 1337.4 1134.4 1338.8 1133.7C1340.1 1133.0 1341.4 1132.3 1342.7 1131.8C1344.0 1131.3 1345.3 1131.2 1346.6 1130.8C1348.0 1130.4 1349.9 1129.6 1350.6 1129.3L1350.6 1109.4C1351.3 1109.3 1353.2 1108.8 1354.6 1108.7C1355.9 1108.5 1357.2 1108.2 1358.5 1108.2C1359.9 1108.2 1361.2 1108.6 1362.5 1108.7C1363.9 1108.8 1365.2 1109.0 1366.5 1109.0C1367.8 1109.0 1369.1 1108.8 1370.5 1108.8C1371.8 1108.9 1373.1 1109.1 1374.5 1109.1C1375.8 1108.9 1377.1 1108.0 1378.4 1107.9C1379.8 1107.9 1381.1 1108.1 1382.4 1108.1C1383.7 1107.7 1385.0 1106.3 1386.4 1105.7C1387.7 1105.2 1389.0 1105.6 1390.3 1104.9C1391.7 1104.1 1393.0 1102.1 1394.3 1101.3C1395.6 1100.6 1396.9 1101.0 1398.3 1100.3C1399.6 1099.7 1400.9 1098.2 1402.2 1097.5C1403.6 1096.8 1404.8 1096.8 1406.2 1096.2C1407.6 1095.6 1409.0 1094.8 1410.4 1093.8C1411.7 1092.7 1413.1 1090.7 1414.5 1089.7C1415.9 1088.8 1417.3 1089.0 1418.7 1088.1C1420.1 1087.2 1421.5 1085.3 1422.8 1084.2C1424.2 1083.2 1426.3 1082.1 1427.0 1081.7L1427.0 964.5C1427.6 966.8 1429.6 974.0 1430.9 978.4C1432.2 982.8 1433.5 986.6 1434.8 990.9C1436.1 995.2 1437.4 1000.0 1438.7 1004.2C1440.0 1008.5 1441.2 1012.0 1442.5 1016.3C1443.8 1020.6 1445.1 1025.7 1446.4 1030.2C1447.7 1034.7 1449.0 1039.0 1450.3 1043.3C1451.6 1047.6 1452.9 1054.6 1454.2 1056.1C1455.5 1056.1 1456.7 1053.3 1458.0 1052.0C1459.2 1050.7 1460.5 1049.6 1461.8 1048.4C1463.0 1047.1 1464.3 1045.6 1465.5 1044.4C1466.8 1043.2 1468.0 1042.2 1469.3 1041.1C1470.6 1039.9 1471.8 1038.7 1473.1 1037.4C1474.3 1036.1 1475.6 1034.7 1476.9 1033.2C1478.1 1031.7 1479.4 1030.1 1480.6 1028.7C1481.9 1027.3 1483.1 1026.1 1484.4 1024.8C1485.7 1023.5 1487.2 1021.9 1488.5 1020.9C1489.9 1019.9 1491.3 1019.5 1492.7 1018.8C1494.1 1018.0 1495.4 1017.4 1496.8 1016.2C1498.2 1015.0 1499.6 1013.0 1501.0 1011.7C1502.4 1010.4 1503.7 1009.5 1505.1 1008.4C1506.5 1007.4 1507.9 1006.3 1509.3 1005.4C1510.6 1004.4 1512.7 1003.2 1513.4 1002.8L1513.4 983.0C1514.4 983.0 1517.6 983.0 1519.2 983.0C1520.8 982.4 1521.8 980.3 1523.2 979.3C1524.5 978.3 1525.8 978.0 1527.1 977.0C1528.4 976.1 1529.8 974.4 1531.1 973.5C1532.4 972.6 1533.7 972.6 1535.0 971.7C1536.4 970.8 1538.2 968.0 1539.0 968.0C1539.8 969.5 1539.2 976.6 1540.0 980.7C1540.8 984.8 1542.7 988.8 1544.1 992.5C1545.5 996.1 1546.8 1002.5 1548.2 1002.8C1549.6 1002.8 1550.9 997.3 1552.2 994.2C1553.6 991.1 1555.0 984.2 1556.3 984.2C1557.6 984.9 1558.6 993.5 1559.8 998.2C1561.0 1002.8 1562.1 1010.8 1563.3 1012.0C1564.5 1012.0 1565.6 1007.7 1566.8 1005.6C1568.0 1003.4 1568.9 999.7 1570.3 999.3C1571.7 999.3 1573.4 1001.9 1574.9 1003.1C1576.4 1004.3 1578.0 1004.6 1579.5 1006.3C1581.0 1008.0 1582.3 1011.0 1583.8 1013.5C1585.2 1015.9 1586.6 1018.7 1588.0 1021.1C1589.4 1023.4 1590.8 1025.1 1592.2 1027.5C1593.7 1030.0 1595.1 1033.1 1596.5 1035.7C1597.9 1038.3 1599.3 1040.6 1600.8 1043.1C1602.2 1045.5 1603.7 1049.3 1605.0 1050.3C1606.3 1050.3 1607.3 1049.4 1608.5 1049.2C1609.7 1049.2 1610.8 1049.2 1612.0 1049.2C1613.2 1048.3 1614.6 1045.5 1615.9 1044.0C1617.2 1042.4 1618.4 1041.1 1619.7 1039.8C1621.0 1038.5 1622.3 1037.4 1623.6 1036.0C1624.9 1034.6 1626.2 1033.1 1627.5 1031.5C1628.8 1029.9 1630.0 1028.0 1631.3 1026.3C1632.6 1024.6 1633.9 1022.6 1635.2 1021.3C1636.5 1020.0 1637.7 1019.5 1638.9 1018.7C1640.2 1017.8 1641.4 1016.9 1642.6 1016.4C1643.9 1015.8 1645.1 1015.9 1646.4 1015.1C1647.6 1014.3 1648.8 1012.5 1650.1 1011.6C1651.3 1010.7 1652.5 1010.1 1653.8 1009.7C1655.1 1009.3 1656.4 1009.4 1657.7 1009.3C1659.0 1009.2 1660.2 1009.2 1661.5 1009.0C1662.8 1008.7 1664.1 1007.7 1665.4 1007.6C1666.7 1007.6 1668.0 1008.2 1669.3 1008.2C1670.6 1008.0 1671.8 1006.7 1673.1 1006.4C1674.4 1006.3 1675.7 1006.3 1677.0 1006.3C1678.3 1006.5 1679.6 1007.5 1680.9 1007.8C1682.2 1007.8 1683.4 1007.8 1684.7 1007.8C1686.0 1007.9 1687.3 1007.9 1688.6 1008.0C1689.9 1008.2 1691.2 1008.4 1692.5 1008.7C1693.8 1009.0 1695.0 1009.7 1696.3 1009.8C1697.6 1009.8 1698.9 1009.7 1700.2 1009.7C1701.5 1009.9 1702.9 1010.9 1704.3 1011.0C1705.7 1011.0 1707.1 1010.2 1708.4 1010.2C1709.8 1010.2 1711.2 1011.1 1712.6 1011.3C1713.9 1011.4 1715.3 1011.3 1716.7 1011.4C1718.1 1011.6 1719.4 1012.4 1720.8 1012.8C1722.2 1013.2 1723.6 1013.7 1724.9 1013.9C1726.3 1014.0 1727.7 1013.9 1729.1 1014.0C1730.4 1014.2 1731.8 1014.7 1733.2 1015.0C1734.6 1015.2 1736.4 1015.5 1737.3 1015.5C1738.2 1007.1 1737.6 972.9 1738.5 964.5C1739.4 964.5 1741.2 964.8 1742.5 965.2C1743.9 965.5 1745.2 966.0 1746.6 966.5C1747.9 967.0 1749.3 967.6 1750.6 968.0C1751.9 968.4 1753.3 968.6 1754.6 969.1C1756.0 969.7 1757.3 970.6 1758.7 971.2C1760.0 971.8 1761.4 972.3 1762.7 972.6C1764.0 972.9 1765.4 972.6 1766.7 973.0C1768.1 973.5 1769.4 974.8 1770.8 975.2C1772.1 975.7 1773.5 975.6 1774.8 975.9C1776.1 976.2 1777.3 976.4 1778.6 976.9C1779.8 977.5 1781.1 978.6 1782.3 979.1C1783.6 979.6 1784.9 979.8 1786.1 980.2C1787.4 980.5 1788.6 980.6 1789.9 981.1C1791.2 981.6 1792.4 982.4 1793.7 982.9C1794.9 983.4 1796.2 984.0 1797.5 984.2C1798.7 984.5 1800.0 984.2 1801.2 984.5C1802.5 984.8 1803.7 985.9 1805.0 986.3C1806.3 986.7 1807.6 987.0 1809.0 987.0C1810.3 987.0 1811.6 986.3 1812.9 986.0C1814.3 985.8 1815.6 985.5 1816.9 985.5C1818.2 985.7 1819.6 986.9 1820.9 987.2C1822.2 987.2 1823.5 987.2 1824.9 987.2C1826.2 987.1 1827.5 986.7 1828.8 986.6C1830.2 986.4 1831.4 986.4 1832.8 986.3C1834.2 986.3 1835.6 986.3 1837.0 986.3C1838.5 986.4 1839.9 986.5 1841.3 987.0C1842.7 987.5 1844.1 988.7 1845.5 989.2C1847.0 989.6 1848.4 989.5 1849.8 989.8C1851.2 990.1 1852.6 990.6 1854.0 990.8C1855.5 991.0 1857.0 990.8 1858.3 991.0C1859.6 991.8 1860.6 994.5 1861.8 995.9C1863.0 997.2 1863.9 999.1 1865.3 999.1C1866.7 999.1 1868.6 995.6 1869.9 995.6C1871.2 996.1 1872.2 1000.1 1873.4 1002.2C1874.6 1004.4 1875.6 1003.4 1876.9 1008.4C1878.2 1013.4 1880.0 1024.4 1881.5 1032.2C1883.0 1039.9 1884.8 1048.8 1886.1 1054.8C1887.4 1060.8 1888.4 1063.8 1889.6 1068.5C1890.8 1073.1 1891.7 1077.4 1893.1 1082.6C1894.5 1087.8 1896.2 1094.0 1897.8 1099.8C1899.3 1105.6 1900.9 1114.4 1902.4 1117.4C1904.0 1117.6 1905.5 1117.6 1907.1 1117.6C1908.6 1117.6 1910.2 1117.6 1911.7 1117.4C1913.2 1115.9 1914.8 1111.6 1916.3 1108.9C1917.9 1106.2 1919.5 1104.7 1921.0 1101.1C1922.5 1097.5 1924.1 1092.0 1925.6 1087.5C1927.1 1083.0 1928.7 1078.7 1930.2 1074.0C1931.7 1069.3 1933.1 1059.4 1934.8 1059.4C1936.5 1062.4 1938.8 1088.4 1940.6 1091.9C1942.4 1091.9 1944.1 1084.0 1945.8 1080.1C1947.6 1076.2 1949.3 1071.8 1951.1 1068.7C1952.9 1065.6 1955.0 1064.3 1956.9 1061.4C1958.8 1058.5 1961.0 1053.3 1962.7 1051.3C1964.4 1049.6 1965.8 1050.6 1967.3 1049.6C1968.9 1048.6 1970.4 1046.5 1972.0 1045.2C1973.5 1043.9 1975.0 1042.6 1976.6 1041.9C1978.1 1041.1 1979.7 1041.9 1981.2 1040.8C1982.7 1039.7 1984.3 1037.0 1985.9 1035.5C1987.4 1034.0 1989.0 1033.3 1990.5 1031.9C1992.1 1030.4 1993.6 1028.2 1995.2 1026.9C1996.8 1025.6 1998.3 1025.4 1999.8 1024.2C2001.4 1023.0 2002.9 1020.6 2004.5 1019.6C2006.0 1018.7 2007.6 1019.4 2009.1 1018.5C2010.7 1017.6 2012.2 1015.3 2013.8 1014.2C2015.3 1013.0 2016.7 1013.0 2018.4 1011.8C2020.1 1010.6 2022.0 1008.8 2023.8 1007.1C2025.6 1005.5 2027.4 1003.3 2029.2 1001.9C2031.0 1000.6 2032.8 1000.7 2034.6 999.1C2036.4 997.5 2038.2 994.9 2040.0 992.1C2041.8 989.4 2043.6 985.4 2045.4 982.7C2047.2 980.0 2048.9 977.8 2050.8 975.9C2052.7 974.0 2054.7 972.5 2056.6 971.3C2058.5 970.2 2060.7 969.7 2062.4 968.9C2064.1 968.1 2065.5 967.6 2067.1 966.3C2068.6 964.9 2070.9 961.7 2071.7 960.8" fill="none" stroke="#5400A6" stroke-width="6.5" stroke-linejoin="round" stroke-linecap="round"/>
<path d="M162.0 1166.0C163.0 1165.9 166.1 1165.5 168.1 1165.5C170.2 1165.6 172.2 1167.0 174.2 1167.0C176.3 1166.8 178.3 1164.7 180.4 1164.6C182.4 1164.6 184.5 1165.7 186.5 1166.0C188.5 1166.3 190.6 1166.4 192.6 1166.5C194.7 1166.6 196.7 1166.7 198.8 1166.7C200.8 1166.6 202.8 1166.2 204.9 1165.9C206.9 1165.6 209.0 1165.0 211.0 1165.0C213.0 1165.0 215.1 1165.8 217.1 1166.1C219.2 1166.5 221.2 1167.2 223.2 1167.2C225.3 1167.1 227.3 1165.6 229.4 1165.3C231.4 1165.3 233.5 1165.5 235.5 1165.7C237.5 1165.9 239.6 1166.5 241.6 1166.5C243.7 1166.5 245.7 1165.5 247.8 1165.5C249.8 1165.5 251.8 1166.4 253.9 1166.5C255.9 1166.5 258.0 1166.1 260.0 1166.0C262.0 1165.9 264.0 1165.9 266.0 1165.7C268.0 1165.6 270.1 1164.9 272.1 1164.9C274.1 1165.0 276.1 1165.9 278.1 1165.9C280.1 1165.9 282.1 1164.8 284.1 1164.6C286.1 1164.6 288.1 1164.6 290.2 1164.7C292.2 1164.9 294.2 1165.6 296.2 1165.8C298.2 1165.8 300.2 1165.5 302.2 1165.5C304.2 1165.7 306.2 1167.0 308.2 1167.0C310.3 1166.8 312.3 1164.8 314.3 1164.6C316.3 1164.6 318.3 1165.2 320.3 1165.5C322.3 1165.8 324.3 1166.2 326.3 1166.3C328.4 1166.3 330.4 1166.2 332.4 1166.2C334.4 1166.2 336.4 1166.4 338.4 1166.4C340.4 1166.4 342.4 1166.2 344.4 1166.2C346.4 1166.4 348.5 1167.5 350.5 1167.5C352.5 1167.4 355.5 1166.2 356.5 1166.0" fill="none" stroke="#008B8B" stroke-width="6.5" stroke-linejoin="round" stroke-linecap="round"/>
<path d="M391.8 1180.0C392.3 1178.8 393.9 1173.5 394.8 1172.5C395.7 1172.5 396.3 1173.4 397.1 1174.3C397.8 1175.1 398.6 1176.6 399.3 1177.5C400.1 1178.5 400.8 1180.0 401.6 1180.0C402.4 1179.7 403.1 1176.9 403.9 1175.9C404.7 1174.9 405.3 1174.0 406.2 1174.0C407.1 1174.4 408.4 1178.2 409.2 1178.5C410.0 1178.5 410.5 1176.9 411.1 1175.8C411.7 1174.7 412.2 1171.7 413.0 1171.7C413.8 1171.7 415.0 1174.6 416.0 1176.0C417.0 1177.4 418.1 1179.6 419.0 1180.0C419.9 1180.0 420.5 1179.4 421.3 1178.2C422.0 1177.0 422.8 1174.2 423.5 1173.0C424.3 1171.8 425.0 1172.0 425.8 1171.0C426.5 1170.1 427.3 1168.3 428.0 1167.3C428.8 1166.3 429.4 1165.1 430.3 1164.9C431.2 1164.9 432.4 1165.5 433.3 1166.4C434.2 1167.3 435.1 1169.0 436.0 1170.3C436.8 1171.7 437.8 1174.3 438.6 1174.7C439.4 1174.7 440.1 1173.6 440.9 1172.5C441.7 1171.3 442.2 1168.0 443.2 1168.0C444.2 1168.5 445.9 1174.9 446.9 1175.5C447.9 1175.5 448.4 1172.5 449.2 1171.4C450.0 1170.3 450.7 1169.0 451.5 1168.7C452.3 1168.7 453.1 1168.9 453.9 1169.4C454.7 1169.9 455.5 1171.2 456.3 1171.8C457.1 1172.4 458.0 1172.4 458.8 1173.1C459.6 1173.8 460.4 1175.4 461.2 1176.0C462.0 1176.7 462.8 1177.0 463.6 1177.0C464.4 1176.9 465.4 1176.3 466.2 1175.5C467.1 1174.7 468.0 1172.9 468.9 1172.2C469.7 1171.7 470.6 1172.2 471.5 1171.7C472.4 1171.1 473.3 1168.7 474.1 1168.7C474.9 1168.7 475.6 1170.5 476.4 1171.8C477.2 1173.1 477.9 1176.3 478.7 1176.3C479.5 1176.3 480.2 1172.9 480.9 1171.8C481.7 1170.6 482.4 1169.8 483.2 1169.5C484.0 1169.5 485.0 1169.6 485.9 1170.1C486.7 1170.7 487.6 1171.9 488.5 1172.7C489.4 1173.5 490.3 1174.2 491.1 1174.7C492.0 1175.2 493.0 1175.5 493.8 1175.5C494.6 1175.5 495.3 1175.5 496.1 1174.9C496.8 1174.4 497.6 1172.9 498.3 1172.4C499.1 1171.9 499.8 1172.1 500.6 1171.8C501.3 1171.6 502.0 1171.0 502.8 1171.0C503.6 1171.4 504.3 1173.6 505.1 1174.5C505.9 1175.4 506.5 1176.2 507.4 1176.3C508.3 1176.3 509.4 1175.6 510.4 1175.1C511.4 1174.6 512.5 1173.2 513.4 1173.2C514.3 1173.2 515.2 1174.9 516.0 1175.2C516.9 1175.2 517.8 1174.9 518.7 1174.9C519.6 1175.4 520.5 1177.4 521.4 1178.0C522.2 1178.5 523.1 1178.0 524.0 1178.5C524.9 1179.0 526.1 1180.8 527.0 1180.8C527.9 1180.4 528.7 1177.6 529.5 1176.2C530.4 1174.7 531.2 1173.2 532.1 1172.0C532.9 1170.9 533.8 1169.5 534.6 1169.5C535.4 1170.1 536.1 1173.4 536.9 1175.4C537.6 1177.4 538.4 1181.2 539.1 1181.5C539.9 1181.5 540.6 1178.9 541.4 1177.4C542.1 1175.9 542.8 1172.5 543.6 1172.5C544.4 1172.5 545.1 1175.8 545.9 1177.3C546.7 1178.8 547.3 1181.5 548.2 1181.5C549.1 1180.9 550.3 1174.1 551.2 1174.0C552.1 1174.0 552.7 1178.5 553.5 1180.8C554.2 1183.0 554.8 1187.6 555.7 1187.6C556.6 1186.5 557.7 1178.5 558.8 1174.3C559.8 1170.2 560.9 1163.2 561.8 1162.7C562.7 1162.7 563.3 1168.6 564.0 1171.5C564.8 1174.4 565.4 1180.0 566.3 1180.0C567.2 1179.5 568.4 1170.5 569.3 1168.7C570.2 1168.7 570.9 1169.2 571.7 1169.2C572.5 1169.2 573.3 1168.6 574.1 1168.6C574.9 1168.7 575.8 1169.5 576.6 1169.9C577.4 1170.2 578.2 1170.5 579.0 1170.8C579.8 1171.1 580.5 1170.8 581.4 1171.7C582.3 1173.0 583.4 1176.3 584.4 1178.4C585.4 1180.4 586.4 1183.8 587.4 1183.8C588.4 1183.6 589.4 1179.8 590.5 1177.1C591.5 1174.5 592.5 1168.7 593.5 1168.0C594.5 1168.0 595.3 1171.8 596.1 1173.2C597.0 1174.5 597.9 1175.0 598.8 1176.1C599.7 1177.1 600.6 1178.2 601.5 1179.5C602.3 1180.8 603.2 1183.7 604.1 1183.8C605.0 1183.8 605.9 1181.6 606.7 1180.2C607.6 1178.8 608.5 1177.0 609.4 1175.5C610.2 1174.1 611.1 1173.1 612.0 1171.4C612.9 1169.8 613.7 1166.1 614.6 1165.7C615.5 1165.7 616.4 1167.6 617.2 1168.8C618.1 1170.1 619.1 1172.6 619.9 1173.2C620.7 1173.2 621.4 1172.9 622.2 1172.2C622.9 1171.5 623.7 1169.9 624.4 1168.9C625.2 1167.9 625.9 1166.7 626.7 1166.4C627.5 1166.4 628.2 1167.0 629.0 1167.2C629.8 1167.2 630.4 1167.2 631.3 1167.2C632.2 1168.6 633.4 1173.9 634.3 1175.5C635.2 1177.1 636.0 1176.1 636.8 1177.1C637.6 1178.0 638.5 1180.3 639.3 1181.1C640.1 1182.0 640.9 1182.3 641.8 1182.3C642.7 1181.5 643.8 1178.1 644.8 1176.5C645.9 1174.8 646.9 1172.5 647.9 1172.5C648.9 1172.5 649.7 1174.9 650.5 1176.2C651.4 1177.4 652.3 1178.9 653.2 1180.0C654.1 1181.1 655.0 1182.0 655.9 1182.9C656.7 1183.8 657.6 1184.9 658.5 1185.3C659.4 1185.3 660.5 1185.3 661.5 1185.3C662.5 1185.6 663.5 1186.6 664.5 1186.8C665.5 1186.8 666.5 1186.8 667.5 1186.5C668.5 1186.0 669.6 1183.8 670.5 1183.8C671.4 1184.1 672.0 1187.0 672.8 1188.1C673.6 1189.2 674.3 1190.0 675.1 1190.6C675.9 1191.2 676.6 1191.5 677.4 1191.5C678.1 1191.5 678.9 1190.8 679.6 1190.6C680.4 1190.6 681.1 1190.6 681.9 1190.6C682.6 1190.4 683.3 1189.9 684.1 1189.1C684.9 1188.3 685.6 1187.0 686.4 1186.1C687.1 1185.2 687.9 1184.6 688.7 1183.8C689.4 1183.1 690.2 1182.2 690.9 1181.6C691.7 1181.0 692.4 1180.4 693.2 1180.0C694.0 1179.6 694.8 1179.7 695.6 1179.3C696.3 1179.0 697.1 1178.0 697.9 1178.0C698.7 1178.0 699.5 1179.2 700.3 1179.2C701.1 1179.2 701.9 1178.8 702.6 1178.5C703.4 1178.1 704.6 1177.2 705.0 1177.0" fill="none" stroke="#008B8B" stroke-width="7.0" stroke-linejoin="round" stroke-linecap="round"/>
<path d="M705.0 1177.0C705.7 1176.8 707.8 1176.3 709.1 1176.0C710.5 1175.7 711.9 1175.4 713.3 1175.0C714.7 1174.7 716.0 1174.4 717.4 1174.1C718.8 1173.8 720.2 1173.5 721.6 1173.3C723.0 1173.0 724.3 1172.8 725.7 1172.5C727.1 1172.2 728.5 1171.9 729.9 1171.7C731.2 1171.4 732.7 1171.1 734.0 1171.0C735.3 1171.0 736.6 1171.0 737.8 1171.0C739.1 1170.8 740.4 1170.2 741.7 1170.1C742.9 1170.1 744.2 1170.3 745.5 1170.3C746.8 1170.3 748.1 1170.3 749.3 1170.3C750.6 1170.2 751.9 1169.6 753.2 1169.5C754.4 1169.5 755.7 1169.6 757.0 1169.6C758.3 1169.6 759.6 1169.1 760.8 1169.0C762.1 1169.0 763.4 1169.4 764.7 1169.4C765.9 1169.4 767.2 1168.9 768.5 1168.8C769.8 1168.6 771.1 1168.4 772.3 1168.4C773.6 1168.4 774.9 1168.7 776.2 1168.7C777.4 1168.6 778.7 1168.2 780.0 1168.0C781.3 1167.8 782.6 1167.9 783.9 1167.8C785.2 1167.7 786.5 1167.5 787.8 1167.4C789.1 1167.3 790.4 1167.1 791.7 1167.0C793.0 1166.8 794.3 1166.7 795.6 1166.6C796.9 1166.6 798.2 1166.6 799.5 1166.6C800.8 1166.5 802.0 1166.1 803.3 1166.1C804.6 1166.1 805.9 1166.6 807.2 1166.6C808.5 1166.6 809.8 1166.5 811.1 1166.4C812.4 1166.3 813.7 1166.3 815.0 1166.1C816.3 1166.0 817.6 1165.7 818.9 1165.5C820.2 1165.4 821.5 1165.3 822.8 1165.3C824.1 1165.3 825.5 1165.4 826.8 1165.5C828.1 1165.5 829.4 1165.6 830.8 1165.7C832.1 1165.8 833.4 1165.8 834.8 1165.9C836.1 1166.0 837.4 1166.2 838.8 1166.3C840.1 1166.5 841.4 1166.5 842.7 1166.7C844.1 1166.8 845.4 1167.1 846.7 1167.2C848.1 1167.2 849.4 1167.2 850.7 1167.2C852.0 1167.3 853.3 1167.5 854.7 1167.8C856.1 1168.1 857.5 1168.5 859.0 1168.9C860.4 1169.2 861.8 1169.6 863.2 1169.9C864.6 1170.2 866.1 1170.2 867.5 1170.6C868.9 1170.9 870.3 1171.6 871.7 1172.0C873.2 1172.4 874.6 1172.5 876.0 1173.0C877.4 1173.5 878.7 1174.5 880.0 1175.2C881.3 1175.8 882.7 1176.3 884.0 1176.8C885.3 1177.3 886.6 1176.8 888.0 1178.3C889.4 1180.0 891.1 1184.1 892.6 1186.9C894.1 1189.8 895.8 1194.7 897.2 1195.5C898.6 1195.5 899.8 1193.0 901.2 1191.9C902.5 1190.8 903.8 1188.9 905.1 1188.9C906.4 1189.1 907.7 1191.7 909.1 1192.9C910.4 1194.1 911.7 1194.9 913.0 1196.2C914.4 1197.5 915.7 1199.3 917.0 1200.6C918.3 1201.9 919.7 1202.7 921.0 1203.8C922.3 1205.0 923.6 1206.2 925.0 1207.5C926.3 1208.9 927.6 1210.6 928.9 1211.9C930.3 1213.2 931.6 1214.6 932.9 1215.4C934.2 1216.2 935.3 1216.0 936.4 1216.4C937.6 1216.8 938.8 1217.3 940.0 1217.8C941.1 1218.3 942.2 1219.0 943.5 1219.3C944.8 1219.5 946.4 1219.5 947.9 1219.5C949.4 1219.5 950.8 1219.2 952.3 1219.2C953.8 1219.2 955.3 1219.2 956.7 1219.3C958.1 1219.7 959.3 1221.0 960.7 1221.8C962.0 1222.7 963.2 1223.1 964.6 1224.6C966.0 1226.1 967.5 1228.8 969.0 1230.7C970.5 1232.7 971.9 1234.6 973.4 1236.4C974.9 1238.3 976.5 1240.9 977.8 1241.8C979.1 1241.8 980.0 1241.8 981.1 1241.6C982.2 1241.4 983.2 1241.6 984.4 1240.5C985.6 1239.1 986.8 1235.7 988.0 1233.3C989.3 1230.8 990.5 1228.2 991.7 1225.8C992.9 1223.4 994.1 1221.2 995.4 1218.8C996.6 1216.4 997.8 1213.3 999.0 1211.4C1000.2 1209.5 1001.5 1208.4 1002.7 1207.1C1003.9 1205.7 1005.2 1204.8 1006.4 1203.4C1007.6 1201.9 1008.9 1199.9 1010.1 1198.4C1011.3 1197.0 1012.6 1196.1 1013.8 1194.8C1015.0 1193.4 1016.2 1191.4 1017.5 1190.2C1018.8 1189.0 1020.3 1188.8 1021.7 1187.8C1023.1 1186.9 1024.5 1185.6 1025.9 1184.7C1027.3 1183.8 1028.8 1183.4 1030.2 1182.6C1031.6 1181.7 1033.0 1180.8 1034.4 1179.8C1035.8 1178.9 1037.3 1177.6 1038.6 1177.0C1039.9 1176.4 1041.1 1176.5 1042.4 1176.1C1043.7 1175.7 1045.0 1175.2 1046.2 1174.7C1047.5 1174.2 1048.8 1173.5 1050.1 1173.1C1051.3 1172.7 1052.6 1172.5 1053.9 1172.3C1055.2 1172.0 1056.4 1171.9 1057.7 1171.6C1059.0 1171.2 1060.3 1170.8 1061.5 1170.3C1062.8 1169.8 1064.1 1169.0 1065.4 1168.6C1066.6 1168.1 1067.9 1168.1 1069.2 1167.7C1070.5 1167.4 1071.7 1166.7 1073.0 1166.4C1074.3 1166.1 1075.7 1165.9 1077.1 1165.9C1078.4 1166.0 1079.8 1166.5 1081.1 1166.6C1082.5 1166.6 1083.9 1166.5 1085.2 1166.5C1086.6 1166.4 1087.9 1166.3 1089.3 1166.3C1090.6 1166.2 1092.0 1166.2 1093.3 1166.2C1094.7 1166.1 1096.1 1166.0 1097.4 1166.0C1098.8 1166.0 1100.1 1166.1 1101.5 1166.1C1102.8 1166.2 1104.2 1166.3 1105.6 1166.3C1106.9 1166.3 1108.3 1166.3 1109.6 1166.3C1111.0 1166.3 1112.3 1166.1 1113.7 1166.1C1115.0 1166.1 1116.4 1166.6 1117.8 1166.6C1119.1 1166.6 1120.5 1165.9 1121.8 1165.9C1123.2 1165.9 1124.6 1165.9 1125.9 1166.4C1127.2 1167.1 1128.5 1168.7 1129.8 1170.1C1131.2 1171.4 1132.6 1172.1 1133.8 1174.4C1135.0 1176.7 1136.0 1180.8 1137.1 1184.1C1138.2 1187.4 1139.1 1193.9 1140.4 1194.2C1141.7 1194.2 1143.5 1188.6 1145.1 1185.9C1146.6 1183.3 1148.3 1179.7 1149.7 1178.3C1151.1 1177.3 1152.1 1177.7 1153.2 1177.3C1154.4 1177.0 1155.6 1176.6 1156.8 1176.2C1157.9 1175.7 1159.0 1174.4 1160.3 1174.4C1161.6 1174.4 1163.2 1175.6 1164.7 1176.1C1166.2 1176.7 1167.6 1177.2 1169.1 1177.8C1170.6 1178.4 1172.2 1178.4 1173.5 1179.7C1174.8 1181.0 1175.8 1183.8 1177.0 1185.7C1178.2 1187.7 1179.3 1189.5 1180.5 1191.4C1181.7 1193.2 1182.7 1194.4 1184.0 1196.8C1185.3 1199.2 1187.0 1202.8 1188.4 1205.8C1189.9 1208.8 1191.4 1212.0 1192.9 1214.9C1194.3 1217.8 1196.0 1221.9 1197.3 1223.3C1198.6 1223.3 1199.7 1223.3 1200.8 1223.3C1202.0 1223.5 1203.2 1224.0 1204.4 1224.3C1205.5 1224.5 1206.6 1224.6 1207.9 1224.6C1209.2 1224.5 1210.7 1223.8 1212.1 1223.6C1213.5 1223.5 1214.9 1223.6 1216.3 1223.5C1217.7 1223.2 1219.2 1222.0 1220.6 1221.8C1222.0 1221.8 1223.4 1221.8 1224.8 1221.8C1226.2 1221.6 1227.7 1220.7 1229.0 1220.6C1230.3 1220.6 1231.5 1221.2 1232.8 1221.2C1234.0 1221.2 1235.3 1220.6 1236.6 1220.6C1237.8 1220.6 1239.1 1221.4 1240.4 1221.6C1241.6 1221.6 1242.9 1221.4 1244.1 1221.4C1245.4 1221.5 1246.7 1221.9 1247.9 1222.0C1249.2 1222.0 1250.5 1221.8 1251.7 1221.8C1253.0 1221.8 1254.2 1221.8 1255.5 1222.0C1256.8 1222.3 1258.3 1223.1 1259.6 1223.4C1261.0 1223.7 1262.4 1223.5 1263.8 1223.7C1265.2 1223.9 1266.5 1224.2 1267.9 1224.5C1269.3 1224.9 1270.7 1225.5 1272.1 1225.9C1273.5 1226.3 1274.8 1226.9 1276.2 1227.2C1277.6 1227.4 1279.0 1227.2 1280.4 1227.4C1281.7 1227.6 1283.1 1228.2 1284.5 1228.6C1285.9 1229.0 1287.3 1229.6 1288.7 1229.9C1290.0 1230.3 1291.4 1230.3 1292.8 1230.6C1294.2 1230.9 1295.6 1231.4 1297.0 1231.9C1298.4 1232.3 1299.7 1232.8 1301.1 1233.2C1302.5 1233.7 1303.9 1234.2 1305.3 1234.5C1306.7 1234.9 1308.1 1235.0 1309.4 1235.4C1310.8 1235.7 1312.2 1236.3 1313.6 1236.5C1315.0 1236.5 1316.2 1236.5 1317.6 1236.3C1318.9 1236.1 1320.2 1235.7 1321.5 1235.4C1322.9 1235.0 1324.2 1234.3 1325.5 1234.1C1326.9 1233.9 1328.1 1234.1 1329.5 1233.9C1330.9 1233.6 1332.3 1232.9 1333.7 1232.2C1335.1 1231.5 1336.5 1230.4 1337.9 1229.7C1339.3 1229.0 1340.8 1228.6 1342.2 1228.1C1343.6 1227.5 1345.0 1227.1 1346.4 1226.5C1347.8 1225.9 1349.9 1224.9 1350.6 1224.6L1350.6 1204.8C1351.3 1204.8 1353.4 1204.9 1354.8 1205.0C1356.2 1205.1 1357.6 1205.5 1359.0 1205.6C1360.4 1205.6 1361.8 1205.6 1363.2 1205.6C1364.6 1205.7 1366.0 1206.2 1367.4 1206.3C1368.8 1206.4 1370.2 1206.3 1371.6 1206.4C1373.0 1206.4 1374.4 1206.6 1375.8 1206.7C1377.2 1206.8 1378.6 1206.9 1380.0 1206.9C1381.4 1206.8 1382.7 1206.4 1384.1 1206.1C1385.4 1205.8 1386.8 1205.3 1388.2 1205.0C1389.5 1204.7 1390.9 1204.5 1392.3 1204.1C1393.6 1203.7 1395.0 1203.0 1396.3 1202.6C1397.7 1202.3 1399.1 1202.1 1400.4 1201.8C1401.8 1201.6 1403.2 1201.3 1404.5 1201.1C1405.9 1200.8 1407.2 1200.8 1408.6 1200.3C1410.0 1199.8 1411.5 1198.8 1413.0 1198.1C1414.5 1197.4 1416.0 1196.7 1417.4 1196.1C1418.9 1195.6 1420.4 1195.3 1421.9 1194.7C1423.3 1194.1 1425.6 1193.0 1426.3 1192.6L1426.3 1176.0C1426.9 1176.1 1428.8 1176.6 1430.1 1176.9C1431.3 1177.1 1432.6 1177.2 1433.8 1177.5C1435.1 1177.9 1436.4 1178.7 1437.6 1179.0C1438.9 1179.3 1440.1 1179.2 1441.4 1179.4C1442.6 1179.7 1443.9 1180.2 1445.2 1180.5C1446.4 1180.8 1447.7 1181.0 1448.9 1181.4C1450.2 1181.7 1451.4 1182.6 1452.7 1182.6C1454.0 1182.5 1455.4 1181.5 1456.7 1180.8C1458.0 1180.1 1459.3 1179.4 1460.7 1178.6C1462.0 1177.9 1463.3 1176.8 1464.6 1176.2C1466.0 1175.5 1467.3 1175.5 1468.6 1174.9C1469.9 1174.3 1471.3 1173.3 1472.6 1172.7C1473.9 1172.1 1475.2 1171.8 1476.6 1171.4C1477.9 1171.0 1479.2 1170.8 1480.5 1170.5C1481.8 1170.1 1483.2 1169.6 1484.5 1169.3C1485.8 1169.1 1487.1 1169.1 1488.4 1168.8C1489.8 1168.6 1491.1 1168.2 1492.4 1167.8C1493.7 1167.4 1495.0 1166.8 1496.4 1166.5C1497.7 1166.3 1499.0 1166.5 1500.3 1166.3C1501.6 1166.0 1503.0 1165.2 1504.3 1164.7C1505.6 1164.2 1506.9 1163.7 1508.2 1163.4C1509.6 1163.1 1510.9 1163.0 1512.2 1162.8C1513.5 1162.6 1514.7 1162.5 1516.0 1162.2C1517.2 1161.8 1518.5 1161.3 1519.8 1160.9C1521.0 1160.6 1522.3 1160.2 1523.6 1159.9C1524.8 1159.6 1526.1 1159.4 1527.3 1159.1C1528.6 1158.8 1529.9 1158.4 1531.1 1158.1C1532.4 1157.7 1533.7 1157.4 1534.9 1157.1C1536.2 1156.8 1537.2 1156.2 1538.7 1156.2C1540.2 1158.1 1542.0 1164.2 1543.7 1168.4C1545.3 1172.6 1547.1 1180.6 1548.6 1181.5C1550.1 1181.5 1551.2 1176.3 1552.4 1173.5C1553.7 1170.8 1555.1 1165.0 1556.3 1165.0C1557.5 1166.2 1558.5 1175.4 1559.6 1180.5C1560.7 1185.7 1561.8 1194.6 1562.9 1195.9C1564.0 1195.9 1565.1 1190.9 1566.2 1188.4C1567.3 1185.8 1568.2 1181.0 1569.5 1180.4C1570.8 1180.4 1572.5 1183.2 1573.9 1184.8C1575.4 1186.4 1576.9 1188.3 1578.4 1190.0C1579.8 1191.6 1581.4 1192.8 1582.8 1194.8C1584.2 1196.8 1585.4 1199.4 1586.7 1201.8C1587.9 1204.2 1589.2 1206.7 1590.5 1209.1C1591.8 1211.6 1593.1 1214.1 1594.3 1216.4C1595.6 1218.8 1596.8 1222.0 1598.2 1223.4C1599.6 1224.8 1601.1 1224.3 1602.6 1224.8C1604.1 1225.4 1605.5 1226.7 1607.0 1226.7C1608.5 1226.3 1609.9 1224.0 1611.4 1222.5C1612.9 1221.1 1614.3 1219.6 1615.8 1218.1C1617.3 1216.6 1618.8 1215.1 1620.2 1213.5C1621.6 1211.9 1622.8 1210.1 1624.2 1208.7C1625.5 1207.3 1626.8 1206.4 1628.1 1205.1C1629.4 1203.7 1630.8 1202.0 1632.1 1200.4C1633.4 1198.9 1634.7 1197.2 1636.0 1195.7C1637.4 1194.2 1638.7 1192.6 1640.0 1191.5C1641.3 1190.4 1642.5 1190.1 1643.8 1189.1C1645.0 1188.0 1646.3 1186.4 1647.6 1185.4C1648.8 1184.4 1650.1 1183.9 1651.4 1183.0C1652.6 1182.2 1653.9 1181.4 1655.1 1180.5C1656.4 1179.6 1657.7 1178.4 1658.9 1177.5C1660.2 1176.6 1661.5 1175.8 1662.7 1174.9C1664.0 1173.9 1665.3 1172.3 1666.5 1171.6C1667.7 1170.9 1668.9 1170.9 1670.2 1170.7C1671.4 1170.4 1672.6 1170.6 1673.8 1170.2C1675.1 1169.8 1676.3 1168.7 1677.5 1168.4C1678.7 1168.3 1679.9 1168.4 1681.2 1168.3C1682.4 1168.0 1683.6 1167.1 1684.8 1166.7C1686.1 1166.3 1687.2 1166.2 1688.5 1166.1C1689.8 1166.0 1691.2 1166.0 1692.5 1165.9C1693.8 1165.9 1695.2 1166.0 1696.5 1166.0C1697.9 1165.9 1699.2 1165.3 1700.5 1165.2C1701.9 1165.2 1703.2 1165.2 1704.5 1165.2C1705.9 1165.2 1707.2 1164.9 1708.5 1164.8C1709.9 1164.7 1711.2 1164.8 1712.6 1164.6C1713.9 1164.4 1715.2 1163.7 1716.6 1163.5C1717.9 1163.5 1719.2 1163.7 1720.6 1163.7C1721.9 1163.7 1723.2 1163.6 1724.6 1163.6C1725.9 1163.5 1727.3 1163.5 1728.6 1163.3C1729.9 1163.2 1731.2 1162.8 1732.6 1162.8C1734.0 1163.1 1735.5 1164.3 1737.0 1164.9C1738.5 1165.4 1740.1 1164.9 1741.4 1166.1C1742.7 1167.8 1743.7 1171.8 1744.9 1174.9C1746.1 1177.9 1747.3 1179.4 1748.4 1184.3C1749.5 1189.2 1750.5 1197.6 1751.5 1204.2C1752.5 1210.8 1753.4 1217.2 1754.6 1224.0C1755.8 1230.8 1757.4 1238.0 1758.8 1245.0C1760.2 1251.9 1761.6 1264.0 1763.0 1265.7C1764.4 1265.7 1765.8 1258.6 1767.2 1255.1C1768.5 1251.7 1769.9 1248.0 1771.3 1244.8C1772.7 1241.6 1774.1 1239.0 1775.5 1235.8C1776.9 1232.7 1778.3 1228.3 1779.7 1226.0C1781.1 1223.7 1782.5 1223.2 1783.8 1221.9C1785.2 1220.5 1786.7 1219.8 1788.0 1217.7C1789.3 1215.6 1790.3 1211.9 1791.5 1209.3C1792.7 1206.6 1793.8 1204.4 1795.0 1201.8C1796.2 1199.2 1797.2 1195.6 1798.5 1193.7C1799.8 1191.8 1801.3 1191.6 1802.7 1190.5C1804.1 1189.3 1805.4 1188.1 1806.8 1186.9C1808.2 1185.7 1809.6 1184.4 1811.0 1183.2C1812.4 1182.0 1813.8 1180.8 1815.2 1179.7C1816.6 1178.6 1817.9 1177.8 1819.3 1176.6C1820.7 1175.5 1822.1 1173.6 1823.5 1172.8C1824.9 1172.0 1826.3 1172.3 1827.7 1172.0C1829.1 1171.6 1830.5 1171.2 1831.8 1170.9C1833.2 1170.6 1834.6 1170.4 1836.0 1170.0C1837.4 1169.6 1838.9 1169.1 1840.2 1168.6C1841.5 1168.1 1842.6 1167.5 1843.8 1167.2C1845.1 1166.9 1846.3 1167.0 1847.5 1166.7C1848.7 1166.5 1849.9 1166.3 1851.2 1165.9C1852.4 1165.5 1853.6 1164.5 1854.8 1164.5C1856.0 1164.8 1857.1 1166.7 1858.3 1167.9C1859.5 1169.0 1860.6 1170.2 1861.8 1171.2C1863.0 1172.2 1864.2 1173.5 1865.3 1173.9C1866.4 1173.9 1867.4 1173.8 1868.4 1173.8C1869.5 1173.8 1870.6 1173.8 1871.6 1173.9C1872.6 1175.5 1873.7 1180.4 1874.7 1183.5C1875.7 1186.6 1876.6 1187.6 1877.8 1192.6C1879.0 1197.6 1880.6 1206.8 1882.0 1213.8C1883.4 1220.7 1884.8 1228.4 1886.2 1234.4C1887.6 1240.4 1889.0 1244.8 1890.4 1249.9C1891.8 1255.0 1893.1 1260.0 1894.5 1265.0C1895.9 1270.1 1897.3 1277.1 1898.7 1280.3C1900.1 1283.5 1901.5 1283.1 1902.8 1284.5C1904.2 1285.9 1905.6 1288.1 1907.0 1288.7C1908.4 1288.7 1909.8 1288.4 1911.2 1288.1C1912.6 1287.7 1914.0 1288.1 1915.4 1286.6C1916.8 1284.6 1918.2 1279.4 1919.6 1275.9C1921.0 1272.4 1922.4 1269.0 1923.8 1265.6C1925.2 1262.1 1926.7 1258.6 1928.0 1255.3C1929.3 1252.0 1930.4 1248.7 1931.6 1245.6C1932.8 1242.4 1933.7 1236.5 1935.2 1236.5C1936.7 1241.6 1938.9 1271.5 1940.5 1276.2C1942.1 1276.2 1943.3 1268.9 1944.7 1264.8C1946.0 1260.6 1947.2 1253.8 1948.8 1251.1C1950.4 1248.7 1952.5 1249.9 1954.4 1248.7C1956.2 1247.5 1958.1 1245.0 1959.9 1243.7C1961.8 1242.4 1963.7 1241.8 1965.5 1240.7C1967.3 1239.6 1968.8 1238.0 1970.5 1237.0C1972.2 1236.1 1973.9 1235.9 1975.5 1234.9C1977.2 1234.0 1978.9 1232.4 1980.6 1231.1C1982.2 1229.8 1983.9 1228.3 1985.6 1227.1C1987.3 1225.9 1989.0 1224.8 1990.6 1224.0C1992.2 1223.2 1993.7 1223.3 1995.2 1222.3C1996.7 1221.3 1998.2 1219.3 1999.8 1217.8C2001.3 1216.3 2002.8 1214.4 2004.3 1213.3C2005.9 1212.1 2007.4 1211.8 2008.9 1211.0C2010.4 1210.2 2012.0 1209.7 2013.5 1208.3C2015.0 1206.9 2016.6 1204.7 2018.2 1202.9C2019.8 1201.0 2021.3 1198.8 2022.9 1197.3C2024.5 1195.8 2026.0 1195.3 2027.6 1193.9C2029.2 1192.4 2030.5 1188.5 2032.3 1188.5C2034.1 1188.6 2036.7 1194.2 2038.6 1194.7C2040.5 1194.7 2041.8 1192.7 2043.5 1191.7C2045.1 1190.8 2046.7 1190.2 2048.3 1189.1C2050.0 1188.0 2051.7 1186.8 2053.2 1185.3C2054.7 1183.8 2056.0 1182.1 2057.4 1179.9C2058.8 1177.6 2059.9 1173.7 2061.6 1171.8C2063.3 1169.9 2065.8 1169.1 2067.8 1168.2C2069.9 1167.3 2073.1 1166.8 2074.1 1166.5" fill="none" stroke="#008B8B" stroke-width="6.5" stroke-linejoin="round" stroke-linecap="round"/>
<path d="M162.0 1323.0C163.0 1322.9 166.1 1322.6 168.1 1322.6C170.2 1322.6 172.2 1323.1 174.2 1323.3C176.3 1323.4 178.3 1323.5 180.4 1323.5C182.4 1323.5 184.5 1323.5 186.5 1323.4C188.5 1323.2 190.6 1322.1 192.6 1322.1C194.7 1322.1 196.7 1323.5 198.8 1323.6C200.8 1323.6 202.8 1322.7 204.9 1322.5C206.9 1322.2 209.0 1322.1 211.0 1322.1C213.0 1322.4 215.1 1323.9 217.1 1323.9C219.2 1323.9 221.2 1322.2 223.2 1322.2C225.3 1322.2 227.3 1323.9 229.4 1323.9C231.4 1323.9 233.5 1322.7 235.5 1322.4C237.5 1322.4 239.6 1322.4 241.6 1322.4C243.7 1322.6 245.7 1323.7 247.8 1323.8C249.8 1323.8 251.8 1323.6 253.9 1323.5C255.9 1323.3 258.0 1323.0 260.0 1323.0C262.0 1323.1 264.0 1323.9 266.0 1323.9C268.0 1323.8 270.1 1322.2 272.1 1322.1C274.1 1322.1 276.1 1323.2 278.1 1323.4C280.1 1323.4 282.1 1323.0 284.1 1322.9C286.1 1322.7 288.1 1322.6 290.2 1322.6C292.2 1322.6 294.2 1322.7 296.2 1322.9C298.2 1323.0 300.2 1323.6 302.2 1323.6C304.2 1323.6 306.2 1322.9 308.2 1322.9C310.3 1323.0 312.3 1323.7 314.3 1323.9C316.3 1323.9 318.3 1323.9 320.3 1323.9C322.3 1323.8 324.3 1323.5 326.3 1323.2C328.4 1322.9 330.4 1322.4 332.4 1322.2C334.4 1322.2 336.4 1322.2 338.4 1322.3C340.4 1322.4 342.4 1322.8 344.4 1323.1C346.4 1323.3 348.5 1323.7 350.5 1323.7C352.5 1323.6 355.5 1323.1 356.5 1323.0" fill="none" stroke="#404040" stroke-width="6.5" stroke-linejoin="round" stroke-linecap="round"/>
<path d="M391.8 1328.4C392.3 1328.5 393.6 1329.1 394.6 1329.3C395.5 1329.4 396.4 1329.3 397.3 1329.4C398.3 1329.4 399.3 1329.5 400.1 1329.5C400.9 1329.4 401.6 1328.6 402.4 1328.5C403.1 1328.5 403.9 1329.0 404.6 1329.0C405.4 1328.9 406.2 1328.4 406.9 1328.2C407.7 1327.9 408.4 1327.7 409.2 1327.6C410.0 1327.6 410.8 1327.6 411.6 1327.7C412.5 1327.9 413.3 1328.5 414.1 1328.8C414.9 1329.0 415.7 1329.3 416.6 1329.5C417.4 1329.5 418.2 1329.5 419.0 1329.5C419.8 1329.1 420.6 1327.9 421.4 1327.2C422.3 1326.5 423.1 1326.1 423.9 1325.4C424.7 1324.8 425.5 1324.1 426.4 1323.4C427.2 1322.7 427.9 1321.4 428.8 1321.2C429.7 1321.2 430.8 1321.7 431.9 1321.9C432.9 1322.1 434.0 1322.2 434.9 1322.4C435.8 1322.6 436.4 1323.0 437.2 1323.3C437.9 1323.7 438.7 1324.3 439.4 1324.6C440.2 1325.0 440.9 1325.6 441.7 1325.7C442.5 1325.7 443.4 1325.7 444.2 1325.5C445.0 1325.2 445.9 1324.7 446.7 1324.4C447.5 1324.1 448.4 1323.7 449.2 1323.7C450.0 1323.7 450.9 1324.1 451.8 1324.5C452.6 1324.9 453.5 1325.6 454.3 1326.1C455.2 1326.6 456.0 1327.1 456.9 1327.4C457.7 1327.7 458.6 1327.6 459.4 1327.9C460.3 1328.3 461.2 1329.3 462.0 1329.5C462.8 1329.5 463.7 1329.4 464.5 1329.1C465.4 1328.8 466.2 1328.3 467.1 1327.9C467.9 1327.6 468.8 1327.2 469.6 1326.9C470.4 1326.6 471.3 1326.4 472.1 1326.2C473.0 1325.9 473.8 1325.5 474.7 1325.2C475.5 1325.0 476.3 1324.9 477.2 1324.9C478.1 1324.9 478.9 1325.3 479.8 1325.4C480.7 1325.6 481.6 1325.6 482.4 1325.6C483.3 1325.6 484.2 1325.4 485.1 1325.4C485.9 1325.4 486.8 1325.4 487.7 1325.7C488.6 1326.0 489.7 1326.8 490.8 1327.1C491.8 1327.5 492.8 1327.6 493.8 1327.6C494.8 1327.6 495.6 1327.4 496.5 1327.3C497.4 1327.2 498.3 1327.1 499.2 1327.1C500.1 1327.2 501.1 1327.8 502.0 1327.9C502.9 1327.9 503.8 1327.9 504.7 1327.9C505.6 1327.8 506.5 1327.6 507.4 1327.6C508.3 1327.6 509.1 1327.8 509.9 1328.0C510.8 1328.3 511.6 1328.7 512.4 1329.0C513.3 1329.2 514.1 1329.2 515.0 1329.5C515.8 1329.8 516.6 1330.4 517.5 1330.7C518.3 1331.1 519.1 1331.2 520.0 1331.5C520.8 1331.7 521.6 1332.2 522.5 1332.2C523.4 1332.0 524.5 1331.1 525.5 1330.4C526.5 1329.8 527.6 1328.7 528.5 1328.4C529.4 1328.4 530.2 1328.5 531.0 1328.5C531.9 1328.4 532.7 1328.4 533.6 1328.2C534.4 1328.1 535.3 1327.6 536.1 1327.6C536.9 1327.6 537.6 1328.0 538.4 1328.3C539.1 1328.6 539.9 1329.0 540.6 1329.2C541.4 1329.5 542.1 1329.5 542.9 1329.8C543.6 1330.1 544.2 1330.5 545.1 1331.0C546.0 1331.5 547.1 1332.1 548.2 1332.6C549.2 1333.1 550.2 1334.0 551.2 1334.0C552.2 1333.8 553.2 1332.1 554.2 1331.2C555.2 1330.4 556.3 1329.3 557.2 1328.7C558.1 1328.1 558.7 1328.2 559.5 1327.8C560.2 1327.4 561.0 1326.7 561.8 1326.3C562.5 1325.8 563.3 1325.5 564.0 1325.2C564.8 1324.8 565.4 1324.2 566.3 1324.2C567.2 1324.4 568.3 1325.6 569.3 1326.3C570.3 1326.9 571.4 1328.0 572.3 1328.0C573.2 1328.0 573.8 1326.6 574.6 1326.1C575.4 1325.6 576.1 1324.9 576.9 1324.9C577.7 1325.0 578.6 1326.1 579.4 1326.9C580.2 1327.7 581.1 1328.7 581.9 1329.5C582.7 1330.3 583.5 1331.5 584.4 1331.7C585.3 1331.7 586.2 1331.3 587.0 1330.9C587.9 1330.6 588.8 1329.8 589.7 1329.5C590.6 1329.1 591.5 1329.1 592.4 1328.8C593.2 1328.6 594.2 1328.0 595.0 1328.0C595.8 1328.1 596.5 1329.0 597.3 1329.5C598.0 1329.9 598.8 1330.5 599.5 1330.9C600.3 1331.3 601.1 1331.6 601.8 1332.1C602.6 1332.6 603.3 1334.0 604.1 1334.0C604.9 1334.0 605.7 1332.8 606.5 1332.2C607.3 1331.6 608.1 1331.0 608.9 1330.3C609.7 1329.6 610.6 1328.5 611.4 1327.9C612.2 1327.2 613.0 1326.8 613.8 1326.2C614.6 1325.6 615.3 1324.5 616.2 1324.2C617.1 1324.2 618.0 1324.6 618.9 1324.7C619.8 1324.7 620.7 1324.7 621.6 1324.7C622.5 1324.6 623.4 1324.2 624.3 1324.1C625.2 1324.1 626.1 1324.4 627.0 1324.6C627.9 1324.7 628.8 1324.6 629.7 1324.9C630.6 1325.3 631.5 1326.1 632.4 1326.9C633.2 1327.7 634.1 1329.0 635.0 1329.8C635.9 1330.7 636.8 1331.2 637.6 1331.9C638.5 1332.6 639.5 1333.7 640.3 1334.0C641.1 1334.0 641.8 1334.0 642.6 1333.9C643.3 1333.7 644.1 1332.9 644.8 1332.8C645.6 1332.8 646.4 1333.1 647.1 1333.1C647.9 1333.1 648.6 1332.5 649.4 1332.5C650.2 1332.6 651.2 1333.4 652.0 1334.0C652.9 1334.6 653.8 1335.3 654.7 1335.9C655.6 1336.6 656.5 1337.4 657.4 1338.1C658.2 1338.8 659.2 1339.6 660.0 1340.0C660.8 1340.4 661.5 1340.4 662.2 1340.5C663.0 1340.5 663.8 1340.5 664.5 1340.5C665.2 1340.7 666.0 1341.3 666.8 1341.5C667.5 1341.5 668.2 1341.5 669.0 1341.5C669.8 1341.7 670.8 1342.3 671.6 1342.7C672.5 1343.1 673.4 1343.6 674.3 1343.9C675.2 1344.0 676.1 1343.9 677.0 1344.0C677.8 1344.2 678.8 1345.3 679.6 1345.3C680.4 1345.3 681.2 1344.4 682.0 1344.0C682.8 1343.5 683.6 1343.0 684.3 1342.6C685.1 1342.2 685.9 1341.8 686.7 1341.3C687.5 1340.9 688.3 1340.1 689.1 1339.8C689.9 1339.4 690.7 1339.7 691.5 1339.3C692.2 1338.9 693.0 1337.7 693.8 1337.2C694.6 1336.7 695.4 1336.6 696.2 1336.3C697.0 1336.0 697.7 1335.6 698.4 1335.4C699.1 1335.1 699.9 1334.9 700.6 1334.9C701.3 1334.9 702.1 1335.2 702.8 1335.2C703.5 1335.1 704.6 1334.5 705.0 1334.4" fill="none" stroke="#404040" stroke-width="6.3" stroke-linejoin="round" stroke-linecap="round"/>
<path d="M705.0 1334.4C705.6 1334.2 707.4 1333.7 708.7 1333.3C709.9 1333.0 711.1 1332.6 712.3 1332.3C713.6 1331.9 714.8 1331.6 716.0 1331.2C717.2 1330.8 718.4 1330.5 719.7 1330.1C720.9 1329.8 722.1 1329.4 723.3 1329.1C724.6 1328.7 725.7 1328.2 727.0 1328.0C728.3 1328.0 729.6 1328.1 730.9 1328.1C732.2 1328.1 733.5 1328.2 734.8 1328.2C736.1 1328.2 737.4 1328.2 738.6 1328.3C739.9 1328.3 741.2 1328.3 742.5 1328.4C743.8 1328.4 745.1 1328.4 746.4 1328.5C747.7 1328.5 749.0 1328.5 750.3 1328.5C751.6 1328.6 752.9 1328.6 754.2 1328.6C755.5 1328.7 756.8 1328.7 758.1 1328.7C759.3 1328.8 760.6 1328.8 761.9 1328.8C763.2 1328.8 764.5 1328.9 765.8 1328.9C767.1 1328.9 768.4 1329.0 769.7 1329.0C771.0 1328.9 772.3 1328.7 773.5 1328.5C774.8 1328.3 776.1 1328.2 777.4 1328.0C778.6 1327.8 779.9 1327.7 781.2 1327.5C782.5 1327.3 783.8 1327.2 785.0 1327.0C786.3 1326.8 787.6 1326.7 788.9 1326.5C790.1 1326.3 791.4 1326.2 792.7 1326.0C794.0 1325.8 795.3 1325.7 796.5 1325.5C797.8 1325.3 799.1 1325.2 800.4 1325.0C801.6 1324.8 802.9 1324.7 804.2 1324.5C805.5 1324.3 806.8 1324.2 808.0 1324.0C809.3 1323.8 810.6 1323.7 811.9 1323.5C813.1 1323.3 814.4 1323.1 815.7 1323.0C817.0 1323.0 818.3 1323.1 819.6 1323.2C820.9 1323.2 822.2 1323.3 823.5 1323.3C824.8 1323.4 826.1 1323.5 827.4 1323.5C828.7 1323.6 830.0 1323.6 831.3 1323.7C832.6 1323.7 833.9 1323.8 835.2 1323.8C836.5 1323.9 837.8 1324.0 839.1 1324.0C840.4 1324.1 841.7 1324.1 843.0 1324.2C844.3 1324.2 845.6 1324.3 846.9 1324.4C848.2 1324.4 849.5 1324.5 850.8 1324.5C852.1 1324.6 853.3 1324.5 854.7 1324.7C856.1 1324.9 857.5 1325.3 859.0 1325.6C860.4 1325.8 861.8 1326.1 863.2 1326.4C864.6 1326.7 866.1 1327.0 867.5 1327.3C868.9 1327.6 870.3 1327.9 871.7 1328.1C873.2 1328.4 874.6 1328.9 876.0 1329.0C877.4 1329.0 878.7 1329.0 880.0 1329.0C881.3 1329.9 882.6 1332.5 884.0 1334.3C885.3 1336.1 886.6 1337.8 888.0 1339.6C889.3 1341.4 890.6 1343.1 891.9 1344.9C893.2 1346.7 894.7 1349.5 895.9 1350.2C897.1 1350.2 898.2 1349.6 899.4 1349.3C900.6 1349.0 901.7 1348.8 902.9 1348.5C904.1 1348.2 905.2 1347.6 906.4 1347.6C907.6 1348.1 908.9 1350.2 910.2 1351.6C911.4 1352.9 912.7 1354.2 914.0 1355.5C915.2 1356.8 916.5 1358.2 917.8 1359.5C919.0 1360.8 920.3 1362.1 921.5 1363.4C922.8 1364.7 924.1 1366.1 925.3 1367.4C926.6 1368.7 927.9 1370.0 929.1 1371.3C930.4 1372.7 931.6 1374.6 932.9 1375.3C934.2 1375.6 935.7 1375.5 937.1 1375.6C938.5 1375.6 939.9 1375.7 941.3 1375.8C942.7 1375.9 944.2 1376.0 945.6 1376.1C947.0 1376.2 948.4 1376.3 949.8 1376.3C951.2 1376.4 952.7 1376.3 954.0 1376.6C955.3 1376.9 956.4 1377.8 957.5 1378.4C958.7 1379.0 959.9 1379.6 961.1 1380.2C962.2 1380.8 963.4 1380.9 964.6 1382.0C965.8 1383.1 967.0 1385.1 968.2 1386.6C969.5 1388.1 970.7 1389.7 971.9 1391.2C973.1 1392.7 974.3 1394.3 975.6 1395.8C976.8 1397.3 978.0 1400.2 979.2 1400.4C980.4 1400.4 981.4 1398.2 982.5 1397.1C983.6 1396.0 984.6 1395.4 985.8 1393.8C987.0 1392.2 988.3 1389.7 989.5 1387.7C990.7 1385.7 992.0 1383.7 993.2 1381.6C994.4 1379.6 995.7 1377.6 996.9 1375.6C998.1 1373.5 999.4 1371.5 1000.6 1369.5C1001.8 1367.5 1003.0 1365.1 1004.3 1363.4C1005.6 1361.7 1007.1 1360.8 1008.5 1359.4C1009.9 1358.1 1011.3 1356.8 1012.7 1355.5C1014.1 1354.2 1015.6 1352.8 1017.0 1351.5C1018.4 1350.2 1019.8 1348.9 1021.2 1347.6C1022.6 1346.2 1024.1 1344.7 1025.4 1343.6C1026.7 1342.5 1027.9 1342.0 1029.1 1341.2C1030.4 1340.4 1031.6 1339.6 1032.8 1338.8C1034.1 1338.0 1035.3 1337.3 1036.6 1336.5C1037.8 1335.7 1039.0 1334.9 1040.3 1334.1C1041.5 1333.3 1042.7 1332.3 1044.0 1331.7C1045.3 1331.1 1046.6 1331.0 1048.0 1330.7C1049.3 1330.4 1050.6 1330.1 1051.9 1329.7C1053.2 1329.4 1054.6 1329.1 1055.9 1328.7C1057.2 1328.4 1058.5 1328.1 1059.8 1327.8C1061.2 1327.4 1062.5 1327.1 1063.8 1326.8C1065.1 1326.4 1066.5 1326.1 1067.8 1325.8C1069.1 1325.4 1070.4 1325.1 1071.7 1324.8C1073.1 1324.5 1074.4 1324.0 1075.7 1323.8C1077.0 1323.7 1078.3 1323.7 1079.6 1323.7C1080.8 1323.7 1082.1 1323.6 1083.4 1323.6C1084.7 1323.5 1086.0 1323.5 1087.3 1323.5C1088.6 1323.4 1089.9 1323.4 1091.1 1323.4C1092.4 1323.3 1093.7 1323.3 1095.0 1323.3C1096.3 1323.2 1097.6 1323.2 1098.9 1323.2C1100.2 1323.1 1101.4 1323.1 1102.7 1323.0C1104.0 1323.0 1105.3 1323.0 1106.6 1322.9C1107.9 1322.9 1109.2 1322.9 1110.5 1322.8C1111.7 1322.8 1113.0 1322.8 1114.3 1322.7C1115.6 1322.7 1116.9 1322.7 1118.2 1322.6C1119.5 1322.6 1120.8 1322.5 1122.0 1322.5C1123.3 1322.5 1124.6 1322.4 1125.9 1322.4C1127.2 1322.9 1128.5 1323.2 1130.0 1325.5C1131.5 1327.8 1133.6 1333.2 1135.0 1336.0C1136.4 1338.8 1137.4 1340.4 1138.7 1342.5C1139.9 1344.7 1141.1 1348.8 1142.3 1349.1C1143.5 1349.1 1144.5 1346.0 1145.6 1344.4C1146.7 1342.8 1147.8 1341.0 1148.9 1339.7C1150.0 1338.4 1150.9 1337.5 1152.0 1336.3C1153.0 1335.2 1154.0 1333.7 1155.0 1333.0C1156.0 1332.3 1157.1 1332.4 1158.1 1332.1C1159.1 1331.8 1159.7 1331.2 1161.2 1331.2C1162.7 1331.4 1165.1 1331.9 1167.0 1333.0C1168.9 1334.1 1171.0 1336.3 1172.5 1337.8C1174.0 1339.3 1174.8 1340.5 1176.0 1341.9C1177.1 1343.2 1178.3 1344.6 1179.4 1345.9C1180.6 1347.3 1181.6 1348.1 1182.9 1350.0C1184.2 1351.9 1185.8 1354.8 1187.3 1357.3C1188.8 1359.7 1190.2 1362.1 1191.7 1364.5C1193.2 1367.0 1194.4 1369.7 1196.1 1371.8C1197.8 1373.9 1200.1 1376.6 1201.8 1377.4C1203.5 1377.4 1204.7 1377.0 1206.2 1376.8C1207.7 1376.6 1209.1 1376.3 1210.6 1376.1C1212.1 1375.9 1213.7 1375.7 1215.0 1375.5C1216.3 1375.3 1217.4 1375.0 1218.5 1374.8C1219.7 1374.6 1220.9 1374.3 1222.1 1374.1C1223.3 1373.9 1224.5 1373.6 1225.7 1373.4C1226.8 1373.2 1228.0 1372.8 1229.2 1372.7C1230.4 1372.7 1231.7 1372.8 1233.0 1372.9C1234.2 1373.0 1235.5 1373.0 1236.7 1373.1C1238.0 1373.2 1239.2 1373.2 1240.5 1373.3C1241.7 1373.4 1243.0 1373.4 1244.2 1373.5C1245.5 1373.6 1246.7 1373.5 1248.0 1373.7C1249.3 1373.9 1250.6 1374.4 1251.9 1374.8C1253.2 1375.2 1254.6 1375.5 1255.9 1375.9C1257.2 1376.3 1258.5 1376.6 1259.8 1377.0C1261.1 1377.4 1262.4 1377.7 1263.7 1378.1C1265.0 1378.5 1266.4 1378.8 1267.7 1379.2C1269.0 1379.6 1270.2 1380.0 1271.6 1380.3C1273.0 1380.6 1274.4 1380.9 1275.8 1381.1C1277.2 1381.4 1278.6 1381.7 1280.0 1382.0C1281.4 1382.2 1282.8 1382.5 1284.2 1382.8C1285.6 1383.1 1287.0 1383.4 1288.4 1383.6C1289.8 1383.9 1291.2 1384.2 1292.6 1384.5C1294.0 1384.7 1295.4 1385.0 1296.8 1385.3C1298.2 1385.6 1299.6 1385.9 1301.0 1386.1C1302.4 1386.4 1303.8 1386.7 1305.2 1387.0C1306.6 1387.2 1308.0 1387.7 1309.4 1387.8C1310.8 1387.8 1312.2 1387.7 1313.6 1387.7C1315.0 1387.7 1316.4 1387.6 1317.8 1387.6C1319.2 1387.6 1320.6 1387.6 1322.0 1387.5C1323.4 1387.2 1324.7 1386.5 1326.0 1386.0C1327.3 1385.5 1328.6 1385.1 1330.0 1384.5C1331.4 1383.9 1332.9 1383.2 1334.3 1382.5C1335.8 1381.9 1337.2 1381.2 1338.7 1380.6C1340.1 1379.9 1341.6 1379.3 1343.0 1378.6C1344.4 1377.9 1345.9 1377.3 1347.3 1376.6C1348.8 1376.0 1350.2 1375.3 1351.7 1374.7C1353.1 1374.0 1354.6 1373.3 1356.0 1372.7C1357.4 1372.1 1358.6 1371.5 1360.0 1370.9C1361.3 1370.2 1362.6 1369.6 1363.9 1369.0C1365.2 1368.4 1366.6 1367.8 1367.9 1367.2C1369.2 1366.5 1370.5 1365.9 1371.8 1365.3C1373.2 1364.7 1374.5 1364.1 1375.8 1363.5C1377.1 1362.8 1378.4 1362.2 1379.8 1361.6C1381.1 1361.0 1382.4 1360.4 1383.7 1359.8C1385.0 1359.1 1386.4 1358.5 1387.7 1357.9C1389.0 1357.3 1390.3 1356.7 1391.6 1356.0C1393.0 1355.4 1394.3 1354.8 1395.6 1354.2C1396.9 1353.6 1398.2 1353.1 1399.5 1352.6C1400.9 1352.0 1402.2 1351.5 1403.5 1351.0C1404.8 1350.4 1406.1 1349.9 1407.4 1349.3C1408.7 1348.8 1410.0 1348.3 1411.4 1347.7C1412.7 1347.2 1414.0 1346.6 1415.3 1346.1C1416.6 1345.6 1417.9 1345.0 1419.2 1344.5C1420.6 1343.9 1421.9 1343.4 1423.2 1342.9C1424.5 1342.3 1425.8 1341.8 1427.1 1341.2C1428.4 1340.7 1429.7 1340.2 1431.1 1339.6C1432.4 1339.1 1433.7 1338.5 1435.0 1338.0C1436.3 1337.5 1437.8 1337.0 1439.2 1336.5C1440.5 1336.0 1441.9 1335.5 1443.3 1335.0C1444.7 1334.5 1446.1 1334.0 1447.5 1333.5C1448.8 1333.0 1450.2 1332.5 1451.6 1332.0C1453.0 1331.4 1454.4 1330.9 1455.8 1330.4C1457.1 1329.9 1458.5 1329.4 1459.9 1328.9C1461.3 1328.4 1462.7 1327.9 1464.0 1327.4C1465.4 1326.9 1466.9 1326.3 1468.2 1325.9C1469.5 1325.5 1470.8 1325.2 1472.1 1324.9C1473.4 1324.5 1474.8 1324.2 1476.1 1323.9C1477.4 1323.5 1478.7 1323.2 1480.0 1322.8C1481.3 1322.5 1482.6 1322.2 1483.9 1321.8C1485.3 1321.5 1486.6 1321.1 1487.9 1320.8C1489.2 1320.5 1490.5 1320.1 1491.8 1319.8C1493.1 1319.4 1494.4 1319.1 1495.8 1318.8C1497.1 1318.4 1498.4 1318.1 1499.7 1317.7C1501.0 1317.4 1502.3 1317.0 1503.6 1316.7C1504.9 1316.4 1506.2 1316.0 1507.6 1315.7C1508.9 1315.3 1510.2 1315.0 1511.5 1314.7C1512.8 1314.3 1514.1 1314.0 1515.4 1313.6C1516.7 1313.3 1518.1 1313.0 1519.4 1312.6C1520.7 1312.3 1521.9 1312.0 1523.3 1311.6C1524.7 1311.2 1526.2 1310.9 1527.7 1310.5C1529.2 1310.1 1530.6 1309.8 1532.1 1309.4C1533.6 1309.0 1535.2 1308.3 1536.5 1308.3C1537.8 1309.0 1538.9 1311.7 1540.2 1313.4C1541.4 1315.1 1542.6 1316.9 1543.8 1318.6C1545.1 1320.3 1546.2 1322.7 1547.5 1323.7C1548.8 1324.7 1550.4 1324.4 1551.9 1324.8C1553.4 1325.2 1555.0 1325.0 1556.3 1325.9C1557.6 1326.8 1558.7 1328.8 1560.0 1330.3C1561.2 1331.8 1562.4 1333.2 1563.6 1334.7C1564.9 1336.2 1566.1 1338.8 1567.3 1339.1C1568.5 1339.1 1569.5 1337.3 1570.6 1336.3C1571.7 1335.4 1572.6 1333.6 1573.9 1333.6C1575.2 1334.4 1576.9 1338.5 1578.3 1340.9C1579.8 1343.4 1581.3 1345.8 1582.8 1348.3C1584.2 1350.7 1585.7 1353.5 1587.2 1355.6C1588.7 1357.7 1590.1 1359.3 1591.6 1361.1C1593.1 1363.0 1594.5 1364.8 1596.0 1366.7C1597.5 1368.5 1598.9 1370.3 1600.4 1372.2C1601.9 1374.0 1603.5 1377.0 1604.8 1377.7C1606.1 1377.7 1607.0 1377.0 1608.1 1376.6C1609.2 1376.2 1610.1 1376.6 1611.4 1375.5C1612.7 1374.3 1614.3 1371.5 1615.8 1369.4C1617.3 1367.4 1618.7 1365.4 1620.2 1363.3C1621.7 1361.3 1623.1 1359.3 1624.6 1357.3C1626.1 1355.2 1627.6 1352.8 1629.0 1351.2C1630.4 1349.6 1631.5 1349.0 1632.8 1347.9C1634.0 1346.8 1635.3 1345.7 1636.6 1344.6C1637.8 1343.5 1639.1 1342.4 1640.4 1341.3C1641.6 1340.2 1642.9 1339.1 1644.1 1338.0C1645.4 1336.9 1646.7 1335.8 1647.9 1334.7C1649.2 1333.6 1650.5 1332.5 1651.7 1331.4C1653.0 1330.3 1654.2 1328.8 1655.5 1328.1C1656.8 1327.4 1658.2 1327.5 1659.6 1327.1C1661.0 1326.8 1662.4 1326.5 1663.8 1326.2C1665.1 1325.9 1666.5 1325.5 1667.9 1325.2C1669.2 1324.9 1670.6 1324.6 1672.0 1324.2C1673.4 1323.9 1674.8 1323.6 1676.1 1323.3C1677.5 1323.0 1678.9 1322.6 1680.2 1322.3C1681.6 1322.0 1683.0 1321.7 1684.4 1321.4C1685.8 1321.0 1687.1 1320.6 1688.5 1320.4C1689.9 1320.2 1691.2 1320.3 1692.5 1320.2C1693.8 1320.1 1695.2 1320.1 1696.5 1320.0C1697.9 1319.9 1699.2 1319.9 1700.5 1319.8C1701.9 1319.7 1703.2 1319.7 1704.5 1319.6C1705.9 1319.5 1707.2 1319.5 1708.5 1319.4C1709.9 1319.3 1711.2 1319.3 1712.6 1319.2C1713.9 1319.1 1715.2 1319.1 1716.6 1319.0C1717.9 1318.9 1719.2 1318.9 1720.6 1318.8C1721.9 1318.7 1723.2 1318.7 1724.6 1318.6C1725.9 1318.5 1727.3 1318.5 1728.6 1318.4C1729.9 1318.3 1731.3 1318.2 1732.6 1318.2C1733.9 1318.5 1735.0 1319.7 1736.3 1320.4C1737.5 1321.1 1738.7 1321.9 1739.9 1322.6C1741.2 1323.3 1742.2 1322.6 1743.6 1324.8C1745.0 1329.2 1746.6 1341.0 1748.0 1349.0C1749.5 1357.1 1751.2 1366.1 1752.5 1373.3C1753.8 1380.5 1754.7 1385.8 1755.8 1392.0C1756.8 1398.2 1757.9 1406.8 1759.0 1410.7C1760.1 1414.6 1761.2 1413.7 1762.3 1415.2C1763.5 1416.6 1764.6 1419.6 1765.7 1419.6C1766.8 1418.1 1767.9 1410.8 1769.0 1406.3C1770.1 1401.9 1771.0 1396.7 1772.3 1393.1C1773.6 1389.5 1775.5 1387.5 1777.0 1384.8C1778.6 1382.0 1780.3 1378.8 1781.8 1376.4C1783.3 1374.0 1784.6 1372.2 1786.0 1370.1C1787.4 1368.0 1788.8 1365.9 1790.2 1363.8C1791.5 1361.8 1792.9 1359.7 1794.3 1357.6C1795.7 1355.5 1797.1 1352.9 1798.5 1351.3C1799.9 1349.7 1801.3 1349.0 1802.7 1347.8C1804.1 1346.7 1805.4 1345.5 1806.8 1344.4C1808.2 1343.2 1809.6 1342.1 1811.0 1340.9C1812.4 1339.7 1813.8 1338.6 1815.2 1337.4C1816.6 1336.3 1817.9 1335.1 1819.3 1334.0C1820.7 1332.8 1822.1 1331.3 1823.5 1330.5C1824.9 1329.7 1826.3 1329.7 1827.7 1329.3C1829.1 1328.9 1830.5 1328.5 1831.9 1328.1C1833.3 1327.7 1834.7 1327.3 1836.1 1326.9C1837.5 1326.5 1838.8 1326.1 1840.2 1325.7C1841.6 1325.3 1843.0 1324.9 1844.4 1324.5C1845.8 1324.1 1847.2 1323.7 1848.6 1323.3C1850.0 1322.9 1851.4 1322.1 1852.8 1322.1C1854.2 1322.3 1855.6 1323.8 1857.0 1324.7C1858.4 1325.6 1859.8 1326.4 1861.2 1327.3C1862.5 1328.2 1863.9 1329.0 1865.3 1329.9C1866.7 1330.8 1868.1 1330.7 1869.5 1332.5C1870.9 1334.3 1872.3 1338.1 1873.7 1340.9C1875.0 1343.7 1876.4 1345.0 1877.8 1349.3C1879.2 1353.6 1880.6 1360.9 1882.0 1366.7C1883.4 1372.5 1884.7 1378.3 1886.1 1384.1C1887.5 1389.9 1889.0 1396.7 1890.3 1401.5C1891.6 1406.3 1892.6 1408.9 1893.8 1412.6C1895.0 1416.3 1896.1 1420.1 1897.3 1423.8C1898.5 1427.5 1899.5 1431.9 1900.8 1434.9C1902.1 1437.9 1903.6 1439.4 1904.9 1441.7C1906.3 1443.9 1907.7 1448.1 1909.1 1448.4C1910.5 1448.4 1911.9 1445.3 1913.3 1443.7C1914.7 1442.1 1916.1 1441.8 1917.5 1439.0C1918.9 1436.2 1920.3 1431.1 1921.7 1427.2C1923.1 1423.2 1924.4 1419.3 1925.8 1415.3C1927.2 1411.4 1928.6 1405.3 1930.0 1403.5C1931.4 1403.5 1932.9 1403.6 1934.2 1404.6C1935.5 1405.6 1936.8 1407.8 1938.0 1409.5C1939.3 1411.1 1940.6 1412.7 1941.9 1414.3C1943.1 1416.0 1944.2 1419.2 1945.7 1419.2C1947.2 1418.1 1949.2 1410.2 1950.9 1407.7C1952.6 1405.2 1954.4 1405.5 1956.1 1404.2C1957.8 1402.8 1959.7 1400.6 1961.3 1399.4C1962.9 1398.2 1964.1 1397.8 1965.5 1397.0C1966.9 1396.2 1968.3 1395.5 1969.7 1394.5C1971.1 1393.5 1972.4 1392.2 1973.9 1391.0C1975.4 1389.8 1977.2 1388.4 1978.9 1387.5C1980.6 1386.5 1982.2 1386.4 1983.9 1385.3C1985.6 1384.3 1987.2 1382.4 1988.9 1381.1C1990.6 1379.8 1992.2 1378.7 1993.9 1377.7C1995.6 1376.8 1997.2 1376.5 1998.9 1375.4C2000.6 1374.3 2002.4 1372.5 2004.1 1371.3C2005.9 1370.0 2007.6 1369.2 2009.3 1368.1C2011.1 1367.0 2012.8 1365.8 2014.6 1364.8C2016.3 1363.7 2018.1 1363.0 2019.8 1361.8C2021.5 1360.6 2023.3 1359.3 2025.0 1357.8C2026.8 1356.3 2028.5 1354.4 2030.2 1352.9C2032.0 1351.5 2033.7 1350.5 2035.5 1349.0C2037.2 1347.6 2038.9 1345.6 2040.7 1344.0C2042.5 1342.4 2044.4 1340.9 2046.3 1339.3C2048.1 1337.7 2050.0 1335.9 2051.8 1334.4C2053.7 1333.0 2055.5 1331.9 2057.4 1330.5C2059.3 1329.1 2061.1 1327.7 2063.0 1326.3C2064.8 1325.0 2066.7 1323.6 2068.5 1322.3C2070.4 1321.1 2073.2 1319.6 2074.1 1319.0" fill="none" stroke="#404040" stroke-width="6.5" stroke-linejoin="round" stroke-linecap="round"/>
<line x1="984.8" y1="85.1" x2="984.8" y2="1419.8" stroke="#C85500" stroke-width="6.6" stroke-dasharray="37.8 34.25"/>
<line x1="1141.7" y1="85.1" x2="1141.7" y2="1419.8" stroke="#FF8618" stroke-width="6.6" stroke-dasharray="37.8 34.25"/>
<line x1="1203.3" y1="85.1" x2="1203.3" y2="1419.8" stroke="#000000" stroke-width="6.6" stroke-dasharray="37.8 34.25"/>
<line x1="1311.6" y1="82.0" x2="1311.6" y2="1416.7" stroke="#000000" stroke-width="6.6" stroke-dasharray="37.8 34.25"/>
<line x1="1606.3" y1="78.9" x2="1606.3" y2="1413.6" stroke="#008C00" stroke-width="6.6" stroke-dasharray="37.8 34.25"/>
<line x1="1763.0" y1="111.4" x2="1763.0" y2="1446.1" stroke="#FF8618" stroke-width="6.6" stroke-dasharray="37.8 34.25"/>
<line x1="1908.0" y1="136.6" x2="1908.0" y2="1471.3" stroke="#00A5FF" stroke-width="6.6" stroke-dasharray="37.8 34.25"/>
<g stroke="#000" stroke-width="5.2" fill="none"><line x1="161.5" y1="48.7" x2="161.5" y2="1484.3"/><line x1="2097.5" y1="48.7" x2="2097.5" y2="1484.3"/><line x1="159.0" y1="51.2" x2="357.3" y2="51.2"/><line x1="391.3" y1="51.2" x2="2100.0" y2="51.2"/><line x1="159.0" y1="1481.8" x2="357.3" y2="1481.8"/><line x1="391.3" y1="1481.8" x2="2100.0" y2="1481.8"/><line x1="342.5" y1="86.0" x2="372.6" y2="17.7"/><line x1="376.5" y1="86.0" x2="406.6" y2="17.7"/><line x1="342.5" y1="1515.6" x2="372.6" y2="1447.3"/><line x1="376.5" y1="1515.6" x2="406.6" y2="1447.3"/><line x1="259.2" y1="1481.8" x2="259.2" y2="1509"/><line x1="591.6" y1="1481.8" x2="591.6" y2="1509"/><line x1="842.6" y1="1481.8" x2="842.6" y2="1509"/><line x1="1093.5" y1="1481.8" x2="1093.5" y2="1509"/><line x1="1344.4" y1="1481.8" x2="1344.4" y2="1509"/><line x1="1595.3" y1="1481.8" x2="1595.3" y2="1509"/><line x1="1846.2" y1="1481.8" x2="1846.2" y2="1509"/><line x1="210.3" y1="1481.8" x2="210.3" y2="1494.7"/><line x1="308.5" y1="1481.8" x2="308.5" y2="1494.7"/></g>
<g font-family="'Liberation Serif', 'Times New Roman', serif"><text x="259.5" y="1574.3" font-size="60.0" fill="#000" text-anchor="middle">3900</text><text x="591.7" y="1574.3" font-size="60.0" fill="#000" text-anchor="middle">2000</text><text x="842.6" y="1574.3" font-size="60.0" fill="#000" text-anchor="middle">1750</text><text x="1093.8" y="1574.3" font-size="60.0" fill="#000" text-anchor="middle">1500</text><text x="1345.0" y="1574.3" font-size="60.0" fill="#000" text-anchor="middle">1250</text><text x="1596.0" y="1574.3" font-size="60.0" fill="#000" text-anchor="middle">1000</text><text x="1847.0" y="1574.3" font-size="60.0" fill="#000" text-anchor="middle">750</text><text x="188.0" y="103.7" font-size="72.0" fill="#000" text-anchor="start">h</text><text x="188.0" y="192.0" font-size="72.0" fill="#000" text-anchor="start">g</text><text x="184.0" y="389.8" font-size="72.0" fill="#000" text-anchor="start">f</text><text x="185.0" y="563.9" font-size="72.0" fill="#000" text-anchor="start">e</text><text x="180.0" y="746.0" font-size="72.0" fill="#000" text-anchor="start">d</text><text x="181.0" y="946.0" font-size="72.0" fill="#000" text-anchor="start">c</text><text x="182.0" y="1151.9" font-size="72.0" fill="#000" text-anchor="start">b</text><text x="186.0" y="1306.0" font-size="72.0" fill="#000" text-anchor="start">a</text><text x="841.5" y="1696.6" font-size="74.5" fill="#000">Wavenumber(cm<tspan font-size="48" dx="-1" dy="-28">-1</tspan><tspan dx="2.5" dy="28">)</tspan></text><text x="0" y="0" font-size="73" fill="#000" text-anchor="middle" transform="translate(70.5 760.5) rotate(-90)">Transmittance(%)</text><text x="906.0" y="1464.5" font-size="75.0" fill="#C85500" text-anchor="start">C=O</text><text x="1056.0" y="1464.5" font-size="75.0" fill="#FF8618" text-anchor="start">CO</text><text x="1160.0" y="1481.0" font-size="48.0" fill="#FF8618" text-anchor="start">3</text><text x="1160.0" y="1431.5" font-size="48.0" fill="#FF8618" text-anchor="start">2-</text><text x="1197.5" y="1464.5" font-size="75.0" fill="#000" text-anchor="start">C</text><text x="0" y="0" font-size="75" fill="#000" transform="translate(1265.9 1457.5) scale(1.30 1)">-</text><text x="1319.5" y="1464.5" font-size="75.0" fill="#000" text-anchor="start">O</text><text x="1403.5" y="1464.5" font-size="75.0" fill="#008C00" text-anchor="start">O</text><text x="0" y="0" font-size="75" fill="#008C00" transform="translate(1478.0 1457.5) scale(1.30 1)">-</text><text x="1532.0" y="1464.5" font-size="75.0" fill="#008C00" text-anchor="start">C</text><text x="0" y="0" font-size="75" fill="#008C00" transform="translate(1601.5 1457.5) scale(1.30 1)">-</text><text x="1653.5" y="1464.5" font-size="75.0" fill="#008C00" text-anchor="start">O</text><text x="1716.0" y="1464.5" font-size="75.0" fill="#FF8618" text-anchor="start">CO</text><text x="1820.0" y="1478.5" font-size="48.0" fill="#FF8618" text-anchor="start">3</text><text x="1820.0" y="1429.0" font-size="48.0" fill="#FF8618" text-anchor="start">2-</text><text x="0" y="0" font-size="75" fill="#00A5FF" transform="translate(1919.5 1461.0) scale(1.22 1)">-</text><text x="1971.5" y="1471.4" font-size="75.0" fill="#00A5FF" text-anchor="start">OH</text><text x="203.3" y="1423.5" font-size="40" fill="#FF7B7B" text-anchor="middle" font-family="DejaVu Sans">&#x273B;</text><text x="242.0" y="1432.7" font-size="75.0" fill="#FF7B7B" text-anchor="start">Si</text><text x="0" y="0" font-size="75" fill="#FF7B7B" transform="translate(320.8 1423.7) scale(1.30 1)">-</text><text x="373.5" y="1432.7" font-size="75.0" fill="#FF7B7B" text-anchor="start">O</text><text x="0" y="0" font-size="75" fill="#FF7B7B" transform="translate(448.1 1423.7) scale(1.30 1)">-</text><text x="503.0" y="1432.7" font-size="75.0" fill="#FF7B7B" text-anchor="start">Si</text><text x="566.0" y="1432.7" font-size="75.0" fill="#000" text-anchor="start">;</text><text x="0" y="0" font-size="100" fill="#64B799" stroke="#fff" stroke-width="1.9" transform="translate(588.2 1418.8) scale(1.375 0.661)">&#x2321;</text><text x="672.0" y="1432.7" font-size="75.0" fill="#64B799" text-anchor="start">C</text><text x="0" y="0" font-size="75" fill="#64B799" transform="translate(740.5 1423.7) scale(1.30 1)">-</text><text x="794.5" y="1432.7" font-size="75.0" fill="#64B799" text-anchor="start">F</text><text x="0" y="0" font-size="100" fill="#000" stroke="#fff" stroke-width="1.9" transform="translate(1362.1 1268.1) scale(1.375 0.661)">&#x2321;</text><text x="0" y="0" font-size="100" fill="#000" stroke="#fff" stroke-width="1.9" transform="translate(1467.2 1230.7) scale(1.375 0.661)">&#x2321;</text></g>
<rect x="1387.8" y="51.2" width="21.2" height="1215.2" fill="#FF7F84" fill-opacity="0.4"/>
<rect x="1447.2" y="51.2" width="21.0" height="1215.6" fill="#6EB49D" fill-opacity="0.4"/>
<rect x="1499.7" y="51.2" width="21.3" height="1213.0" fill="#FF7F84" fill-opacity="0.4"/>
<rect x="1685.7" y="51.2" width="21.1" height="1215.6" fill="#6EB49D" fill-opacity="0.4"/>
<g font-family="DejaVu Sans" font-size="40" text-anchor="middle" fill="#000"><text x="1458.6" y="1254.1">&#x273B;</text><text x="1695.8" y="1233.9">&#x273B;</text></g></svg>
</body></html>
